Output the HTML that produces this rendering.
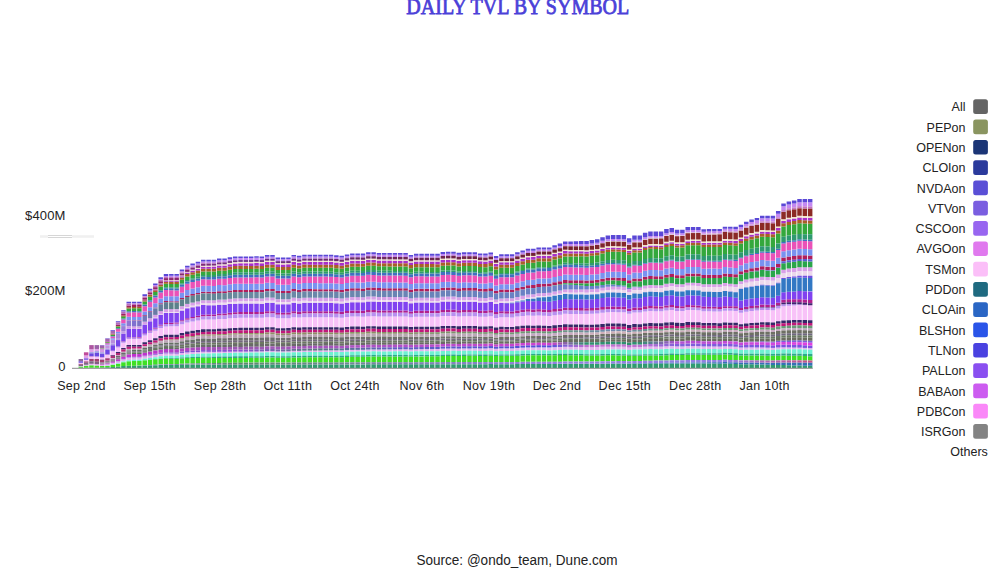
<!DOCTYPE html>
<html><head><meta charset="utf-8"><title>Daily TVL by Symbol</title>
<style>
html,body{margin:0;padding:0;background:#fff;}
body{width:1006px;height:570px;overflow:hidden;position:relative;}
svg{position:absolute;left:0;top:0;display:block;}
.t{font-family:"Liberation Serif",serif;fill:#4b40d8;}
.s{font-family:"Liberation Sans",sans-serif;fill:#222;}
</style></head><body>
<svg width="1006" height="570" viewBox="0 0 1006 570">
<text class="t" x="406.3" y="14.2" font-size="23" stroke="#4b40d8" stroke-width="0.8" textLength="223" lengthAdjust="spacingAndGlyphs">DAILY TVL BY SYMBOL</text>
<g class="s" font-size="13" letter-spacing="0.15">
<text x="65.6" y="219.6" text-anchor="end">$400M</text>
<text x="65.6" y="295.3" text-anchor="end">$200M</text>
<text x="65.6" y="370.5" text-anchor="end">0</text>
</g>
<path d="M48 235.5H72M48 237.5H72" stroke="#d6d6d6" stroke-width="1"/>
<path d="M40 236.5H48M72 236.5H94" stroke="#f0f0f0" stroke-width="2.5"/>
<g shape-rendering="auto">
<path fill="#2f9c70" d="M78.59 367.82h4.50v0.18h-4.50zM83.92 367.78h4.50v0.22h-4.50zM89.24 367.70h4.50v0.30h-4.50zM94.56 367.71h4.50v0.29h-4.50zM99.89 367.52h4.50v0.48h-4.50zM105.21 367.22h4.50v0.78h-4.50zM110.53 366.89h4.50v1.11h-4.50zM115.86 366.52h4.50v1.48h-4.50zM121.18 366.07h4.50v1.93h-4.50zM126.50 365.71h4.50v2.29h-4.50zM131.83 365.64h4.50v2.36h-4.50zM137.15 365.67h4.50v2.33h-4.50zM142.47 365.44h4.50v2.56h-4.50zM147.80 365.28h4.50v2.72h-4.50zM153.12 365.13h4.50v2.87h-4.50zM158.44 364.96h4.50v3.04h-4.50zM163.77 364.89h4.50v3.11h-4.50zM169.09 364.92h4.50v3.08h-4.50zM174.41 364.95h4.50v3.05h-4.50zM179.74 364.83h4.50v3.17h-4.50zM185.06 364.75h4.50v3.25h-4.50zM190.39 364.71h4.50v3.29h-4.50zM195.71 364.68h4.50v3.32h-4.50zM201.03 364.64h4.50v3.36h-4.50zM206.36 364.67h4.50v3.33h-4.50zM211.68 364.70h4.50v3.30h-4.50zM217.00 364.69h4.50v3.31h-4.50zM222.33 364.71h4.50v3.29h-4.50zM227.65 364.70h4.50v3.30h-4.50zM232.97 364.70h4.50v3.30h-4.50zM238.30 364.71h4.50v3.29h-4.50zM243.62 364.70h4.50v3.30h-4.50zM248.94 364.69h4.50v3.31h-4.50zM254.27 364.68h4.50v3.32h-4.50zM259.59 364.67h4.50v3.33h-4.50zM264.91 364.62h4.50v3.38h-4.50zM270.24 364.61h4.50v3.39h-4.50zM275.56 364.68h4.50v3.32h-4.50zM280.88 364.67h4.50v3.33h-4.50zM286.21 364.65h4.50v3.35h-4.50zM291.53 364.57h4.50v3.43h-4.50zM296.86 364.58h4.50v3.42h-4.50zM302.18 364.54h4.50v3.46h-4.50zM307.50 364.53h4.50v3.47h-4.50zM312.83 364.52h4.50v3.48h-4.50zM318.15 364.51h4.50v3.49h-4.50zM323.47 364.50h4.50v3.50h-4.50zM328.80 364.49h4.50v3.51h-4.50zM334.12 364.49h4.50v3.51h-4.50zM339.44 364.50h4.50v3.50h-4.50zM344.77 364.45h4.50v3.55h-4.50zM350.09 364.41h4.50v3.59h-4.50zM355.41 364.40h4.50v3.60h-4.50zM360.74 364.39h4.50v3.61h-4.50zM366.06 364.34h4.50v3.66h-4.50zM371.38 364.33h4.50v3.67h-4.50zM376.71 364.34h4.50v3.66h-4.50zM382.03 364.33h4.50v3.67h-4.50zM387.35 364.32h4.50v3.68h-4.50zM392.68 364.31h4.50v3.69h-4.50zM398.00 364.30h4.50v3.70h-4.50zM403.33 364.29h4.50v3.71h-4.50zM408.65 364.34h4.50v3.66h-4.50zM413.97 364.30h4.50v3.70h-4.50zM419.30 364.29h4.50v3.71h-4.50zM424.62 364.28h4.50v3.72h-4.50zM429.94 364.27h4.50v3.73h-4.50zM435.27 364.26h4.50v3.74h-4.50zM440.59 364.19h4.50v3.81h-4.50zM445.91 364.17h4.50v3.83h-4.50zM451.24 364.16h4.50v3.84h-4.50zM456.56 364.19h4.50v3.81h-4.50zM461.88 364.16h4.50v3.84h-4.50zM467.21 364.15h4.50v3.85h-4.50zM472.53 364.14h4.50v3.86h-4.50zM477.85 364.17h4.50v3.83h-4.50zM483.18 364.16h4.50v3.84h-4.50zM488.50 364.12h4.50v3.88h-4.50zM493.82 364.23h4.50v3.77h-4.50zM499.15 364.16h4.50v3.84h-4.50zM504.47 364.16h4.50v3.84h-4.50zM509.80 364.15h4.50v3.85h-4.50zM515.12 364.08h4.50v3.92h-4.50zM520.44 364.02h4.50v3.98h-4.50zM525.77 363.98h4.50v4.02h-4.50zM531.09 363.99h4.50v4.01h-4.50zM536.41 363.96h4.50v4.04h-4.50zM541.74 363.97h4.50v4.03h-4.50zM547.06 363.99h4.50v4.01h-4.50zM552.38 363.92h4.50v4.08h-4.50zM557.71 363.87h4.50v4.13h-4.50zM563.03 363.81h4.50v4.19h-4.50zM568.35 363.81h4.50v4.19h-4.50zM573.68 363.81h4.50v4.19h-4.50zM579.00 363.81h4.50v4.19h-4.50zM584.32 363.81h4.50v4.19h-4.50zM589.65 363.79h4.50v4.21h-4.50zM594.97 363.77h4.50v4.23h-4.50zM600.29 363.72h4.50v4.28h-4.50zM605.62 363.67h4.50v4.33h-4.50zM610.94 363.66h4.50v4.34h-4.50zM616.27 363.67h4.50v4.33h-4.50zM621.59 363.68h4.50v4.32h-4.50zM626.91 363.79h4.50v4.21h-4.50zM632.24 363.71h4.50v4.29h-4.50zM637.56 363.71h4.50v4.29h-4.50zM642.88 363.63h4.50v4.37h-4.50zM648.21 363.59h4.50v4.41h-4.50zM653.53 363.60h4.50v4.40h-4.50zM658.85 363.62h4.50v4.38h-4.50zM664.18 363.55h4.50v4.45h-4.50zM669.50 363.52h4.50v4.48h-4.50zM674.82 363.58h4.50v4.42h-4.50zM680.15 363.59h4.50v4.41h-4.50zM685.47 363.51h4.50v4.49h-4.50zM690.79 363.52h4.50v4.48h-4.50zM696.12 363.53h4.50v4.47h-4.50zM701.44 363.60h4.50v4.40h-4.50zM706.76 363.61h4.50v4.39h-4.50zM712.09 363.62h4.50v4.38h-4.50zM717.41 363.63h4.50v4.37h-4.50zM722.74 363.57h4.50v4.43h-4.50zM728.06 363.73h4.50v4.27h-4.50zM733.38 363.88h4.50v4.12h-4.50zM738.71 364.16h4.50v3.84h-4.50zM744.03 364.23h4.50v3.77h-4.50zM749.35 364.34h4.50v3.66h-4.50zM754.68 364.47h4.50v3.53h-4.50zM760.00 364.58h4.50v3.42h-4.50zM765.32 364.74h4.50v3.26h-4.50zM770.65 364.90h4.50v3.10h-4.50zM775.97 364.97h4.50v3.03h-4.50zM781.29 365.09h4.50v2.91h-4.50zM786.62 365.23h4.50v2.77h-4.50zM791.94 365.38h4.50v2.62h-4.50zM797.26 365.53h4.50v2.47h-4.50zM802.59 365.70h4.50v2.30h-4.50zM807.91 365.87h4.50v2.13h-4.50z"/>
<path fill="#3fe025" d="M78.59 366.45h4.50v1.36h-4.50zM83.92 365.87h4.50v1.90h-4.50zM89.24 365.25h4.50v2.45h-4.50zM94.56 365.49h4.50v2.22h-4.50zM99.89 366.05h4.50v1.47h-4.50zM105.21 365.96h4.50v1.26h-4.50zM110.53 364.87h4.50v2.02h-4.50zM115.86 363.68h4.50v2.85h-4.50zM121.18 362.30h4.50v3.77h-4.50zM126.50 361.16h4.50v4.54h-4.50zM131.83 360.92h4.50v4.72h-4.50zM137.15 361.00h4.50v4.57h-4.50zM142.47 360.30h4.50v4.93h-4.50zM147.80 359.82h4.50v5.14h-4.50zM153.12 359.36h4.50v5.32h-4.50zM158.44 358.83h4.50v5.54h-4.50zM163.77 358.60h4.50v5.57h-4.50zM169.09 358.69h4.50v5.42h-4.50zM174.41 358.78h4.50v5.27h-4.50zM179.74 358.40h4.50v5.39h-4.50zM185.06 358.12h4.50v5.44h-4.50zM190.39 357.99h4.50v5.42h-4.50zM195.71 357.90h4.50v5.37h-4.50zM201.03 357.79h4.50v5.34h-4.50zM206.36 357.86h4.50v5.21h-4.50zM211.68 357.93h4.50v5.09h-4.50zM217.00 357.90h4.50v5.02h-4.50zM222.33 357.96h4.50v4.91h-4.50zM227.65 357.91h4.50v4.85h-4.50zM232.97 357.90h4.50v4.77h-4.50zM238.30 357.95h4.50v4.68h-4.50zM243.62 357.91h4.50v4.71h-4.50zM248.94 357.87h4.50v4.74h-4.50zM254.27 357.81h4.50v4.78h-4.50zM259.59 357.79h4.50v4.80h-4.50zM264.91 357.62h4.50v4.89h-4.50zM270.24 357.58h4.50v4.92h-4.50zM275.56 357.77h4.50v4.84h-4.50zM280.88 357.73h4.50v4.87h-4.50zM286.21 357.68h4.50v4.90h-4.50zM291.53 357.41h4.50v5.04h-4.50zM296.86 357.46h4.50v5.03h-4.50zM302.18 357.32h4.50v5.10h-4.50zM307.50 357.28h4.50v5.13h-4.50zM312.83 357.25h4.50v5.16h-4.50zM318.15 357.21h4.50v5.19h-4.50zM323.47 357.17h4.50v5.22h-4.50zM328.80 357.13h4.50v5.25h-4.50zM334.12 357.13h4.50v5.26h-4.50zM339.44 357.15h4.50v5.26h-4.50zM344.77 356.97h4.50v5.35h-4.50zM350.09 356.84h4.50v5.43h-4.50zM355.41 356.80h4.50v5.46h-4.50zM360.74 356.78h4.50v5.48h-4.50zM366.06 356.61h4.50v5.57h-4.50zM371.38 356.57h4.50v5.60h-4.50zM376.71 356.60h4.50v5.59h-4.50zM382.03 356.56h4.50v5.62h-4.50zM387.35 356.53h4.50v5.65h-4.50zM392.68 356.49h4.50v5.68h-4.50zM398.00 356.45h4.50v5.71h-4.50zM403.33 356.41h4.50v5.74h-4.50zM408.65 356.56h4.50v5.67h-4.50zM413.97 356.41h4.50v5.76h-4.50zM419.30 356.38h4.50v5.78h-4.50zM424.62 356.34h4.50v5.81h-4.50zM429.94 356.30h4.50v5.84h-4.50zM435.27 356.26h4.50v5.87h-4.50zM440.59 356.04h4.50v5.99h-4.50zM445.91 355.97h4.50v6.03h-4.50zM451.24 355.93h4.50v6.06h-4.50zM456.56 356.01h4.50v6.03h-4.50zM461.88 355.91h4.50v6.09h-4.50zM467.21 355.87h4.50v6.12h-4.50zM472.53 355.83h4.50v6.15h-4.50zM477.85 355.92h4.50v6.11h-4.50zM483.18 355.91h4.50v6.13h-4.50zM488.50 355.75h4.50v6.22h-4.50zM493.82 356.10h4.50v6.05h-4.50zM499.15 355.87h4.50v6.18h-4.50zM504.47 355.86h4.50v6.19h-4.50zM509.80 355.85h4.50v6.20h-4.50zM515.12 355.62h4.50v6.33h-4.50zM520.44 355.42h4.50v6.44h-4.50zM525.77 355.28h4.50v6.52h-4.50zM531.09 355.31h4.50v6.51h-4.50zM536.41 355.20h4.50v6.58h-4.50zM541.74 355.24h4.50v6.57h-4.50zM547.06 355.27h4.50v6.56h-4.50zM552.38 355.17h4.50v6.56h-4.50zM557.71 355.12h4.50v6.53h-4.50zM563.03 355.02h4.50v6.53h-4.50zM568.35 355.14h4.50v6.41h-4.50zM573.68 355.24h4.50v6.30h-4.50zM579.00 355.33h4.50v6.21h-4.50zM584.32 355.44h4.50v6.09h-4.50zM589.65 355.48h4.50v6.02h-4.50zM594.97 355.51h4.50v5.95h-4.50zM600.29 355.39h4.50v5.93h-4.50zM605.62 355.31h4.50v5.89h-4.50zM610.94 355.33h4.50v5.80h-4.50zM616.27 355.41h4.50v5.68h-4.50zM621.59 355.48h4.50v5.57h-4.50zM626.91 355.86h4.50v5.33h-4.50zM632.24 355.66h4.50v5.34h-4.50zM637.56 355.71h4.50v5.24h-4.50zM642.88 355.52h4.50v5.24h-4.50zM648.21 355.46h4.50v5.19h-4.50zM653.53 355.43h4.50v5.18h-4.50zM658.85 355.41h4.50v5.17h-4.50zM664.18 355.14h4.50v5.27h-4.50zM669.50 354.99h4.50v5.31h-4.50zM674.82 355.11h4.50v5.24h-4.50zM680.15 355.07h4.50v5.24h-4.50zM685.47 354.78h4.50v5.34h-4.50zM690.79 354.73h4.50v5.34h-4.50zM696.12 354.69h4.50v5.33h-4.50zM701.44 354.86h4.50v5.25h-4.50zM706.76 354.80h4.50v5.25h-4.50zM712.09 354.77h4.50v5.25h-4.50zM717.41 354.73h4.50v5.24h-4.50zM722.74 354.49h4.50v5.32h-4.50zM728.06 354.69h4.50v5.23h-4.50zM733.38 354.89h4.50v5.15h-4.50zM738.71 355.46h4.50v4.91h-4.50zM744.03 355.40h4.50v4.92h-4.50zM749.35 355.44h4.50v4.90h-4.50zM754.68 355.52h4.50v4.86h-4.50zM760.00 355.55h4.50v4.84h-4.50zM765.32 355.71h4.50v4.74h-4.50zM770.65 355.87h4.50v4.65h-4.50zM775.97 355.66h4.50v4.69h-4.50zM781.29 355.62h4.50v4.67h-4.50zM786.62 355.66h4.50v4.62h-4.50zM791.94 355.77h4.50v4.54h-4.50zM797.26 355.85h4.50v4.48h-4.50zM802.59 356.03h4.50v4.37h-4.50zM807.91 356.21h4.50v4.27h-4.50z"/>
<path fill="#e4b4ee" d="M78.59 366.00h4.50v0.45h-4.50zM83.92 364.73h4.50v1.14h-4.50zM89.24 363.88h4.50v1.37h-4.50zM94.56 364.34h4.50v1.16h-4.50zM99.89 364.87h4.50v1.09h-4.50zM105.21 364.40h4.50v1.35h-4.50zM110.53 362.92h4.50v1.61h-4.50zM115.86 361.30h4.50v1.90h-4.50zM121.18 359.28h4.50v2.26h-4.50zM126.50 357.63h4.50v2.52h-4.50zM131.83 357.33h4.50v2.46h-4.50zM137.15 357.41h4.50v2.31h-4.50zM142.47 356.29h4.50v2.42h-4.50zM147.80 355.50h4.50v2.45h-4.50zM153.12 354.73h4.50v2.46h-4.50zM158.44 353.85h4.50v2.47h-4.50zM163.77 353.44h4.50v2.41h-4.50zM169.09 353.52h4.50v2.26h-4.50zM174.41 353.59h4.50v2.12h-4.50zM179.74 352.95h4.50v2.08h-4.50zM185.06 352.46h4.50v2.02h-4.50zM190.39 352.19h4.50v1.93h-4.50zM195.71 351.99h4.50v1.83h-4.50zM201.03 351.76h4.50v1.73h-4.50zM206.36 351.82h4.50v1.61h-4.50zM211.68 351.88h4.50v1.49h-4.50zM217.00 351.78h4.50v1.39h-4.50zM222.33 351.84h4.50v1.28h-4.50zM227.65 351.70h4.50v1.19h-4.50zM232.97 351.65h4.50v1.09h-4.50zM238.30 351.67h4.50v1.00h-4.50zM243.62 351.61h4.50v1.03h-4.50zM248.94 351.55h4.50v1.06h-4.50zM254.27 351.46h4.50v1.10h-4.50zM259.59 351.42h4.50v1.13h-4.50zM264.91 351.15h4.50v1.18h-4.50zM270.24 351.09h4.50v1.21h-4.50zM275.56 351.40h4.50v1.22h-4.50zM280.88 351.34h4.50v1.25h-4.50zM286.21 351.27h4.50v1.28h-4.50zM291.53 350.83h4.50v1.34h-4.50zM296.86 350.90h4.50v1.37h-4.50zM302.18 350.69h4.50v1.41h-4.50zM307.50 350.63h4.50v1.44h-4.50zM312.83 350.56h4.50v1.48h-4.50zM318.15 350.50h4.50v1.51h-4.50zM323.47 350.44h4.50v1.54h-4.50zM328.80 350.38h4.50v1.57h-4.50zM334.12 350.38h4.50v1.60h-4.50zM339.44 350.41h4.50v1.63h-4.50zM344.77 350.13h4.50v1.68h-4.50zM350.09 349.91h4.50v1.73h-4.50zM355.41 349.85h4.50v1.76h-4.50zM360.74 349.82h4.50v1.79h-4.50zM366.06 349.55h4.50v1.84h-4.50zM371.38 349.49h4.50v1.87h-4.50zM376.71 349.54h4.50v1.90h-4.50zM382.03 349.48h4.50v1.93h-4.50zM387.35 349.42h4.50v1.96h-4.50zM392.68 349.36h4.50v1.99h-4.50zM398.00 349.30h4.50v2.03h-4.50zM403.33 349.24h4.50v2.06h-4.50zM408.65 349.49h4.50v2.06h-4.50zM413.97 349.25h4.50v2.11h-4.50zM419.30 349.19h4.50v2.14h-4.50zM424.62 349.13h4.50v2.17h-4.50zM429.94 349.07h4.50v2.20h-4.50zM435.27 349.01h4.50v2.24h-4.50zM440.59 348.65h4.50v2.30h-4.50zM445.91 348.54h4.50v2.34h-4.50zM451.24 348.48h4.50v2.37h-4.50zM456.56 348.61h4.50v2.38h-4.50zM461.88 348.44h4.50v2.43h-4.50zM467.21 348.38h4.50v2.46h-4.50zM472.53 348.33h4.50v2.49h-4.50zM477.85 348.47h4.50v2.50h-4.50zM483.18 348.45h4.50v2.52h-4.50zM488.50 348.20h4.50v2.58h-4.50zM493.82 348.76h4.50v2.53h-4.50zM499.15 348.39h4.50v2.60h-4.50zM504.47 348.38h4.50v2.63h-4.50zM509.80 348.36h4.50v2.65h-4.50zM515.12 348.00h4.50v2.72h-4.50zM520.44 347.67h4.50v2.79h-4.50zM525.77 347.44h4.50v2.85h-4.50zM531.09 347.50h4.50v2.86h-4.50zM536.41 347.32h4.50v2.91h-4.50zM541.74 347.38h4.50v2.92h-4.50zM547.06 347.44h4.50v2.94h-4.50zM552.38 347.19h4.50v2.95h-4.50zM557.71 347.03h4.50v2.95h-4.50zM563.03 346.78h4.50v2.96h-4.50zM568.35 346.90h4.50v2.92h-4.50zM573.68 346.98h4.50v2.88h-4.50zM579.00 347.05h4.50v2.85h-4.50zM584.32 347.16h4.50v2.81h-4.50zM589.65 347.14h4.50v2.79h-4.50zM594.97 347.11h4.50v2.77h-4.50zM600.29 346.87h4.50v2.77h-4.50zM605.62 346.67h4.50v2.77h-4.50zM610.94 346.67h4.50v2.74h-4.50zM616.27 346.75h4.50v2.70h-4.50zM621.59 346.82h4.50v2.66h-4.50zM626.91 347.41h4.50v2.56h-4.50zM632.24 347.03h4.50v2.58h-4.50zM637.56 347.07h4.50v2.54h-4.50zM642.88 346.70h4.50v2.56h-4.50zM648.21 346.54h4.50v2.55h-4.50zM653.53 346.60h4.50v2.55h-4.50zM658.85 346.65h4.50v2.55h-4.50zM664.18 346.28h4.50v2.59h-4.50zM669.50 346.13h4.50v2.62h-4.50zM674.82 346.43h4.50v2.59h-4.50zM680.15 346.45h4.50v2.59h-4.50zM685.47 346.06h4.50v2.64h-4.50zM690.79 346.08h4.50v2.65h-4.50zM696.12 346.11h4.50v2.65h-4.50zM701.44 346.47h4.50v2.61h-4.50zM706.76 346.47h4.50v2.62h-4.50zM712.09 346.51h4.50v2.62h-4.50zM717.41 346.54h4.50v2.62h-4.50zM722.74 346.24h4.50v2.66h-4.50zM728.06 346.49h4.50v2.58h-4.50zM733.38 346.74h4.50v2.50h-4.50zM738.71 347.60h4.50v2.35h-4.50zM744.03 347.43h4.50v2.32h-4.50zM749.35 347.41h4.50v2.27h-4.50zM754.68 347.47h4.50v2.21h-4.50zM760.00 347.45h4.50v2.16h-4.50zM765.32 347.68h4.50v2.07h-4.50zM770.65 347.90h4.50v1.99h-4.50zM775.97 347.51h4.50v1.97h-4.50zM781.29 347.40h4.50v1.91h-4.50zM786.62 347.43h4.50v1.85h-4.50zM791.94 347.56h4.50v1.77h-4.50zM797.26 347.66h4.50v1.70h-4.50zM802.59 347.92h4.50v1.61h-4.50zM807.91 348.18h4.50v1.52h-4.50z"/>
<path fill="#7a6a88" d="M78.59 365.59h4.50v0.41h-4.50zM78.59 365.32h4.50v0.27h-4.50zM78.59 365.05h4.50v0.27h-4.50zM78.59 364.64h4.50v0.41h-4.50z"/>
<path fill="#a04070" d="M78.59 363.73h4.50v0.91h-4.50zM83.92 361.30h4.50v1.43h-4.50zM89.24 358.65h4.50v2.56h-4.50zM94.56 358.94h4.50v2.89h-4.50z"/>
<path fill="#f8c2f8" d="M78.59 362.64h4.50v1.09h-4.50zM83.92 359.87h4.50v1.43h-4.50zM89.24 356.43h4.50v2.22h-4.50zM94.56 356.62h4.50v2.31h-4.50zM99.89 357.40h4.50v2.29h-4.50zM105.21 354.94h4.50v2.95h-4.50zM110.53 351.36h4.50v3.65h-4.50zM115.86 347.53h4.50v4.39h-4.50zM121.18 342.67h4.50v5.34h-4.50zM126.50 339.00h4.50v6.02h-4.50zM131.83 339.01h4.50v5.95h-4.50zM137.15 338.95h4.50v5.95h-4.50zM142.47 335.59h4.50v6.62h-4.50zM147.80 333.10h4.50v7.10h-4.50zM153.12 330.66h4.50v7.59h-4.50zM158.44 327.90h4.50v8.13h-4.50zM163.77 326.41h4.50v8.41h-4.50zM169.09 326.35h4.50v8.41h-4.50zM174.41 326.29h4.50v8.40h-4.50zM179.74 324.14h4.50v8.82h-4.50zM185.06 322.43h4.50v9.15h-4.50zM190.39 321.40h4.50v9.34h-4.50zM195.71 320.55h4.50v9.50h-4.50zM201.03 319.60h4.50v9.68h-4.50zM206.36 319.56h4.50v9.67h-4.50zM211.68 319.51h4.50v9.67h-4.50zM217.00 318.97h4.50v9.77h-4.50zM222.33 318.93h4.50v9.76h-4.50zM227.65 318.31h4.50v9.88h-4.50zM232.97 317.95h4.50v9.94h-4.50zM238.30 317.82h4.50v9.96h-4.50zM243.62 317.83h4.50v9.95h-4.50zM248.94 317.84h4.50v9.94h-4.50zM254.27 317.75h4.50v9.94h-4.50zM259.59 317.85h4.50v9.92h-4.50zM264.91 317.22h4.50v10.03h-4.50zM270.24 317.23h4.50v10.02h-4.50zM275.56 318.36h4.50v9.79h-4.50zM280.88 318.37h4.50v9.78h-4.50zM286.21 318.33h4.50v9.78h-4.50zM291.53 317.21h4.50v9.99h-4.50zM296.86 317.62h4.50v9.90h-4.50zM302.18 317.18h4.50v9.98h-4.50zM307.50 317.18h4.50v9.97h-4.50zM312.83 317.19h4.50v9.96h-4.50zM318.15 317.19h4.50v9.95h-4.50zM323.47 317.20h4.50v9.94h-4.50zM328.80 317.20h4.50v9.93h-4.50zM334.12 317.39h4.50v9.88h-4.50zM339.44 317.67h4.50v9.82h-4.50zM344.77 317.04h4.50v9.93h-4.50zM350.09 316.60h4.50v10.01h-4.50zM355.41 316.61h4.50v10.00h-4.50zM360.74 316.70h4.50v9.97h-4.50zM366.06 316.12h4.50v10.08h-4.50zM371.38 316.13h4.50v10.07h-4.50zM376.71 316.45h4.50v10.00h-4.50zM382.03 316.46h4.50v9.99h-4.50zM387.35 316.46h4.50v9.98h-4.50zM392.68 316.47h4.50v9.97h-4.50zM398.00 316.47h4.50v9.96h-4.50zM403.33 316.48h4.50v9.95h-4.50zM408.65 317.33h4.50v9.77h-4.50zM413.97 316.85h4.50v9.86h-4.50zM419.30 316.85h4.50v9.85h-4.50zM424.62 316.86h4.50v9.84h-4.50zM429.94 316.86h4.50v9.83h-4.50zM435.27 316.87h4.50v9.82h-4.50zM440.59 316.07h4.50v9.97h-4.50zM445.91 315.94h4.50v9.98h-4.50zM451.24 315.95h4.50v9.97h-4.50zM456.56 316.44h4.50v9.87h-4.50zM461.88 316.18h4.50v9.91h-4.50zM467.21 316.19h4.50v9.90h-4.50zM472.53 316.19h4.50v9.89h-4.50zM477.85 316.74h4.50v9.78h-4.50zM483.18 316.83h4.50v9.75h-4.50zM488.50 316.34h4.50v9.84h-4.50zM493.82 317.96h4.50v9.52h-4.50zM499.15 317.16h4.50v9.67h-4.50zM504.47 317.27h4.50v9.64h-4.50zM509.80 317.39h4.50v9.61h-4.50zM515.12 316.61h4.50v9.75h-4.50zM520.44 315.92h4.50v9.87h-4.50zM525.77 315.49h4.50v9.94h-4.50zM531.09 315.80h4.50v9.87h-4.50zM536.41 315.50h4.50v9.92h-4.50zM541.74 315.81h4.50v9.85h-4.50zM547.06 316.12h4.50v9.79h-4.50zM552.38 315.28h4.50v10.02h-4.50zM557.71 314.70h4.50v10.20h-4.50zM563.03 313.87h4.50v10.44h-4.50zM568.35 313.97h4.50v10.49h-4.50zM573.68 313.99h4.50v10.56h-4.50zM579.00 313.97h4.50v10.64h-4.50zM584.32 314.07h4.50v10.69h-4.50zM589.65 313.83h4.50v10.81h-4.50zM594.97 313.55h4.50v10.93h-4.50zM600.29 312.81h4.50v11.14h-4.50zM605.62 312.18h4.50v11.33h-4.50zM610.94 312.07h4.50v11.41h-4.50zM616.27 312.16h4.50v11.46h-4.50zM621.59 312.25h4.50v11.50h-4.50zM626.91 313.68h4.50v11.26h-4.50zM632.24 312.58h4.50v11.54h-4.50zM637.56 312.60h4.50v11.60h-4.50zM642.88 311.49h4.50v11.89h-4.50zM648.21 310.97h4.50v12.05h-4.50zM653.53 311.16h4.50v11.99h-4.50zM658.85 311.36h4.50v11.93h-4.50zM664.18 310.41h4.50v12.11h-4.50zM669.50 310.05h4.50v12.17h-4.50zM674.82 310.89h4.50v11.97h-4.50zM680.15 310.98h4.50v11.93h-4.50zM685.47 310.00h4.50v12.12h-4.50zM690.79 310.10h4.50v12.08h-4.50zM696.12 310.22h4.50v12.03h-4.50zM701.44 311.21h4.50v11.81h-4.50zM706.76 311.25h4.50v11.78h-4.50zM712.09 311.39h4.50v11.73h-4.50zM717.41 311.53h4.50v11.69h-4.50zM722.74 310.78h4.50v11.82h-4.50zM728.06 310.86h4.50v11.84h-4.50zM733.38 310.94h4.50v11.86h-4.50zM738.71 312.68h4.50v11.53h-4.50zM744.03 311.65h4.50v11.78h-4.50zM749.35 311.02h4.50v11.95h-4.50zM754.68 310.58h4.50v12.08h-4.50zM760.00 309.91h4.50v12.25h-4.50zM765.32 310.04h4.50v12.25h-4.50zM770.65 310.17h4.50v12.24h-4.50zM775.97 308.52h4.50v12.62h-4.50zM781.29 306.21h4.50v14.30h-4.50zM786.62 305.64h4.50v14.53h-4.50zM791.94 305.38h4.50v14.70h-4.50zM797.26 305.01h4.50v14.90h-4.50zM802.59 305.15h4.50v14.97h-4.50zM807.91 305.30h4.50v15.04h-4.50z"/>
<path fill="#6a48e0" d="M78.59 361.27h4.50v1.36h-4.50zM83.92 358.30h4.50v1.52h-4.50zM89.24 353.24h4.50v3.07h-4.50zM94.56 352.81h4.50v3.66h-4.50z"/>
<path fill="#8a6a9a" d="M78.59 359.00h4.50v2.27h-4.50z"/>
<path fill="#cb40d7" d="M83.92 364.63h4.50v0.10h-4.50z"/>
<path fill="#7c6785" d="M83.92 364.06h4.50v0.57h-4.50zM83.92 363.68h4.50v0.38h-4.50zM83.92 363.30h4.50v0.38h-4.50zM83.92 362.73h4.50v0.57h-4.50z"/>
<path fill="#b0208f" d="M83.92 359.82h4.50v0.05h-4.50zM89.24 356.31h4.50v0.11h-4.50zM94.56 356.48h4.50v0.14h-4.50zM99.89 357.11h4.50v0.16h-4.50zM105.21 354.42h4.50v0.21h-4.50zM110.53 350.60h4.50v0.27h-4.50zM115.86 346.49h4.50v0.33h-4.50zM121.18 341.30h4.50v0.41h-4.50zM126.50 337.36h4.50v0.47h-4.50zM131.83 337.31h4.50v0.47h-4.50zM137.15 337.11h4.50v0.53h-4.50zM142.47 333.41h4.50v0.65h-4.50zM147.80 330.62h4.50v0.77h-4.50zM153.12 327.85h4.50v0.88h-4.50zM158.44 324.75h4.50v1.01h-4.50zM163.77 323.01h4.50v1.11h-4.50zM169.09 322.81h4.50v1.17h-4.50zM174.41 322.62h4.50v1.23h-4.50zM179.74 320.15h4.50v1.35h-4.50zM185.06 318.17h4.50v1.46h-4.50zM190.39 316.92h4.50v1.55h-4.50zM195.71 315.86h4.50v1.63h-4.50zM201.03 314.71h4.50v1.71h-4.50zM206.36 314.55h4.50v1.76h-4.50zM211.68 314.40h4.50v1.81h-4.50zM217.00 313.70h4.50v1.88h-4.50zM222.33 313.56h4.50v1.92h-4.50zM227.65 312.77h4.50v1.99h-4.50zM232.97 312.28h4.50v2.05h-4.50zM238.30 312.05h4.50v2.09h-4.50zM243.62 312.05h4.50v2.10h-4.50zM248.94 312.06h4.50v2.10h-4.50zM254.27 311.96h4.50v2.11h-4.50zM259.59 312.06h4.50v2.12h-4.50zM264.91 311.36h4.50v2.15h-4.50zM270.24 311.37h4.50v2.16h-4.50zM275.56 312.62h4.50v2.11h-4.50zM280.88 312.63h4.50v2.12h-4.50zM286.21 312.58h4.50v2.13h-4.50zM291.53 311.33h4.50v2.18h-4.50zM296.86 311.78h4.50v2.17h-4.50zM302.18 311.29h4.50v2.20h-4.50zM307.50 311.29h4.50v2.20h-4.50zM312.83 311.29h4.50v2.21h-4.50zM318.15 311.29h4.50v2.22h-4.50zM323.47 311.30h4.50v2.22h-4.50zM328.80 311.30h4.50v2.23h-4.50zM334.12 311.50h4.50v2.23h-4.50zM339.44 311.81h4.50v2.22h-4.50zM344.77 311.11h4.50v2.26h-4.50zM350.09 310.61h4.50v2.28h-4.50zM355.41 310.62h4.50v2.29h-4.50zM360.74 310.72h4.50v2.29h-4.50zM366.06 310.07h4.50v2.32h-4.50zM371.38 310.07h4.50v2.33h-4.50zM376.71 310.43h4.50v2.32h-4.50zM382.03 310.43h4.50v2.33h-4.50zM387.35 310.43h4.50v2.34h-4.50zM392.68 310.44h4.50v2.34h-4.50zM398.00 310.44h4.50v2.35h-4.50zM403.33 310.44h4.50v2.36h-4.50zM408.65 311.40h4.50v2.32h-4.50zM413.97 310.85h4.50v2.35h-4.50zM419.30 310.85h4.50v2.36h-4.50zM424.62 310.85h4.50v2.36h-4.50zM429.94 310.86h4.50v2.37h-4.50zM435.27 310.86h4.50v2.38h-4.50zM440.59 309.96h4.50v2.42h-4.50zM445.91 309.82h4.50v2.43h-4.50zM451.24 309.82h4.50v2.44h-4.50zM456.56 310.37h4.50v2.42h-4.50zM461.88 310.07h4.50v2.44h-4.50zM467.21 310.08h4.50v2.45h-4.50zM472.53 310.08h4.50v2.45h-4.50zM477.85 310.68h4.50v2.43h-4.50zM483.18 310.79h4.50v2.44h-4.50zM488.50 310.24h4.50v2.46h-4.50zM493.82 312.04h4.50v2.39h-4.50zM499.15 311.15h4.50v2.44h-4.50zM504.47 311.27h4.50v2.44h-4.50zM509.80 311.39h4.50v2.44h-4.50zM515.12 310.52h4.50v2.48h-4.50zM520.44 309.75h4.50v2.52h-4.50zM525.77 309.26h4.50v2.55h-4.50zM531.09 309.61h4.50v2.54h-4.50zM536.41 309.27h4.50v2.56h-4.50zM541.74 309.61h4.50v2.55h-4.50zM547.06 309.95h4.50v2.55h-4.50zM552.38 309.10h4.50v2.57h-4.50zM557.71 308.54h4.50v2.59h-4.50zM563.03 307.69h4.50v2.62h-4.50zM568.35 307.90h4.50v2.60h-4.50zM573.68 308.01h4.50v2.59h-4.50zM579.00 308.07h4.50v2.58h-4.50zM584.32 308.26h4.50v2.56h-4.50zM589.65 308.08h4.50v2.56h-4.50zM594.97 307.86h4.50v2.56h-4.50zM600.29 307.12h4.50v2.58h-4.50zM605.62 306.52h4.50v2.60h-4.50zM610.94 306.48h4.50v2.59h-4.50zM616.27 306.67h4.50v2.57h-4.50zM621.59 306.86h4.50v2.56h-4.50zM626.91 308.51h4.50v2.48h-4.50zM632.24 307.38h4.50v2.51h-4.50zM637.56 307.49h4.50v2.50h-4.50zM642.88 306.36h4.50v2.54h-4.50zM648.21 305.87h4.50v2.55h-4.50zM653.53 306.13h4.50v2.50h-4.50zM658.85 306.38h4.50v2.45h-4.50zM664.18 305.39h4.50v2.45h-4.50zM669.50 305.04h4.50v2.42h-4.50zM674.82 305.99h4.50v2.34h-4.50zM680.15 306.14h4.50v2.30h-4.50zM685.47 305.12h4.50v2.29h-4.50zM690.79 305.26h4.50v2.25h-4.50zM696.12 305.44h4.50v2.20h-4.50zM701.44 306.55h4.50v2.12h-4.50zM706.76 306.63h4.50v2.08h-4.50zM712.09 306.83h4.50v2.03h-4.50zM717.41 307.02h4.50v1.99h-4.50zM722.74 306.24h4.50v1.97h-4.50zM728.06 306.23h4.50v2.04h-4.50zM733.38 306.22h4.50v2.11h-4.50zM738.71 308.02h4.50v2.11h-4.50zM744.03 306.81h4.50v2.22h-4.50zM749.35 306.02h4.50v2.32h-4.50zM754.68 305.44h4.50v2.41h-4.50zM760.00 304.61h4.50v2.51h-4.50zM765.32 304.67h4.50v2.57h-4.50zM770.65 304.72h4.50v2.63h-4.50zM775.97 302.82h4.50v2.78h-4.50zM781.29 299.75h4.50v2.88h-4.50zM786.62 299.36h4.50v2.98h-4.50zM791.94 299.31h4.50v3.05h-4.50zM797.26 299.13h4.50v3.14h-4.50zM802.59 299.52h4.50v3.20h-4.50zM807.91 299.91h4.50v3.25h-4.50z"/>
<path fill="#e0a0e8" d="M83.92 355.44h4.50v2.86h-4.50zM89.24 349.26h4.50v3.07h-4.50zM94.56 348.96h4.50v2.31h-4.50z"/>
<path fill="#c04a9a" d="M83.92 352.30h4.50v3.14h-4.50z"/>
<path fill="#ca3ed6" d="M89.24 363.66h4.50v0.23h-4.50z"/>
<path fill="#7e6383" d="M89.24 362.92h4.50v0.73h-4.50zM89.24 362.43h4.50v0.49h-4.50zM89.24 361.94h4.50v0.49h-4.50zM89.24 361.21h4.50v0.73h-4.50z"/>
<path fill="#9090e0" d="M89.24 352.33h4.50v0.91h-4.50zM94.56 351.27h4.50v1.54h-4.50z"/>
<path fill="#ad55a1" d="M89.24 345.10h4.50v4.16h-4.50z"/>
<path fill="#c83dd6" d="M94.56 364.05h4.50v0.29h-4.50z"/>
<path fill="#806080" d="M94.56 363.38h4.50v0.67h-4.50zM94.56 362.94h4.50v0.44h-4.50zM94.56 362.49h4.50v0.44h-4.50zM94.56 361.83h4.50v0.67h-4.50z"/>
<path fill="#9a60a8" d="M94.56 345.10h4.50v3.86h-4.50z"/>
<path fill="#6ff0d2" d="M99.89 365.95h4.50v0.10h-4.50zM105.21 365.75h4.50v0.21h-4.50zM110.53 364.53h4.50v0.34h-4.50zM115.86 363.20h4.50v0.47h-4.50zM121.18 361.55h4.50v0.75h-4.50zM126.50 360.15h4.50v1.01h-4.50zM131.83 359.78h4.50v1.13h-4.50zM137.15 359.72h4.50v1.21h-4.50zM142.47 358.71h4.50v1.44h-4.50zM147.80 357.94h4.50v1.63h-4.50zM153.12 357.18h4.50v1.83h-4.50zM158.44 356.33h4.50v2.05h-4.50zM163.77 355.84h4.50v2.21h-4.50zM169.09 355.77h4.50v2.30h-4.50zM174.41 355.71h4.50v2.38h-4.50zM179.74 355.03h4.50v2.57h-4.50zM185.06 354.48h4.50v2.75h-4.50zM190.39 354.12h4.50v2.89h-4.50zM195.71 353.82h4.50v3.01h-4.50zM201.03 353.49h4.50v3.14h-4.50zM206.36 353.43h4.50v3.21h-4.50zM211.68 353.37h4.50v3.28h-4.50zM217.00 353.17h4.50v3.38h-4.50zM222.33 353.12h4.50v3.44h-4.50zM227.65 352.89h4.50v3.54h-4.50zM232.97 352.74h4.50v3.62h-4.50zM238.30 352.67h4.50v3.68h-4.50zM243.62 352.64h4.50v3.68h-4.50zM248.94 352.61h4.50v3.68h-4.50zM254.27 352.55h4.50v3.68h-4.50zM259.59 352.55h4.50v3.67h-4.50zM264.91 352.33h4.50v3.71h-4.50zM270.24 352.30h4.50v3.71h-4.50zM275.56 352.62h4.50v3.62h-4.50zM280.88 352.59h4.50v3.62h-4.50zM286.21 352.55h4.50v3.62h-4.50zM291.53 352.17h4.50v3.70h-4.50zM296.86 352.27h4.50v3.66h-4.50zM302.18 352.10h4.50v3.69h-4.50zM307.50 352.07h4.50v3.69h-4.50zM312.83 352.04h4.50v3.68h-4.50zM318.15 352.01h4.50v3.68h-4.50zM323.47 351.98h4.50v3.68h-4.50zM328.80 351.95h4.50v3.67h-4.50zM334.12 351.98h4.50v3.66h-4.50zM339.44 352.04h4.50v3.63h-4.50zM344.77 351.81h4.50v3.68h-4.50zM350.09 351.64h4.50v3.70h-4.50zM355.41 351.61h4.50v3.70h-4.50zM360.74 351.61h4.50v3.69h-4.50zM366.06 351.40h4.50v3.73h-4.50zM371.38 351.37h4.50v3.73h-4.50zM376.71 351.44h4.50v3.70h-4.50zM382.03 351.41h4.50v3.70h-4.50zM387.35 351.38h4.50v3.69h-4.50zM392.68 351.35h4.50v3.69h-4.50zM398.00 351.33h4.50v3.68h-4.50zM403.33 351.30h4.50v3.68h-4.50zM408.65 351.55h4.50v3.62h-4.50zM413.97 351.36h4.50v3.65h-4.50zM419.30 351.33h4.50v3.64h-4.50zM424.62 351.30h4.50v3.64h-4.50zM429.94 351.27h4.50v3.64h-4.50zM435.27 351.25h4.50v3.63h-4.50zM440.59 350.95h4.50v3.69h-4.50zM445.91 350.88h4.50v3.69h-4.50zM451.24 350.85h4.50v3.69h-4.50zM456.56 350.99h4.50v3.65h-4.50zM461.88 350.87h4.50v3.67h-4.50zM467.21 350.84h4.50v3.66h-4.50zM472.53 350.82h4.50v3.66h-4.50zM477.85 350.97h4.50v3.62h-4.50zM483.18 350.97h4.50v3.61h-4.50zM488.50 350.78h4.50v3.64h-4.50zM493.82 351.29h4.50v3.52h-4.50zM499.15 350.99h4.50v3.58h-4.50zM504.47 351.00h4.50v3.57h-4.50zM509.80 351.01h4.50v3.55h-4.50zM515.12 350.72h4.50v3.61h-4.50zM520.44 350.46h4.50v3.65h-4.50zM525.77 350.28h4.50v3.68h-4.50zM531.09 350.36h4.50v3.65h-4.50zM536.41 350.23h4.50v3.67h-4.50zM541.74 350.31h4.50v3.65h-4.50zM547.06 350.38h4.50v3.62h-4.50zM552.38 350.14h4.50v3.74h-4.50zM557.71 349.98h4.50v3.84h-4.50zM563.03 349.74h4.50v3.97h-4.50zM568.35 349.82h4.50v4.02h-4.50zM573.68 349.87h4.50v4.08h-4.50zM579.00 349.90h4.50v4.14h-4.50zM584.32 349.97h4.50v4.19h-4.50zM589.65 349.93h4.50v4.27h-4.50zM594.97 349.88h4.50v4.35h-4.50zM600.29 349.64h4.50v4.46h-4.50zM605.62 349.44h4.50v4.57h-4.50zM610.94 349.41h4.50v4.63h-4.50zM616.27 349.44h4.50v4.68h-4.50zM621.59 349.48h4.50v4.72h-4.50zM626.91 349.96h4.50v4.65h-4.50zM632.24 349.60h4.50v4.80h-4.50zM637.56 349.62h4.50v4.85h-4.50zM642.88 349.25h4.50v5.00h-4.50zM648.21 349.09h4.50v5.10h-4.50zM653.53 349.14h4.50v5.00h-4.50zM658.85 349.20h4.50v4.90h-4.50zM664.18 348.88h4.50v4.89h-4.50zM669.50 348.75h4.50v4.84h-4.50zM674.82 349.02h4.50v4.69h-4.50zM680.15 349.04h4.50v4.59h-4.50zM685.47 348.71h4.50v4.59h-4.50zM690.79 348.73h4.50v4.50h-4.50zM696.12 348.76h4.50v4.40h-4.50zM701.44 349.08h4.50v4.24h-4.50zM706.76 349.09h4.50v4.16h-4.50zM712.09 349.12h4.50v4.06h-4.50zM717.41 349.16h4.50v3.97h-4.50zM722.74 348.90h4.50v3.94h-4.50zM728.06 349.07h4.50v3.95h-4.50zM733.38 349.24h4.50v3.96h-4.50zM738.71 349.95h4.50v3.85h-4.50zM744.03 349.75h4.50v3.93h-4.50zM749.35 349.68h4.50v3.99h-4.50zM754.68 349.68h4.50v4.04h-4.50zM760.00 349.61h4.50v4.10h-4.50zM765.32 349.75h4.50v4.10h-4.50zM770.65 349.89h4.50v4.10h-4.50zM775.97 349.47h4.50v4.23h-4.50zM781.29 349.31h4.50v4.30h-4.50zM786.62 349.28h4.50v4.34h-4.50zM791.94 349.33h4.50v4.36h-4.50zM797.26 349.36h4.50v4.39h-4.50zM802.59 349.53h4.50v4.38h-4.50zM807.91 349.71h4.50v4.37h-4.50z"/>
<path fill="#6f50d7" d="M99.89 364.81h4.50v0.06h-4.50z"/>
<path fill="#c73bd5" d="M99.89 364.27h4.50v0.54h-4.50z"/>
<path fill="#7b627b" d="M99.89 363.68h4.50v0.59h-4.50zM99.89 362.29h4.50v0.59h-4.50z"/>
<path fill="#7d647c" d="M99.89 363.28h4.50v0.40h-4.50z"/>
<path fill="#7e6180" d="M99.89 362.88h4.50v0.40h-4.50z"/>
<path fill="#c2a7c1" d="M99.89 362.11h4.50v0.18h-4.50zM105.21 360.61h4.50v0.38h-4.50z"/>
<path fill="#a53a71" d="M99.89 359.91h4.50v2.20h-4.50z"/>
<path fill="#352868" d="M99.89 359.70h4.50v0.21h-4.50zM105.21 357.89h4.50v0.46h-4.50zM110.53 355.01h4.50v0.73h-4.50zM115.86 351.92h4.50v1.03h-4.50zM121.18 348.01h4.50v1.40h-4.50zM126.50 345.02h4.50v1.71h-4.50zM131.83 344.96h4.50v1.79h-4.50zM137.15 344.89h4.50v1.77h-4.50zM142.47 342.20h4.50v1.95h-4.50zM147.80 340.21h4.50v2.08h-4.50zM153.12 338.24h4.50v2.20h-4.50zM158.44 336.02h4.50v2.33h-4.50zM163.77 334.82h4.50v2.39h-4.50zM169.09 334.76h4.50v2.37h-4.50zM174.41 334.69h4.50v2.35h-4.50zM179.74 332.96h4.50v2.45h-4.50zM185.06 331.58h4.50v2.53h-4.50zM190.39 330.74h4.50v2.56h-4.50zM195.71 330.05h4.50v2.59h-4.50zM201.03 329.28h4.50v2.62h-4.50zM206.36 329.23h4.50v2.60h-4.50zM211.68 329.18h4.50v2.58h-4.50zM217.00 328.74h4.50v2.59h-4.50zM222.33 328.70h4.50v2.58h-4.50zM227.65 328.19h4.50v2.60h-4.50zM232.97 327.89h4.50v2.60h-4.50zM238.30 327.78h4.50v2.59h-4.50zM243.62 327.78h4.50v2.59h-4.50zM248.94 327.77h4.50v2.58h-4.50zM254.27 327.70h4.50v2.59h-4.50zM259.59 327.76h4.50v2.58h-4.50zM264.91 327.25h4.50v2.61h-4.50zM270.24 327.25h4.50v2.61h-4.50zM275.56 328.15h4.50v2.54h-4.50zM280.88 328.14h4.50v2.54h-4.50zM286.21 328.10h4.50v2.54h-4.50zM291.53 327.20h4.50v2.60h-4.50zM296.86 327.52h4.50v2.57h-4.50zM302.18 327.15h4.50v2.59h-4.50zM307.50 327.15h4.50v2.59h-4.50zM312.83 327.15h4.50v2.59h-4.50zM318.15 327.14h4.50v2.59h-4.50zM323.47 327.14h4.50v2.58h-4.50zM328.80 327.13h4.50v2.58h-4.50zM334.12 327.27h4.50v2.57h-4.50zM339.44 327.49h4.50v2.55h-4.50zM344.77 326.98h4.50v2.58h-4.50zM350.09 326.61h4.50v2.60h-4.50zM355.41 326.61h4.50v2.60h-4.50zM360.74 326.68h4.50v2.59h-4.50zM366.06 326.20h4.50v2.62h-4.50zM371.38 326.20h4.50v2.62h-4.50zM376.71 326.45h4.50v2.60h-4.50zM382.03 326.44h4.50v2.60h-4.50zM387.35 326.44h4.50v2.59h-4.50zM392.68 326.43h4.50v2.59h-4.50zM398.00 326.43h4.50v2.59h-4.50zM403.33 326.43h4.50v2.59h-4.50zM408.65 327.11h4.50v2.54h-4.50zM413.97 326.71h4.50v2.56h-4.50zM419.30 326.70h4.50v2.56h-4.50zM424.62 326.70h4.50v2.56h-4.50zM429.94 326.70h4.50v2.56h-4.50zM435.27 326.69h4.50v2.55h-4.50zM440.59 326.04h4.50v2.59h-4.50zM445.91 325.92h4.50v2.60h-4.50zM451.24 325.92h4.50v2.59h-4.50zM456.56 326.31h4.50v2.57h-4.50zM461.88 326.09h4.50v2.58h-4.50zM467.21 326.09h4.50v2.57h-4.50zM472.53 326.09h4.50v2.57h-4.50zM477.85 326.52h4.50v2.54h-4.50zM483.18 326.58h4.50v2.54h-4.50zM488.50 326.18h4.50v2.56h-4.50zM493.82 327.48h4.50v2.48h-4.50zM499.15 326.83h4.50v2.51h-4.50zM504.47 326.91h4.50v2.51h-4.50zM509.80 326.99h4.50v2.50h-4.50zM515.12 326.35h4.50v2.53h-4.50zM520.44 325.79h4.50v2.57h-4.50zM525.77 325.43h4.50v2.58h-4.50zM531.09 325.68h4.50v2.57h-4.50zM536.41 325.43h4.50v2.58h-4.50zM541.74 325.67h4.50v2.56h-4.50zM547.06 325.91h4.50v2.55h-4.50zM552.38 325.30h4.50v2.61h-4.50zM557.71 324.90h4.50v2.66h-4.50zM563.03 324.30h4.50v2.73h-4.50zM568.35 324.46h4.50v2.75h-4.50zM573.68 324.55h4.50v2.77h-4.50zM579.00 324.61h4.50v2.80h-4.50zM584.32 324.76h4.50v2.82h-4.50zM589.65 324.64h4.50v2.85h-4.50zM594.97 324.49h4.50v2.89h-4.50zM600.29 323.95h4.50v2.95h-4.50zM605.62 323.51h4.50v3.01h-4.50zM610.94 323.48h4.50v3.03h-4.50zM616.27 323.62h4.50v3.05h-4.50zM621.59 323.75h4.50v3.06h-4.50zM626.91 324.94h4.50v3.00h-4.50zM632.24 324.12h4.50v3.08h-4.50zM637.56 324.19h4.50v3.10h-4.50zM642.88 323.38h4.50v3.18h-4.50zM648.21 323.02h4.50v3.23h-4.50zM653.53 323.16h4.50v3.18h-4.50zM658.85 323.29h4.50v3.13h-4.50zM664.18 322.53h4.50v3.14h-4.50zM669.50 322.22h4.50v3.12h-4.50zM674.82 322.86h4.50v3.03h-4.50zM680.15 322.92h4.50v2.98h-4.50zM685.47 322.12h4.50v2.99h-4.50zM690.79 322.18h4.50v2.95h-4.50zM696.12 322.26h4.50v2.90h-4.50zM701.44 323.02h4.50v2.81h-4.50zM706.76 323.03h4.50v2.76h-4.50zM712.09 323.12h4.50v2.71h-4.50zM717.41 323.21h4.50v2.67h-4.50zM722.74 322.60h4.50v2.66h-4.50zM728.06 322.70h4.50v2.65h-4.50zM733.38 322.80h4.50v2.65h-4.50zM738.71 324.21h4.50v2.56h-4.50zM744.03 323.44h4.50v2.61h-4.50zM749.35 322.97h4.50v2.63h-4.50zM754.68 322.65h4.50v2.65h-4.50zM760.00 322.16h4.50v2.68h-4.50zM765.32 322.29h4.50v2.67h-4.50zM770.65 322.42h4.50v2.66h-4.50zM775.97 321.14h4.50v2.72h-4.50zM781.29 320.50h4.50v2.76h-4.50zM786.62 320.18h4.50v2.77h-4.50zM791.94 320.08h4.50v2.77h-4.50zM797.26 319.90h4.50v2.78h-4.50zM802.59 320.12h4.50v2.76h-4.50zM807.91 320.34h4.50v2.74h-4.50z"/>
<path fill="#b890f0" d="M99.89 357.26h4.50v0.14h-4.50zM105.21 354.63h4.50v0.31h-4.50zM110.53 350.86h4.50v0.50h-4.50zM115.86 346.82h4.50v0.71h-4.50zM121.18 341.72h4.50v0.96h-4.50zM126.50 337.83h4.50v1.17h-4.50zM131.83 337.78h4.50v1.23h-4.50zM137.15 337.64h4.50v1.30h-4.50zM142.47 334.06h4.50v1.53h-4.50zM147.80 331.38h4.50v1.72h-4.50zM153.12 328.74h4.50v1.92h-4.50zM158.44 325.76h4.50v2.14h-4.50zM163.77 324.12h4.50v2.29h-4.50zM169.09 323.98h4.50v2.37h-4.50zM174.41 323.85h4.50v2.44h-4.50zM179.74 321.50h4.50v2.64h-4.50zM185.06 319.63h4.50v2.81h-4.50zM190.39 318.46h4.50v2.94h-4.50zM195.71 317.49h4.50v3.05h-4.50zM201.03 316.43h4.50v3.18h-4.50zM206.36 316.31h4.50v3.24h-4.50zM211.68 316.21h4.50v3.30h-4.50zM217.00 315.58h4.50v3.40h-4.50zM222.33 315.48h4.50v3.45h-4.50zM227.65 314.76h4.50v3.55h-4.50zM232.97 314.33h4.50v3.63h-4.50zM238.30 314.14h4.50v3.68h-4.50zM243.62 314.15h4.50v3.68h-4.50zM248.94 314.16h4.50v3.68h-4.50zM254.27 314.07h4.50v3.68h-4.50zM259.59 314.18h4.50v3.67h-4.50zM264.91 313.51h4.50v3.71h-4.50zM270.24 313.52h4.50v3.71h-4.50zM275.56 314.74h4.50v3.62h-4.50zM280.88 314.75h4.50v3.62h-4.50zM286.21 314.71h4.50v3.62h-4.50zM291.53 313.51h4.50v3.70h-4.50zM296.86 313.96h4.50v3.66h-4.50zM302.18 313.48h4.50v3.69h-4.50zM307.50 313.49h4.50v3.69h-4.50zM312.83 313.50h4.50v3.68h-4.50zM318.15 313.51h4.50v3.68h-4.50zM323.47 313.52h4.50v3.68h-4.50zM328.80 313.53h4.50v3.67h-4.50zM334.12 313.73h4.50v3.66h-4.50zM339.44 314.03h4.50v3.63h-4.50zM344.77 313.37h4.50v3.68h-4.50zM350.09 312.90h4.50v3.70h-4.50zM355.41 312.91h4.50v3.70h-4.50zM360.74 313.01h4.50v3.69h-4.50zM366.06 312.40h4.50v3.73h-4.50zM371.38 312.40h4.50v3.73h-4.50zM376.71 312.75h4.50v3.70h-4.50zM382.03 312.76h4.50v3.70h-4.50zM387.35 312.77h4.50v3.69h-4.50zM392.68 312.78h4.50v3.69h-4.50zM398.00 312.79h4.50v3.68h-4.50zM403.33 312.80h4.50v3.68h-4.50zM408.65 313.72h4.50v3.62h-4.50zM413.97 313.20h4.50v3.65h-4.50zM419.30 313.21h4.50v3.64h-4.50zM424.62 313.22h4.50v3.64h-4.50zM429.94 313.23h4.50v3.64h-4.50zM435.27 313.24h4.50v3.63h-4.50zM440.59 312.38h4.50v3.69h-4.50zM445.91 312.25h4.50v3.69h-4.50zM451.24 312.26h4.50v3.69h-4.50zM456.56 312.79h4.50v3.65h-4.50zM461.88 312.51h4.50v3.67h-4.50zM467.21 312.52h4.50v3.66h-4.50zM472.53 312.53h4.50v3.66h-4.50zM477.85 313.12h4.50v3.62h-4.50zM483.18 313.22h4.50v3.61h-4.50zM488.50 312.70h4.50v3.64h-4.50zM493.82 314.44h4.50v3.52h-4.50zM499.15 313.58h4.50v3.58h-4.50zM504.47 313.71h4.50v3.57h-4.50zM509.80 313.83h4.50v3.55h-4.50zM515.12 313.00h4.50v3.61h-4.50zM520.44 312.27h4.50v3.65h-4.50zM525.77 311.81h4.50v3.68h-4.50zM531.09 312.15h4.50v3.65h-4.50zM536.41 311.83h4.50v3.67h-4.50zM541.74 312.17h4.50v3.65h-4.50zM547.06 312.50h4.50v3.62h-4.50zM552.38 311.67h4.50v3.61h-4.50zM557.71 311.13h4.50v3.57h-4.50zM563.03 310.31h4.50v3.55h-4.50zM568.35 310.50h4.50v3.47h-4.50zM573.68 310.60h4.50v3.40h-4.50zM579.00 310.64h4.50v3.32h-4.50zM584.32 310.82h4.50v3.25h-4.50zM589.65 310.65h4.50v3.19h-4.50zM594.97 310.42h4.50v3.13h-4.50zM600.29 309.70h4.50v3.10h-4.50zM605.62 309.12h4.50v3.06h-4.50zM610.94 309.07h4.50v3.00h-4.50zM616.27 309.24h4.50v2.92h-4.50zM621.59 309.41h4.50v2.84h-4.50zM626.91 310.99h4.50v2.70h-4.50zM632.24 309.89h4.50v2.68h-4.50zM637.56 309.99h4.50v2.61h-4.50zM642.88 308.90h4.50v2.59h-4.50zM648.21 308.42h4.50v2.55h-4.50zM653.53 308.63h4.50v2.54h-4.50zM658.85 308.83h4.50v2.53h-4.50zM664.18 307.84h4.50v2.57h-4.50zM669.50 307.46h4.50v2.59h-4.50zM674.82 308.34h4.50v2.55h-4.50zM680.15 308.43h4.50v2.55h-4.50zM685.47 307.41h4.50v2.59h-4.50zM690.79 307.51h4.50v2.59h-4.50zM696.12 307.64h4.50v2.58h-4.50zM701.44 308.67h4.50v2.54h-4.50zM706.76 308.71h4.50v2.54h-4.50zM712.09 308.86h4.50v2.53h-4.50zM717.41 309.00h4.50v2.53h-4.50zM722.74 308.21h4.50v2.56h-4.50zM728.06 308.32h4.50v2.54h-4.50zM733.38 308.43h4.50v2.51h-4.50zM738.71 310.27h4.50v2.41h-4.50zM744.03 309.22h4.50v2.43h-4.50zM749.35 308.58h4.50v2.44h-4.50zM754.68 308.14h4.50v2.44h-4.50zM760.00 307.47h4.50v2.44h-4.50zM765.32 307.63h4.50v2.41h-4.50zM770.65 307.79h4.50v2.38h-4.50zM775.97 306.10h4.50v2.42h-4.50zM781.29 304.17h4.50v2.04h-4.50zM786.62 304.00h4.50v1.64h-4.50zM791.94 304.15h4.50v1.23h-4.50zM797.26 304.18h4.50v0.82h-4.50zM802.59 304.74h4.50v0.41h-4.50z"/>
<path fill="#6d47e2" d="M99.89 353.58h4.50v3.52h-4.50z"/>
<path fill="#9a92e1" d="M99.89 352.23h4.50v1.35h-4.50z"/>
<path fill="#d299e5" d="M99.89 349.97h4.50v2.26h-4.50z"/>
<path fill="#b01e5c" d="M99.89 349.92h4.50v0.06h-4.50zM105.21 345.39h4.50v0.12h-4.50zM110.53 339.64h4.50v0.19h-4.50zM115.86 333.50h4.50v0.27h-4.50zM121.18 325.71h4.50v0.37h-4.50zM126.50 319.92h4.50v0.45h-4.50zM131.83 320.22h4.50v0.47h-4.50zM137.15 320.33h4.50v0.53h-4.50zM142.47 315.05h4.50v0.65h-4.50zM147.80 311.22h4.50v0.77h-4.50zM153.12 307.47h4.50v0.88h-4.50zM158.44 303.23h4.50v1.01h-4.50zM163.77 301.07h4.50v1.11h-4.50zM169.09 301.18h4.50v1.17h-4.50zM174.41 301.30h4.50v1.23h-4.50zM179.74 298.07h4.50v1.35h-4.50zM185.06 295.55h4.50v1.46h-4.50zM190.39 294.11h4.50v1.55h-4.50zM195.71 292.94h4.50v1.63h-4.50zM201.03 291.63h4.50v1.71h-4.50zM206.36 291.73h4.50v1.76h-4.50zM211.68 291.83h4.50v1.81h-4.50zM217.00 291.15h4.50v1.88h-4.50zM222.33 291.24h4.50v1.92h-4.50zM227.65 290.41h4.50v1.99h-4.50zM232.97 290.01h4.50v2.05h-4.50zM238.30 289.95h4.50v2.09h-4.50zM243.62 289.97h4.50v2.11h-4.50zM248.94 289.99h4.50v2.12h-4.50zM254.27 289.87h4.50v2.14h-4.50zM259.59 290.03h4.50v2.15h-4.50zM264.91 289.08h4.50v2.19h-4.50zM270.24 289.10h4.50v2.21h-4.50zM275.56 290.86h4.50v2.17h-4.50zM280.88 290.89h4.50v2.19h-4.50zM286.21 290.84h4.50v2.21h-4.50zM291.53 289.11h4.50v2.27h-4.50zM296.86 289.76h4.50v2.27h-4.50zM302.18 289.09h4.50v2.30h-4.50zM307.50 289.11h4.50v2.32h-4.50zM312.83 289.13h4.50v2.33h-4.50zM318.15 289.15h4.50v2.35h-4.50zM323.47 289.17h4.50v2.36h-4.50zM328.80 289.19h4.50v2.38h-4.50zM334.12 289.49h4.50v2.38h-4.50zM339.44 289.93h4.50v2.38h-4.50zM344.77 288.97h4.50v2.43h-4.50zM350.09 288.30h4.50v2.46h-4.50zM355.41 288.32h4.50v2.48h-4.50zM360.74 288.48h4.50v2.49h-4.50zM366.06 287.60h4.50v2.53h-4.50zM371.38 287.62h4.50v2.55h-4.50zM376.71 288.12h4.50v2.55h-4.50zM382.03 288.15h4.50v2.56h-4.50zM387.35 288.17h4.50v2.58h-4.50zM392.68 288.19h4.50v2.59h-4.50zM398.00 288.21h4.50v2.61h-4.50zM403.33 288.23h4.50v2.62h-4.50zM408.65 289.57h4.50v2.59h-4.50zM413.97 288.82h4.50v2.63h-4.50zM419.30 288.84h4.50v2.65h-4.50zM424.62 288.86h4.50v2.66h-4.50zM429.94 288.88h4.50v2.67h-4.50zM435.27 288.90h4.50v2.69h-4.50zM440.59 287.68h4.50v2.75h-4.50zM445.91 287.49h4.50v2.77h-4.50zM451.24 287.51h4.50v2.78h-4.50zM456.56 288.29h4.50v2.77h-4.50zM461.88 287.90h4.50v2.80h-4.50zM467.21 287.92h4.50v2.81h-4.50zM472.53 287.94h4.50v2.83h-4.50zM477.85 288.79h4.50v2.81h-4.50zM483.18 288.95h4.50v2.82h-4.50zM488.50 288.21h4.50v2.86h-4.50zM493.82 290.71h4.50v2.79h-4.50zM499.15 289.49h4.50v2.85h-4.50zM504.47 289.43h4.50v2.85h-4.50zM509.80 289.38h4.50v2.86h-4.50zM515.12 287.94h4.50v2.92h-4.50zM520.44 286.64h4.50v2.97h-4.50zM525.77 285.26h4.50v3.01h-4.50zM531.09 285.07h4.50v3.01h-4.50zM536.41 283.90h4.50v3.04h-4.50zM541.74 283.71h4.50v3.04h-4.50zM547.06 283.52h4.50v3.03h-4.50zM552.38 282.21h4.50v3.07h-4.50zM557.71 281.32h4.50v3.09h-4.50zM563.03 280.01h4.50v3.12h-4.50zM568.35 280.23h4.50v3.10h-4.50zM573.68 280.32h4.50v3.09h-4.50zM579.00 280.33h4.50v3.07h-4.50zM584.32 280.55h4.50v3.05h-4.50zM589.65 280.21h4.50v3.05h-4.50zM594.97 279.81h4.50v3.06h-4.50zM600.29 278.63h4.50v3.08h-4.50zM605.62 277.66h4.50v3.10h-4.50zM610.94 277.51h4.50v3.09h-4.50zM616.27 277.70h4.50v3.07h-4.50zM621.59 277.88h4.50v3.05h-4.50zM626.91 280.23h4.50v2.95h-4.50zM632.24 278.48h4.50v3.00h-4.50zM637.56 278.55h4.50v2.98h-4.50zM642.88 276.79h4.50v3.03h-4.50zM648.21 275.99h4.50v3.04h-4.50zM653.53 276.16h4.50v3.03h-4.50zM658.85 276.32h4.50v3.03h-4.50zM664.18 274.65h4.50v3.09h-4.50zM669.50 273.91h4.50v3.12h-4.50zM674.82 275.13h4.50v3.08h-4.50zM680.15 275.13h4.50v3.08h-4.50zM685.47 273.39h4.50v3.14h-4.50zM690.79 273.39h4.50v3.14h-4.50zM696.12 273.45h4.50v3.15h-4.50zM701.44 274.92h4.50v3.10h-4.50zM706.76 274.85h4.50v3.10h-4.50zM712.09 274.89h4.50v3.10h-4.50zM717.41 274.94h4.50v3.10h-4.50zM722.74 273.51h4.50v3.15h-4.50zM728.06 273.89h4.50v3.18h-4.50zM733.38 274.26h4.50v3.20h-4.50zM738.71 271.24h4.50v3.13h-4.50zM744.03 269.44h4.50v3.21h-4.50zM749.35 268.31h4.50v3.27h-4.50zM754.68 267.53h4.50v3.33h-4.50zM760.00 266.35h4.50v3.39h-4.50zM765.32 266.63h4.50v3.41h-4.50zM770.65 266.90h4.50v3.42h-4.50zM775.97 264.05h4.50v3.54h-4.50zM781.29 257.59h4.50v3.62h-4.50zM786.62 256.49h4.50v3.67h-4.50zM791.94 255.93h4.50v3.70h-4.50zM797.26 255.16h4.50v3.74h-4.50zM802.59 255.33h4.50v3.75h-4.50zM807.91 255.50h4.50v3.76h-4.50z"/>
<path fill="#7a92f0" d="M99.89 349.54h4.50v0.38h-4.50zM105.21 344.57h4.50v0.82h-4.50zM110.53 338.34h4.50v1.31h-4.50zM115.86 331.66h4.50v1.84h-4.50zM121.18 323.21h4.50v2.50h-4.50zM126.50 316.87h4.50v3.06h-4.50zM131.83 317.00h4.50v3.21h-4.50zM137.15 317.08h4.50v3.25h-4.50zM142.47 311.39h4.50v3.66h-4.50zM147.80 307.24h4.50v3.97h-4.50zM153.12 303.18h4.50v4.29h-4.50zM158.44 298.59h4.50v4.64h-4.50zM163.77 296.22h4.50v4.85h-4.50zM169.09 296.30h4.50v4.89h-4.50zM174.41 296.37h4.50v4.93h-4.50zM179.74 292.86h4.50v5.21h-4.50zM185.06 290.11h4.50v5.44h-4.50zM190.39 288.51h4.50v5.60h-4.50zM195.71 287.21h4.50v5.73h-4.50zM201.03 285.76h4.50v5.87h-4.50zM206.36 285.83h4.50v5.91h-4.50zM211.68 285.89h4.50v5.94h-4.50zM217.00 285.12h4.50v6.03h-4.50zM222.33 285.18h4.50v6.06h-4.50zM227.65 284.25h4.50v6.17h-4.50zM232.97 283.78h4.50v6.23h-4.50zM238.30 283.68h4.50v6.27h-4.50zM243.62 283.72h4.50v6.25h-4.50zM248.94 283.77h4.50v6.23h-4.50zM254.27 283.66h4.50v6.21h-4.50zM259.59 283.86h4.50v6.18h-4.50zM264.91 282.84h4.50v6.23h-4.50zM270.24 282.89h4.50v6.21h-4.50zM275.56 284.82h4.50v6.05h-4.50zM280.88 284.86h4.50v6.03h-4.50zM286.21 284.83h4.50v6.01h-4.50zM291.53 282.99h4.50v6.12h-4.50zM296.86 283.71h4.50v6.05h-4.50zM302.18 283.01h4.50v6.08h-4.50zM307.50 283.05h4.50v6.06h-4.50zM312.83 283.09h4.50v6.03h-4.50zM318.15 283.14h4.50v6.01h-4.50zM323.47 283.18h4.50v5.99h-4.50zM328.80 283.23h4.50v5.96h-4.50zM334.12 283.57h4.50v5.92h-4.50zM339.44 284.06h4.50v5.87h-4.50zM344.77 283.06h4.50v5.92h-4.50zM350.09 282.35h4.50v5.94h-4.50zM355.41 282.40h4.50v5.92h-4.50zM360.74 282.59h4.50v5.89h-4.50zM366.06 281.66h4.50v5.93h-4.50zM371.38 281.71h4.50v5.91h-4.50zM376.71 282.27h4.50v5.85h-4.50zM382.03 282.32h4.50v5.83h-4.50zM387.35 282.36h4.50v5.80h-4.50zM392.68 282.40h4.50v5.78h-4.50zM398.00 282.45h4.50v5.76h-4.50zM403.33 282.49h4.50v5.74h-4.50zM408.65 283.95h4.50v5.62h-4.50zM413.97 283.17h4.50v5.65h-4.50zM419.30 283.21h4.50v5.63h-4.50zM424.62 283.26h4.50v5.61h-4.50zM429.94 283.30h4.50v5.58h-4.50zM435.27 283.34h4.50v5.56h-4.50zM440.59 282.05h4.50v5.63h-4.50zM445.91 281.87h4.50v5.62h-4.50zM451.24 281.92h4.50v5.60h-4.50zM456.56 282.77h4.50v5.52h-4.50zM461.88 282.37h4.50v5.53h-4.50zM467.21 282.41h4.50v5.50h-4.50zM472.53 282.46h4.50v5.48h-4.50zM477.85 283.38h4.50v5.40h-4.50zM483.18 283.57h4.50v5.37h-4.50zM488.50 282.80h4.50v5.40h-4.50zM493.82 285.50h4.50v5.21h-4.50zM499.15 284.21h4.50v5.27h-4.50zM504.47 284.19h4.50v5.24h-4.50zM509.80 284.17h4.50v5.21h-4.50zM515.12 282.67h4.50v5.27h-4.50zM520.44 281.32h4.50v5.31h-4.50zM525.77 279.93h4.50v5.34h-4.50zM531.09 279.79h4.50v5.28h-4.50zM536.41 278.61h4.50v5.29h-4.50zM541.74 278.47h4.50v5.24h-4.50zM547.06 278.33h4.50v5.19h-4.50zM552.38 276.91h4.50v5.29h-4.50zM557.71 275.94h4.50v5.38h-4.50zM563.03 274.53h4.50v5.48h-4.50zM568.35 274.74h4.50v5.49h-4.50zM573.68 274.80h4.50v5.51h-4.50zM579.00 274.79h4.50v5.54h-4.50zM584.32 275.00h4.50v5.55h-4.50zM589.65 274.62h4.50v5.59h-4.50zM594.97 274.16h4.50v5.65h-4.50zM600.29 272.89h4.50v5.74h-4.50zM605.62 271.84h4.50v5.82h-4.50zM610.94 271.66h4.50v5.85h-4.50zM616.27 271.84h4.50v5.86h-4.50zM621.59 272.02h4.50v5.86h-4.50zM626.91 274.50h4.50v5.73h-4.50zM632.24 272.62h4.50v5.86h-4.50zM637.56 272.67h4.50v5.87h-4.50zM642.88 270.79h4.50v6.00h-4.50zM648.21 269.91h4.50v6.08h-4.50zM653.53 270.08h4.50v6.08h-4.50zM658.85 270.25h4.50v6.08h-4.50zM664.18 268.45h4.50v6.20h-4.50zM669.50 267.65h4.50v6.26h-4.50zM674.82 268.93h4.50v6.19h-4.50zM680.15 268.93h4.50v6.21h-4.50zM685.47 267.06h4.50v6.33h-4.50zM690.79 267.05h4.50v6.35h-4.50zM696.12 267.10h4.50v6.35h-4.50zM701.44 268.65h4.50v6.27h-4.50zM706.76 268.56h4.50v6.28h-4.50zM712.09 268.60h4.50v6.29h-4.50zM717.41 268.64h4.50v6.30h-4.50zM722.74 267.11h4.50v6.40h-4.50zM728.06 267.52h4.50v6.36h-4.50zM733.38 267.94h4.50v6.32h-4.50zM738.71 265.14h4.50v6.10h-4.50zM744.03 263.26h4.50v6.18h-4.50zM749.35 262.10h4.50v6.22h-4.50zM754.68 261.30h4.50v6.24h-4.50zM760.00 260.08h4.50v6.28h-4.50zM765.32 260.40h4.50v6.22h-4.50zM770.65 260.73h4.50v6.17h-4.50zM775.97 257.74h4.50v6.31h-4.50zM781.29 251.24h4.50v6.36h-4.50zM786.62 250.13h4.50v6.36h-4.50zM791.94 249.59h4.50v6.34h-4.50zM797.26 248.84h4.50v6.33h-4.50zM802.59 249.07h4.50v6.26h-4.50zM807.91 249.30h4.50v6.20h-4.50z"/>
<path fill="#ea52b8" d="M99.89 348.99h4.50v0.55h-4.50zM105.21 343.37h4.50v1.20h-4.50zM110.53 336.42h4.50v1.92h-4.50zM115.86 328.95h4.50v2.71h-4.50zM121.18 319.53h4.50v3.67h-4.50zM126.50 312.38h4.50v4.49h-4.50zM131.83 312.28h4.50v4.72h-4.50zM137.15 312.44h4.50v4.64h-4.50zM142.47 306.30h4.50v5.09h-4.50zM147.80 301.86h4.50v5.38h-4.50zM153.12 297.51h4.50v5.67h-4.50zM158.44 292.60h4.50v5.99h-4.50zM163.77 290.10h4.50v6.12h-4.50zM169.09 290.26h4.50v6.04h-4.50zM174.41 290.41h4.50v5.96h-4.50zM179.74 286.67h4.50v6.18h-4.50zM185.06 283.77h4.50v6.34h-4.50zM190.39 282.10h4.50v6.40h-4.50zM195.71 280.77h4.50v6.44h-4.50zM201.03 279.26h4.50v6.50h-4.50zM206.36 279.39h4.50v6.43h-4.50zM211.68 279.52h4.50v6.37h-4.50zM217.00 278.75h4.50v6.37h-4.50zM222.33 278.86h4.50v6.31h-4.50zM227.65 277.92h4.50v6.33h-4.50zM232.97 277.46h4.50v6.31h-4.50zM238.30 277.41h4.50v6.27h-4.50zM243.62 277.44h4.50v6.28h-4.50zM248.94 277.47h4.50v6.30h-4.50zM254.27 277.34h4.50v6.32h-4.50zM259.59 277.53h4.50v6.32h-4.50zM264.91 276.43h4.50v6.41h-4.50zM270.24 276.46h4.50v6.43h-4.50zM275.56 278.52h4.50v6.30h-4.50zM280.88 278.55h4.50v6.31h-4.50zM286.21 278.50h4.50v6.33h-4.50zM291.53 276.51h4.50v6.48h-4.50zM296.86 277.27h4.50v6.44h-4.50zM302.18 276.49h4.50v6.51h-4.50zM307.50 276.52h4.50v6.53h-4.50zM312.83 276.56h4.50v6.54h-4.50zM318.15 276.59h4.50v6.55h-4.50zM323.47 276.62h4.50v6.56h-4.50zM328.80 276.65h4.50v6.57h-4.50zM334.12 277.00h4.50v6.56h-4.50zM339.44 277.52h4.50v6.54h-4.50zM344.77 276.42h4.50v6.64h-4.50zM350.09 275.65h4.50v6.71h-4.50zM355.41 275.68h4.50v6.72h-4.50zM360.74 275.87h4.50v6.72h-4.50zM366.06 274.86h4.50v6.81h-4.50zM371.38 274.89h4.50v6.82h-4.50zM376.71 275.48h4.50v6.79h-4.50zM382.03 275.51h4.50v6.80h-4.50zM387.35 275.55h4.50v6.82h-4.50zM392.68 275.58h4.50v6.83h-4.50zM398.00 275.61h4.50v6.84h-4.50zM403.33 275.64h4.50v6.85h-4.50zM408.65 277.20h4.50v6.75h-4.50zM413.97 276.34h4.50v6.83h-4.50zM419.30 276.37h4.50v6.84h-4.50zM424.62 276.40h4.50v6.85h-4.50zM429.94 276.44h4.50v6.86h-4.50zM435.27 276.47h4.50v6.88h-4.50zM440.59 275.05h4.50v7.00h-4.50zM445.91 274.84h4.50v7.03h-4.50zM451.24 274.88h4.50v7.04h-4.50zM456.56 275.79h4.50v6.99h-4.50zM461.88 275.34h4.50v7.03h-4.50zM467.21 275.37h4.50v7.05h-4.50zM472.53 275.40h4.50v7.06h-4.50zM477.85 276.39h4.50v7.00h-4.50zM483.18 276.58h4.50v7.00h-4.50zM488.50 275.73h4.50v7.07h-4.50zM493.82 278.63h4.50v6.87h-4.50zM499.15 277.23h4.50v6.99h-4.50zM504.47 277.21h4.50v6.98h-4.50zM509.80 277.19h4.50v6.98h-4.50zM515.12 275.57h4.50v7.10h-4.50zM520.44 274.12h4.50v7.21h-4.50zM525.77 272.65h4.50v7.28h-4.50zM531.09 272.54h4.50v7.25h-4.50zM536.41 271.30h4.50v7.30h-4.50zM541.74 271.20h4.50v7.27h-4.50zM547.06 271.09h4.50v7.24h-4.50zM552.38 269.59h4.50v7.32h-4.50zM557.71 268.58h4.50v7.36h-4.50zM563.03 267.09h4.50v7.44h-4.50zM568.35 267.36h4.50v7.38h-4.50zM573.68 267.46h4.50v7.34h-4.50zM579.00 267.48h4.50v7.31h-4.50zM584.32 267.74h4.50v7.26h-4.50zM589.65 267.37h4.50v7.25h-4.50zM594.97 266.91h4.50v7.25h-4.50zM600.29 265.59h4.50v7.30h-4.50zM605.62 264.50h4.50v7.34h-4.50zM610.94 264.35h4.50v7.31h-4.50zM616.27 264.59h4.50v7.26h-4.50zM621.59 264.82h4.50v7.20h-4.50zM626.91 267.53h4.50v6.98h-4.50zM632.24 265.54h4.50v7.08h-4.50zM637.56 265.64h4.50v7.03h-4.50zM642.88 263.66h4.50v7.13h-4.50zM648.21 262.76h4.50v7.15h-4.50zM653.53 262.96h4.50v7.12h-4.50zM658.85 263.17h4.50v7.08h-4.50zM664.18 261.27h4.50v7.18h-4.50zM669.50 260.44h4.50v7.22h-4.50zM674.82 261.84h4.50v7.10h-4.50zM680.15 261.85h4.50v7.07h-4.50zM685.47 259.87h4.50v7.18h-4.50zM690.79 259.89h4.50v7.16h-4.50zM696.12 259.97h4.50v7.13h-4.50zM701.44 261.66h4.50v6.99h-4.50zM706.76 261.59h4.50v6.98h-4.50zM712.09 261.65h4.50v6.95h-4.50zM717.41 261.72h4.50v6.92h-4.50zM722.74 260.11h4.50v6.99h-4.50zM728.06 260.50h4.50v7.03h-4.50zM733.38 260.88h4.50v7.06h-4.50zM738.71 258.26h4.50v6.88h-4.50zM744.03 256.21h4.50v7.05h-4.50zM749.35 254.93h4.50v7.17h-4.50zM754.68 254.03h4.50v7.27h-4.50zM760.00 252.69h4.50v7.39h-4.50zM765.32 253.00h4.50v7.41h-4.50zM770.65 253.30h4.50v7.42h-4.50zM775.97 250.07h4.50v7.67h-4.50zM781.29 243.43h4.50v7.81h-4.50zM786.62 242.23h4.50v7.90h-4.50zM791.94 241.63h4.50v7.96h-4.50zM797.26 240.81h4.50v8.03h-4.50zM802.59 241.04h4.50v8.03h-4.50zM807.91 241.27h4.50v8.03h-4.50z"/>
<path fill="#4070c0" d="M99.89 348.84h4.50v0.14h-4.50zM105.21 343.06h4.50v0.31h-4.50zM110.53 335.92h4.50v0.50h-4.50zM115.86 328.24h4.50v0.71h-4.50zM121.18 318.58h4.50v0.96h-4.50zM126.50 311.21h4.50v1.17h-4.50zM131.83 311.05h4.50v1.23h-4.50zM137.15 311.18h4.50v1.26h-4.50zM142.47 304.87h4.50v1.43h-4.50zM147.80 300.29h4.50v1.57h-4.50zM153.12 295.81h4.50v1.70h-4.50zM158.44 290.74h4.50v1.86h-4.50zM163.77 288.15h4.50v1.95h-4.50zM169.09 288.28h4.50v1.98h-4.50zM174.41 288.40h4.50v2.01h-4.50zM179.74 284.54h4.50v2.14h-4.50zM185.06 281.52h4.50v2.24h-4.50zM190.39 279.78h4.50v2.32h-4.50zM195.71 278.38h4.50v2.39h-4.50zM201.03 276.81h4.50v2.46h-4.50zM206.36 276.91h4.50v2.48h-4.50zM211.68 277.02h4.50v2.50h-4.50zM217.00 276.19h4.50v2.55h-4.50zM222.33 276.29h4.50v2.57h-4.50zM227.65 275.29h4.50v2.63h-4.50zM232.97 274.80h4.50v2.66h-4.50zM238.30 274.72h4.50v2.69h-4.50zM243.62 274.75h4.50v2.69h-4.50zM248.94 274.77h4.50v2.70h-4.50zM254.27 274.63h4.50v2.71h-4.50zM259.59 274.83h4.50v2.70h-4.50zM264.91 273.69h4.50v2.74h-4.50zM270.24 273.72h4.50v2.75h-4.50zM275.56 275.83h4.50v2.69h-4.50zM280.88 275.86h4.50v2.69h-4.50zM286.21 275.80h4.50v2.70h-4.50zM291.53 273.74h4.50v2.77h-4.50zM296.86 274.52h4.50v2.75h-4.50zM302.18 273.72h4.50v2.78h-4.50zM307.50 273.74h4.50v2.78h-4.50zM312.83 273.77h4.50v2.78h-4.50zM318.15 273.80h4.50v2.79h-4.50zM323.47 273.83h4.50v2.79h-4.50zM328.80 273.85h4.50v2.80h-4.50zM334.12 274.21h4.50v2.79h-4.50zM339.44 274.74h4.50v2.78h-4.50zM344.77 273.60h4.50v2.82h-4.50zM350.09 272.80h4.50v2.85h-4.50zM355.41 272.83h4.50v2.85h-4.50zM360.74 273.02h4.50v2.85h-4.50zM366.06 271.97h4.50v2.89h-4.50zM371.38 272.00h4.50v2.89h-4.50zM376.71 272.60h4.50v2.88h-4.50zM382.03 272.63h4.50v2.88h-4.50zM387.35 272.66h4.50v2.89h-4.50zM392.68 272.69h4.50v2.89h-4.50zM398.00 272.71h4.50v2.89h-4.50zM403.33 272.74h4.50v2.90h-4.50zM408.65 274.34h4.50v2.85h-4.50zM413.97 273.46h4.50v2.89h-4.50zM419.30 273.48h4.50v2.89h-4.50zM424.62 273.51h4.50v2.89h-4.50zM429.94 273.54h4.50v2.90h-4.50zM435.27 273.56h4.50v2.90h-4.50zM440.59 272.10h4.50v2.95h-4.50zM445.91 271.88h4.50v2.96h-4.50zM451.24 271.91h4.50v2.97h-4.50zM456.56 272.84h4.50v2.94h-4.50zM461.88 272.37h4.50v2.96h-4.50zM467.21 272.40h4.50v2.97h-4.50zM472.53 272.43h4.50v2.97h-4.50zM477.85 273.44h4.50v2.94h-4.50zM483.18 273.64h4.50v2.94h-4.50zM488.50 272.75h4.50v2.98h-4.50zM493.82 275.75h4.50v2.89h-4.50zM499.15 274.29h4.50v2.94h-4.50zM504.47 274.27h4.50v2.93h-4.50zM509.80 274.26h4.50v2.93h-4.50zM515.12 272.59h4.50v2.98h-4.50zM520.44 271.09h4.50v3.02h-4.50zM525.77 269.59h4.50v3.05h-4.50zM531.09 269.50h4.50v3.04h-4.50zM536.41 268.24h4.50v3.06h-4.50zM541.74 268.15h4.50v3.05h-4.50zM547.06 268.05h4.50v3.03h-4.50zM552.38 266.66h4.50v2.93h-4.50zM557.71 265.76h4.50v2.82h-4.50zM563.03 264.38h4.50v2.71h-4.50zM568.35 264.80h4.50v2.55h-4.50zM573.68 265.06h4.50v2.41h-4.50zM579.00 265.22h4.50v2.26h-4.50zM584.32 265.63h4.50v2.11h-4.50zM589.65 265.39h4.50v1.98h-4.50zM594.97 265.07h4.50v1.84h-4.50zM600.29 263.87h4.50v1.72h-4.50zM605.62 262.90h4.50v1.59h-4.50zM610.94 262.90h4.50v1.45h-4.50zM616.27 263.28h4.50v1.31h-4.50zM621.59 263.66h4.50v1.16h-4.50zM626.91 266.53h4.50v1.00h-4.50zM632.24 264.66h4.50v0.88h-4.50zM637.56 264.90h4.50v0.74h-4.50zM642.88 263.04h4.50v0.62h-4.50zM648.21 262.27h4.50v0.49h-4.50zM653.53 262.44h4.50v0.52h-4.50zM658.85 262.62h4.50v0.55h-4.50zM664.18 260.67h4.50v0.59h-4.50zM669.50 259.81h4.50v0.63h-4.50zM674.82 261.18h4.50v0.65h-4.50zM680.15 261.17h4.50v0.69h-4.50zM685.47 259.14h4.50v0.73h-4.50zM690.79 259.13h4.50v0.76h-4.50zM696.12 259.18h4.50v0.80h-4.50zM701.44 260.85h4.50v0.81h-4.50zM706.76 260.74h4.50v0.85h-4.50zM712.09 260.78h4.50v0.88h-4.50zM717.41 260.82h4.50v0.91h-4.50zM722.74 259.16h4.50v0.95h-4.50zM728.06 259.52h4.50v0.98h-4.50zM733.38 259.87h4.50v1.01h-4.50zM738.71 257.25h4.50v1.01h-4.50zM744.03 255.14h4.50v1.06h-4.50zM749.35 253.82h4.50v1.11h-4.50zM754.68 252.89h4.50v1.15h-4.50zM760.00 251.50h4.50v1.19h-4.50zM765.32 251.78h4.50v1.22h-4.50zM770.65 252.06h4.50v1.25h-4.50zM775.97 248.76h4.50v1.31h-4.50zM781.29 242.06h4.50v1.36h-4.50zM786.62 240.82h4.50v1.40h-4.50zM791.94 240.19h4.50v1.44h-4.50zM797.26 239.34h4.50v1.47h-4.50zM802.59 239.54h4.50v1.50h-4.50zM807.91 239.75h4.50v1.52h-4.50z"/>
<path fill="#34a83c" d="M99.89 348.51h4.50v0.33h-4.50zM105.21 342.34h4.50v0.72h-4.50zM110.53 334.76h4.50v1.15h-4.50zM115.86 326.61h4.50v1.63h-4.50zM121.18 316.37h4.50v2.20h-4.50zM126.50 308.51h4.50v2.70h-4.50zM131.83 308.22h4.50v2.83h-4.50zM137.15 308.30h4.50v2.76h-4.50zM142.47 301.62h4.50v3.00h-4.50zM147.80 296.75h4.50v3.14h-4.50zM153.12 291.98h4.50v3.28h-4.50zM158.44 286.58h4.50v3.43h-4.50zM163.77 283.79h4.50v3.47h-4.50zM169.09 283.87h4.50v3.40h-4.50zM174.41 283.95h4.50v3.33h-4.50zM179.74 279.82h4.50v3.42h-4.50zM185.06 276.59h4.50v3.48h-4.50zM190.39 274.70h4.50v3.49h-4.50zM195.71 273.16h4.50v3.48h-4.50zM201.03 271.45h4.50v3.48h-4.50zM206.36 271.52h4.50v3.42h-4.50zM211.68 271.58h4.50v3.36h-4.50zM217.00 270.67h4.50v3.33h-4.50zM222.33 270.73h4.50v3.28h-4.50zM227.65 269.63h4.50v3.26h-4.50zM232.97 269.07h4.50v3.23h-4.50zM238.30 268.94h4.50v3.19h-4.50zM243.62 268.96h4.50v3.23h-4.50zM248.94 268.98h4.50v3.27h-4.50zM254.27 268.82h4.50v3.32h-4.50zM259.59 269.01h4.50v3.35h-4.50zM264.91 267.78h4.50v3.43h-4.50zM270.24 267.80h4.50v3.48h-4.50zM275.56 270.03h4.50v3.44h-4.50zM280.88 270.05h4.50v3.48h-4.50zM286.21 269.98h4.50v3.52h-4.50zM291.53 267.78h4.50v3.64h-4.50zM296.86 268.59h4.50v3.66h-4.50zM302.18 267.72h4.50v3.73h-4.50zM307.50 267.74h4.50v3.77h-4.50zM312.83 267.76h4.50v3.81h-4.50zM318.15 267.77h4.50v3.85h-4.50zM323.47 267.79h4.50v3.89h-4.50zM328.80 267.80h4.50v3.93h-4.50zM334.12 268.17h4.50v3.96h-4.50zM339.44 268.72h4.50v3.98h-4.50zM344.77 267.50h4.50v4.07h-4.50zM350.09 266.63h4.50v4.15h-4.50zM355.41 266.65h4.50v4.19h-4.50zM360.74 266.84h4.50v4.22h-4.50zM366.06 265.71h4.50v4.31h-4.50zM371.38 265.72h4.50v4.35h-4.50zM376.71 266.36h4.50v4.36h-4.50zM382.03 266.37h4.50v4.40h-4.50zM387.35 266.39h4.50v4.45h-4.50zM392.68 266.41h4.50v4.49h-4.50zM398.00 266.42h4.50v4.53h-4.50zM403.33 266.44h4.50v4.57h-4.50zM408.65 268.13h4.50v4.53h-4.50zM413.97 267.18h4.50v4.61h-4.50zM419.30 267.19h4.50v4.65h-4.50zM424.62 267.21h4.50v4.69h-4.50zM429.94 267.22h4.50v4.73h-4.50zM435.27 267.24h4.50v4.77h-4.50zM440.59 265.67h4.50v4.89h-4.50zM445.91 265.42h4.50v4.94h-4.50zM451.24 265.44h4.50v4.98h-4.50zM456.56 266.42h4.50v4.97h-4.50zM461.88 265.91h4.50v5.04h-4.50zM467.21 265.92h4.50v5.08h-4.50zM472.53 265.94h4.50v5.12h-4.50zM477.85 267.01h4.50v5.10h-4.50zM483.18 267.20h4.50v5.13h-4.50zM488.50 266.25h4.50v5.22h-4.50zM493.82 269.44h4.50v5.10h-4.50zM499.15 267.87h4.50v5.22h-4.50zM504.47 267.85h4.50v5.24h-4.50zM509.80 267.84h4.50v5.27h-4.50zM515.12 266.07h4.50v5.39h-4.50zM520.44 264.47h4.50v5.50h-4.50zM525.77 262.90h4.50v5.59h-4.50zM531.09 262.83h4.50v5.59h-4.50zM536.41 261.53h4.50v5.67h-4.50zM541.74 261.46h4.50v5.67h-4.50zM547.06 261.40h4.50v5.68h-4.50zM552.38 259.56h4.50v5.93h-4.50zM557.71 258.26h4.50v6.16h-4.50zM563.03 256.43h4.50v6.41h-4.50zM568.35 256.54h4.50v6.56h-4.50zM573.68 256.48h4.50v6.72h-4.50zM579.00 256.32h4.50v6.88h-4.50zM584.32 256.43h4.50v7.02h-4.50zM589.65 255.83h4.50v7.21h-4.50zM594.97 255.14h4.50v7.40h-4.50zM600.29 253.50h4.50v7.65h-4.50zM605.62 252.11h4.50v7.88h-4.50zM610.94 251.78h4.50v8.05h-4.50zM616.27 251.88h4.50v8.18h-4.50zM621.59 251.98h4.50v8.31h-4.50zM626.91 254.86h4.50v8.23h-4.50zM632.24 252.47h4.50v8.54h-4.50zM637.56 252.42h4.50v8.68h-4.50zM642.88 250.02h4.50v8.99h-4.50zM648.21 248.84h4.50v9.21h-4.50zM653.53 249.02h4.50v9.16h-4.50zM658.85 249.20h4.50v9.11h-4.50zM664.18 246.98h4.50v9.24h-4.50zM669.50 245.99h4.50v9.28h-4.50zM674.82 247.52h4.50v9.13h-4.50zM680.15 247.48h4.50v9.09h-4.50zM685.47 245.18h4.50v9.23h-4.50zM690.79 245.14h4.50v9.19h-4.50zM696.12 245.17h4.50v9.15h-4.50zM701.44 247.04h4.50v8.98h-4.50zM706.76 246.90h4.50v8.95h-4.50zM712.09 246.93h4.50v8.91h-4.50zM717.41 246.96h4.50v8.87h-4.50zM722.74 245.07h4.50v8.96h-4.50zM728.06 245.37h4.50v9.03h-4.50zM733.38 245.67h4.50v9.09h-4.50zM738.71 243.41h4.50v8.89h-4.50zM744.03 240.97h4.50v9.13h-4.50zM749.35 239.41h4.50v9.30h-4.50zM754.68 238.29h4.50v9.45h-4.50zM760.00 236.66h4.50v9.64h-4.50zM765.32 236.91h4.50v9.68h-4.50zM770.65 237.17h4.50v9.72h-4.50zM775.97 233.38h4.50v10.07h-4.50zM781.29 226.41h4.50v10.28h-4.50zM786.62 224.99h4.50v10.42h-4.50zM791.94 224.26h4.50v10.51h-4.50zM797.26 223.27h4.50v10.62h-4.50zM802.59 223.48h4.50v10.65h-4.50zM807.91 223.69h4.50v10.67h-4.50z"/>
<path fill="#a86028" d="M99.89 348.37h4.50v0.14h-4.50zM105.21 342.02h4.50v0.31h-4.50zM110.53 334.26h4.50v0.50h-4.50zM115.86 325.91h4.50v0.71h-4.50zM121.18 315.42h4.50v0.96h-4.50zM126.50 307.34h4.50v1.17h-4.50zM131.83 306.99h4.50v1.23h-4.50zM137.15 307.03h4.50v1.27h-4.50zM142.47 300.15h4.50v1.47h-4.50zM147.80 295.12h4.50v1.63h-4.50zM153.12 290.19h4.50v1.79h-4.50zM158.44 284.61h4.50v1.97h-4.50zM163.77 281.70h4.50v2.09h-4.50zM169.09 281.74h4.50v2.14h-4.50zM174.41 281.77h4.50v2.18h-4.50zM179.74 277.48h4.50v2.34h-4.50zM185.06 274.12h4.50v2.47h-4.50zM190.39 272.13h4.50v2.57h-4.50zM195.71 270.51h4.50v2.65h-4.50zM201.03 268.70h4.50v2.75h-4.50zM206.36 268.73h4.50v2.79h-4.50zM211.68 268.76h4.50v2.82h-4.50zM217.00 267.78h4.50v2.89h-4.50zM222.33 267.80h4.50v2.93h-4.50zM227.65 266.64h4.50v3.00h-4.50zM232.97 266.02h4.50v3.05h-4.50zM238.30 265.86h4.50v3.09h-4.50zM243.62 265.88h4.50v3.08h-4.50zM248.94 265.89h4.50v3.08h-4.50zM254.27 265.73h4.50v3.09h-4.50zM259.59 265.93h4.50v3.08h-4.50zM264.91 264.67h4.50v3.12h-4.50zM270.24 264.68h4.50v3.12h-4.50zM275.56 266.99h4.50v3.05h-4.50zM280.88 267.01h4.50v3.04h-4.50zM286.21 266.93h4.50v3.05h-4.50zM291.53 264.66h4.50v3.11h-4.50zM296.86 265.50h4.50v3.09h-4.50zM302.18 264.61h4.50v3.11h-4.50zM307.50 264.63h4.50v3.11h-4.50zM312.83 264.64h4.50v3.11h-4.50zM318.15 264.66h4.50v3.11h-4.50zM323.47 264.68h4.50v3.11h-4.50zM328.80 264.70h4.50v3.11h-4.50zM334.12 265.08h4.50v3.09h-4.50zM339.44 265.64h4.50v3.08h-4.50zM344.77 264.39h4.50v3.11h-4.50zM350.09 263.49h4.50v3.14h-4.50zM355.41 263.51h4.50v3.14h-4.50zM360.74 263.71h4.50v3.13h-4.50zM366.06 262.54h4.50v3.17h-4.50zM371.38 262.56h4.50v3.16h-4.50zM376.71 263.21h4.50v3.14h-4.50zM382.03 263.23h4.50v3.14h-4.50zM387.35 263.25h4.50v3.14h-4.50zM392.68 263.27h4.50v3.14h-4.50zM398.00 263.28h4.50v3.14h-4.50zM403.33 263.30h4.50v3.14h-4.50zM408.65 265.05h4.50v3.08h-4.50zM413.97 264.06h4.50v3.11h-4.50zM419.30 264.08h4.50v3.11h-4.50zM424.62 264.10h4.50v3.11h-4.50zM429.94 264.12h4.50v3.11h-4.50zM435.27 264.13h4.50v3.11h-4.50zM440.59 262.51h4.50v3.15h-4.50zM445.91 262.26h4.50v3.16h-4.50zM451.24 262.28h4.50v3.16h-4.50zM456.56 263.29h4.50v3.13h-4.50zM461.88 262.76h4.50v3.14h-4.50zM467.21 262.78h4.50v3.14h-4.50zM472.53 262.80h4.50v3.14h-4.50zM477.85 263.91h4.50v3.11h-4.50zM483.18 264.10h4.50v3.10h-4.50zM488.50 263.12h4.50v3.13h-4.50zM493.82 266.41h4.50v3.03h-4.50zM499.15 264.79h4.50v3.08h-4.50zM504.47 264.78h4.50v3.07h-4.50zM509.80 264.78h4.50v3.06h-4.50zM515.12 262.96h4.50v3.11h-4.50zM520.44 261.32h4.50v3.15h-4.50zM525.77 259.73h4.50v3.17h-4.50zM531.09 259.68h4.50v3.15h-4.50zM536.41 258.36h4.50v3.17h-4.50zM541.74 258.31h4.50v3.15h-4.50zM547.06 258.27h4.50v3.13h-4.50zM552.38 256.46h4.50v3.11h-4.50zM557.71 255.20h4.50v3.06h-4.50zM563.03 253.40h4.50v3.03h-4.50zM568.35 253.59h4.50v2.95h-4.50zM573.68 253.60h4.50v2.87h-4.50zM579.00 253.52h4.50v2.80h-4.50zM584.32 253.71h4.50v2.72h-4.50zM589.65 253.17h4.50v2.65h-4.50zM594.97 252.55h4.50v2.59h-4.50zM600.29 250.94h4.50v2.55h-4.50zM605.62 249.61h4.50v2.51h-4.50zM610.94 249.34h4.50v2.43h-4.50zM616.27 249.52h4.50v2.35h-4.50zM621.59 249.70h4.50v2.28h-4.50zM626.91 252.72h4.50v2.15h-4.50zM632.24 250.35h4.50v2.12h-4.50zM637.56 250.38h4.50v2.04h-4.50zM642.88 248.01h4.50v2.01h-4.50zM648.21 246.88h4.50v1.96h-4.50zM653.53 247.03h4.50v1.99h-4.50zM658.85 247.18h4.50v2.02h-4.50zM664.18 244.90h4.50v2.09h-4.50zM669.50 243.85h4.50v2.13h-4.50zM674.82 245.38h4.50v2.14h-4.50zM680.15 245.31h4.50v2.17h-4.50zM685.47 242.93h4.50v2.24h-4.50zM690.79 242.86h4.50v2.28h-4.50zM696.12 242.87h4.50v2.31h-4.50zM701.44 244.74h4.50v2.30h-4.50zM706.76 244.56h4.50v2.34h-4.50zM712.09 244.56h4.50v2.37h-4.50zM717.41 244.56h4.50v2.40h-4.50zM722.74 242.61h4.50v2.46h-4.50zM728.06 242.87h4.50v2.50h-4.50zM733.38 243.14h4.50v2.54h-4.50zM738.71 240.91h4.50v2.50h-4.50zM744.03 238.39h4.50v2.58h-4.50zM749.35 236.76h4.50v2.65h-4.50zM754.68 235.58h4.50v2.71h-4.50zM760.00 233.87h4.50v2.78h-4.50zM765.32 234.10h4.50v2.82h-4.50zM770.65 234.32h4.50v2.85h-4.50zM775.97 230.42h4.50v2.96h-4.50zM781.29 223.36h4.50v3.04h-4.50zM786.62 221.88h4.50v3.11h-4.50zM791.94 221.11h4.50v3.15h-4.50zM797.26 220.07h4.50v3.20h-4.50zM802.59 220.26h4.50v3.23h-4.50zM807.91 220.44h4.50v3.25h-4.50z"/>
<path fill="#a02060" d="M99.89 348.15h4.50v0.22h-4.50zM105.21 341.54h4.50v0.48h-4.50zM110.53 333.49h4.50v0.77h-4.50zM115.86 324.83h4.50v1.08h-4.50zM121.18 313.95h4.50v1.47h-4.50zM126.50 305.54h4.50v1.80h-4.50zM131.83 305.11h4.50v1.89h-4.50z"/>
<path fill="#9f62ab" d="M99.89 345.33h4.50v2.81h-4.50z"/>
<path fill="#c488f2" d="M99.89 345.28h4.50v0.06h-4.50zM105.21 338.68h4.50v0.12h-4.50zM110.53 330.71h4.50v0.19h-4.50zM115.86 322.17h4.50v0.27h-4.50zM121.18 311.38h4.50v0.37h-4.50zM126.50 303.24h4.50v0.45h-4.50zM131.83 303.31h4.50v0.47h-4.50zM137.15 303.27h4.50v0.53h-4.50zM142.47 295.89h4.50v0.65h-4.50zM147.80 290.46h4.50v0.77h-4.50zM153.12 285.12h4.50v0.88h-4.50zM158.44 279.10h4.50v1.01h-4.50zM163.77 275.92h4.50v1.11h-4.50zM169.09 275.87h4.50v1.17h-4.50zM174.41 275.83h4.50v1.23h-4.50zM179.74 271.17h4.50v1.35h-4.50zM185.06 267.50h4.50v1.46h-4.50zM190.39 265.29h4.50v1.55h-4.50zM195.71 263.48h4.50v1.63h-4.50zM201.03 261.48h4.50v1.71h-4.50zM206.36 261.44h4.50v1.76h-4.50zM211.68 261.41h4.50v1.81h-4.50zM217.00 260.29h4.50v1.88h-4.50zM222.33 260.25h4.50v1.92h-4.50zM227.65 258.94h4.50v1.99h-4.50zM232.97 258.22h4.50v2.05h-4.50zM238.30 257.99h4.50v2.09h-4.50zM243.62 258.00h4.50v2.09h-4.50zM248.94 258.01h4.50v2.09h-4.50zM254.27 257.82h4.50v2.09h-4.50zM259.59 258.02h4.50v2.08h-4.50zM264.91 256.65h4.50v2.11h-4.50zM270.24 256.65h4.50v2.10h-4.50zM275.56 259.13h4.50v2.06h-4.50zM280.88 259.13h4.50v2.05h-4.50zM286.21 259.04h4.50v2.05h-4.50zM291.53 256.58h4.50v2.10h-4.50zM296.86 257.48h4.50v2.08h-4.50zM302.18 256.50h4.50v2.10h-4.50zM307.50 256.51h4.50v2.09h-4.50zM312.83 256.51h4.50v2.09h-4.50zM318.15 256.52h4.50v2.09h-4.50zM323.47 256.53h4.50v2.09h-4.50zM328.80 256.53h4.50v2.08h-4.50zM334.12 256.93h4.50v2.08h-4.50zM339.44 257.53h4.50v2.06h-4.50zM344.77 256.16h4.50v2.09h-4.50zM350.09 255.18h4.50v2.10h-4.50zM355.41 255.19h4.50v2.10h-4.50zM360.74 255.39h4.50v2.09h-4.50zM366.06 254.12h4.50v2.12h-4.50zM371.38 254.13h4.50v2.11h-4.50zM376.71 254.82h4.50v2.10h-4.50zM382.03 254.83h4.50v2.10h-4.50zM387.35 254.84h4.50v2.10h-4.50zM392.68 254.84h4.50v2.09h-4.50zM398.00 254.85h4.50v2.09h-4.50zM403.33 254.86h4.50v2.09h-4.50zM408.65 256.73h4.50v2.05h-4.50zM413.97 255.66h4.50v2.07h-4.50zM419.30 255.66h4.50v2.07h-4.50zM424.62 255.67h4.50v2.07h-4.50zM429.94 255.68h4.50v2.06h-4.50zM435.27 255.68h4.50v2.06h-4.50zM440.59 253.92h4.50v2.09h-4.50zM445.91 253.63h4.50v2.10h-4.50zM451.24 253.64h4.50v2.09h-4.50zM456.56 254.73h4.50v2.07h-4.50zM461.88 254.14h4.50v2.08h-4.50zM467.21 254.15h4.50v2.08h-4.50zM472.53 254.16h4.50v2.08h-4.50zM477.85 255.34h4.50v2.05h-4.50zM483.18 255.55h4.50v2.05h-4.50zM488.50 254.47h4.50v2.07h-4.50zM493.82 258.02h4.50v2.00h-4.50zM499.15 256.25h4.50v2.03h-4.50zM504.47 256.26h4.50v2.02h-4.50zM509.80 256.26h4.50v2.02h-4.50zM515.12 254.30h4.50v2.05h-4.50zM520.44 252.53h4.50v2.07h-4.50zM525.77 250.85h4.50v2.09h-4.50zM531.09 250.85h4.50v2.07h-4.50zM536.41 249.47h4.50v2.08h-4.50zM541.74 249.46h4.50v2.07h-4.50zM547.06 249.46h4.50v2.06h-4.50zM552.38 247.43h4.50v2.07h-4.50zM557.71 246.00h4.50v2.08h-4.50zM563.03 243.99h4.50v2.10h-4.50zM568.35 244.12h4.50v2.08h-4.50zM573.68 244.07h4.50v2.06h-4.50zM579.00 243.91h4.50v2.05h-4.50zM584.32 244.04h4.50v2.03h-4.50zM589.65 243.39h4.50v2.03h-4.50zM594.97 242.65h4.50v2.02h-4.50zM600.29 240.84h4.50v2.04h-4.50zM605.62 239.33h4.50v2.04h-4.50zM610.94 238.99h4.50v2.03h-4.50zM616.27 239.12h4.50v2.01h-4.50zM621.59 239.26h4.50v1.99h-4.50zM626.91 242.49h4.50v1.93h-4.50zM632.24 239.85h4.50v1.95h-4.50zM637.56 239.83h4.50v1.93h-4.50zM642.88 237.19h4.50v1.96h-4.50zM648.21 235.91h4.50v1.96h-4.50zM653.53 235.90h4.50v1.95h-4.50zM658.85 235.88h4.50v1.95h-4.50zM664.18 233.21h4.50v1.98h-4.50zM669.50 231.88h4.50v1.99h-4.50zM674.82 233.38h4.50v1.96h-4.50zM680.15 233.13h4.50v1.96h-4.50zM685.47 230.34h4.50v1.99h-4.50zM690.79 230.09h4.50v1.99h-4.50zM696.12 229.92h4.50v1.99h-4.50zM701.44 231.81h4.50v1.95h-4.50zM706.76 231.44h4.50v1.95h-4.50zM712.09 231.27h4.50v1.95h-4.50zM717.41 231.11h4.50v1.94h-4.50zM722.74 228.77h4.50v1.97h-4.50zM728.06 228.83h4.50v2.10h-4.50zM733.38 228.90h4.50v2.23h-4.50zM738.71 226.89h4.50v2.29h-4.50zM744.03 223.90h4.50v2.46h-4.50zM749.35 221.89h4.50v2.62h-4.50zM754.68 220.37h4.50v2.77h-4.50zM760.00 218.26h4.50v2.94h-4.50zM765.32 218.32h4.50v3.06h-4.50zM770.65 218.38h4.50v3.18h-4.50zM775.97 213.81h4.50v3.41h-4.50zM781.29 206.31h4.50v3.59h-4.50zM786.62 204.50h4.50v3.75h-4.50zM791.94 203.47h4.50v3.89h-4.50zM797.26 202.15h4.50v4.04h-4.50zM802.59 202.20h4.50v4.15h-4.50zM807.91 202.25h4.50v4.27h-4.50z"/>
<path fill="#5a48d6" d="M99.89 345.10h4.50v0.18h-4.50zM105.21 338.30h4.50v0.38h-4.50zM110.53 330.10h4.50v0.61h-4.50zM115.86 321.30h4.50v0.87h-4.50zM121.18 310.20h4.50v1.18h-4.50zM126.50 301.80h4.50v1.44h-4.50zM131.83 301.80h4.50v1.51h-4.50zM137.15 301.80h4.50v1.47h-4.50zM142.47 294.30h4.50v1.59h-4.50zM147.80 288.80h4.50v1.66h-4.50zM153.12 283.40h4.50v1.72h-4.50zM158.44 277.30h4.50v1.80h-4.50zM163.77 274.10h4.50v1.82h-4.50zM169.09 274.10h4.50v1.77h-4.50zM174.41 274.10h4.50v1.73h-4.50zM179.74 269.40h4.50v1.77h-4.50zM185.06 265.70h4.50v1.80h-4.50zM190.39 263.50h4.50v1.79h-4.50zM195.71 261.70h4.50v1.78h-4.50zM201.03 259.70h4.50v1.78h-4.50zM206.36 259.70h4.50v1.74h-4.50zM211.68 259.70h4.50v1.71h-4.50zM217.00 258.60h4.50v1.69h-4.50zM222.33 258.60h4.50v1.65h-4.50zM227.65 257.30h4.50v1.64h-4.50zM232.97 256.60h4.50v1.62h-4.50zM238.30 256.40h4.50v1.59h-4.50zM243.62 256.40h4.50v1.60h-4.50zM248.94 256.40h4.50v1.61h-4.50zM254.27 256.20h4.50v1.62h-4.50zM259.59 256.40h4.50v1.62h-4.50zM264.91 255.00h4.50v1.65h-4.50zM270.24 255.00h4.50v1.65h-4.50zM275.56 257.50h4.50v1.63h-4.50zM280.88 257.50h4.50v1.63h-4.50zM286.21 257.40h4.50v1.64h-4.50zM291.53 254.90h4.50v1.68h-4.50zM296.86 255.80h4.50v1.68h-4.50zM302.18 254.80h4.50v1.70h-4.50zM307.50 254.80h4.50v1.71h-4.50zM312.83 254.80h4.50v1.71h-4.50zM318.15 254.80h4.50v1.72h-4.50zM323.47 254.80h4.50v1.73h-4.50zM328.80 254.80h4.50v1.73h-4.50zM334.12 255.20h4.50v1.73h-4.50zM339.44 255.80h4.50v1.73h-4.50zM344.77 254.40h4.50v1.76h-4.50zM350.09 253.40h4.50v1.78h-4.50zM355.41 253.40h4.50v1.79h-4.50zM360.74 253.60h4.50v1.79h-4.50zM366.06 252.30h4.50v1.82h-4.50zM371.38 252.30h4.50v1.83h-4.50zM376.71 253.00h4.50v1.82h-4.50zM382.03 253.00h4.50v1.83h-4.50zM387.35 253.00h4.50v1.84h-4.50zM392.68 253.00h4.50v1.84h-4.50zM398.00 253.00h4.50v1.85h-4.50zM403.33 253.00h4.50v1.86h-4.50zM408.65 254.90h4.50v1.83h-4.50zM413.97 253.80h4.50v1.86h-4.50zM419.30 253.80h4.50v1.86h-4.50zM424.62 253.80h4.50v1.87h-4.50zM429.94 253.80h4.50v1.88h-4.50zM435.27 253.80h4.50v1.88h-4.50zM440.59 252.00h4.50v1.92h-4.50zM445.91 251.70h4.50v1.93h-4.50zM451.24 251.70h4.50v1.94h-4.50zM456.56 252.80h4.50v1.93h-4.50zM461.88 252.20h4.50v1.94h-4.50zM467.21 252.20h4.50v1.95h-4.50zM472.53 252.20h4.50v1.96h-4.50zM477.85 253.40h4.50v1.94h-4.50zM483.18 253.60h4.50v1.95h-4.50zM488.50 252.50h4.50v1.97h-4.50zM493.82 256.10h4.50v1.92h-4.50zM499.15 254.30h4.50v1.95h-4.50zM504.47 254.30h4.50v1.96h-4.50zM509.80 254.30h4.50v1.96h-4.50zM515.12 252.30h4.50v2.00h-4.50zM520.44 250.50h4.50v2.03h-4.50zM525.77 248.80h4.50v2.05h-4.50zM531.09 248.80h4.50v2.05h-4.50zM536.41 247.40h4.50v2.07h-4.50zM541.74 247.40h4.50v2.06h-4.50zM547.06 247.40h4.50v2.06h-4.50zM552.38 245.20h4.50v2.23h-4.50zM557.71 243.60h4.50v2.40h-4.50zM563.03 241.40h4.50v2.59h-4.50zM568.35 241.40h4.50v2.72h-4.50zM573.68 241.20h4.50v2.87h-4.50zM579.00 240.90h4.50v3.01h-4.50zM584.32 240.90h4.50v3.14h-4.50zM589.65 240.10h4.50v3.29h-4.50zM594.97 239.20h4.50v3.45h-4.50zM600.29 237.20h4.50v3.64h-4.50zM605.62 235.50h4.50v3.83h-4.50zM610.94 235.00h4.50v3.99h-4.50zM616.27 235.00h4.50v4.12h-4.50zM621.59 235.00h4.50v4.26h-4.50zM626.91 238.20h4.50v4.29h-4.50zM632.24 235.50h4.50v4.35h-4.50zM637.56 235.50h4.50v4.33h-4.50zM642.88 232.80h4.50v4.39h-4.50zM648.21 231.50h4.50v4.41h-4.50zM653.53 231.50h4.50v4.40h-4.50zM658.85 231.50h4.50v4.38h-4.50zM664.18 229.00h4.50v4.21h-4.50zM669.50 227.90h4.50v3.98h-4.50zM674.82 229.70h4.50v3.68h-4.50zM680.15 229.70h4.50v3.43h-4.50zM685.47 227.10h4.50v3.24h-4.50zM690.79 227.10h4.50v2.99h-4.50zM696.12 227.10h4.50v2.82h-4.50zM701.44 229.20h4.50v2.61h-4.50zM706.76 229.00h4.50v2.44h-4.50zM712.09 229.00h4.50v2.27h-4.50zM717.41 229.00h4.50v2.11h-4.50zM722.74 226.80h4.50v1.97h-4.50zM728.06 226.80h4.50v2.03h-4.50zM733.38 226.80h4.50v2.10h-4.50zM738.71 224.80h4.50v2.09h-4.50zM744.03 221.70h4.50v2.20h-4.50zM749.35 219.60h4.50v2.29h-4.50zM754.68 218.00h4.50v2.37h-4.50zM760.00 215.80h4.50v2.46h-4.50zM765.32 215.80h4.50v2.52h-4.50zM770.65 215.80h4.50v2.58h-4.50zM775.97 211.10h4.50v2.71h-4.50zM781.29 203.50h4.50v2.81h-4.50zM786.62 201.60h4.50v2.90h-4.50zM791.94 200.50h4.50v2.97h-4.50zM797.26 199.10h4.50v3.05h-4.50zM802.59 199.10h4.50v3.10h-4.50zM807.91 199.10h4.50v3.15h-4.50z"/>
<path fill="#7050d7" d="M105.21 364.28h4.50v0.12h-4.50z"/>
<path fill="#c639d4" d="M105.21 363.36h4.50v0.92h-4.50z"/>
<path fill="#776577" d="M105.21 362.65h4.50v0.71h-4.50zM105.21 360.99h4.50v0.71h-4.50z"/>
<path fill="#7a6777" d="M105.21 362.18h4.50v0.47h-4.50z"/>
<path fill="#7b6280" d="M105.21 361.70h4.50v0.47h-4.50z"/>
<path fill="#a93573" d="M105.21 358.35h4.50v2.26h-4.50z"/>
<path fill="#7046e5" d="M105.21 349.97h4.50v4.44h-4.50z"/>
<path fill="#a595e2" d="M105.21 348.39h4.50v1.59h-4.50z"/>
<path fill="#c592e1" d="M105.21 345.51h4.50v2.88h-4.50z"/>
<path fill="#a565af" d="M105.21 338.80h4.50v2.74h-4.50z"/>
<path fill="#7250d6" d="M110.53 362.73h4.50v0.19h-4.50z"/>
<path fill="#c537d3" d="M110.53 361.38h4.50v1.34h-4.50z"/>
<path fill="#726772" d="M110.53 360.55h4.50v0.83h-4.50zM110.53 358.63h4.50v0.83h-4.50z"/>
<path fill="#776b73" d="M110.53 360.00h4.50v0.55h-4.50z"/>
<path fill="#796380" d="M110.53 359.45h4.50v0.55h-4.50z"/>
<path fill="#c2a6c0" d="M110.53 358.01h4.50v0.61h-4.50z"/>
<path fill="#ae2f74" d="M110.53 355.74h4.50v2.27h-4.50z"/>
<path fill="#7345e7" d="M110.53 345.19h4.50v5.41h-4.50z"/>
<path fill="#af97e3" d="M110.53 343.37h4.50v1.82h-4.50z"/>
<path fill="#b78bde" d="M110.53 339.84h4.50v3.54h-4.50z"/>
<path fill="#aa67b2" d="M110.53 330.91h4.50v2.59h-4.50z"/>
<path fill="#7350d6" d="M115.86 361.03h4.50v0.27h-4.50z"/>
<path fill="#c435d2" d="M115.86 359.23h4.50v1.80h-4.50z"/>
<path fill="#6e696e" d="M115.86 358.28h4.50v0.95h-4.50zM115.86 356.07h4.50v0.95h-4.50z"/>
<path fill="#736f6f" d="M115.86 357.65h4.50v0.63h-4.50z"/>
<path fill="#776580" d="M115.86 357.02h4.50v0.63h-4.50z"/>
<path fill="#c1a6bf" d="M115.86 355.20h4.50v0.87h-4.50zM121.18 351.68h4.50v1.18h-4.50z"/>
<path fill="#b22976" d="M115.86 352.95h4.50v2.25h-4.50z"/>
<path fill="#7745e9" d="M115.86 340.06h4.50v6.43h-4.50z"/>
<path fill="#b999e5" d="M115.86 338.00h4.50v2.06h-4.50z"/>
<path fill="#a985da" d="M115.86 333.77h4.50v4.23h-4.50z"/>
<path fill="#b069b6" d="M115.86 322.44h4.50v2.39h-4.50z"/>
<path fill="#7450d6" d="M121.18 358.92h4.50v0.37h-4.50z"/>
<path fill="#c234d2" d="M121.18 356.55h4.50v2.37h-4.50z"/>
<path fill="#696b69" d="M121.18 355.44h4.50v1.11h-4.50zM121.18 352.86h4.50v1.11h-4.50zM227.65 344.17h4.50v2.73h-4.50z"/>
<path fill="#70736b" d="M121.18 354.70h4.50v0.74h-4.50z"/>
<path fill="#756680" d="M121.18 353.97h4.50v0.74h-4.50z"/>
<path fill="#b72377" d="M121.18 349.40h4.50v2.28h-4.50z"/>
<path fill="#7a44eb" d="M121.18 333.57h4.50v7.73h-4.50z"/>
<path fill="#c39be6" d="M121.18 331.19h4.50v2.38h-4.50z"/>
<path fill="#9b7ed7" d="M121.18 326.08h4.50v5.12h-4.50z"/>
<path fill="#b56bb9" d="M121.18 311.74h4.50v2.20h-4.50z"/>
<path fill="#7550d6" d="M126.50 357.19h4.50v0.45h-4.50z"/>
<path fill="#c132d1" d="M126.50 354.35h4.50v2.83h-4.50z"/>
<path fill="#656e65" d="M126.50 353.15h4.50v1.21h-4.50zM126.50 350.32h4.50v1.21h-4.50z"/>
<path fill="#6d7666" d="M126.50 352.34h4.50v0.81h-4.50z"/>
<path fill="#726780" d="M126.50 351.53h4.50v0.81h-4.50z"/>
<path fill="#c0a6be" d="M126.50 348.89h4.50v1.44h-4.50z"/>
<path fill="#bb1e79" d="M126.50 346.73h4.50v2.16h-4.50z"/>
<path fill="#7d43ee" d="M126.50 328.70h4.50v8.66h-4.50z"/>
<path fill="#ce9ee7" d="M126.50 326.13h4.50v2.58h-4.50z"/>
<path fill="#8e77d3" d="M126.50 320.37h4.50v5.75h-4.50z"/>
<path fill="#bb6ebd" d="M126.50 303.69h4.50v1.86h-4.50z"/>
<path fill="#7750d5" d="M131.83 356.86h4.50v0.47h-4.50z"/>
<path fill="#c030d0" d="M131.83 353.93h4.50v2.93h-4.50z"/>
<path fill="#607060" d="M131.83 352.77h4.50v1.16h-4.50zM131.83 350.06h4.50v1.16h-4.50zM137.15 352.85h4.50v1.20h-4.50z"/>
<path fill="#6a7a62" d="M131.83 351.99h4.50v0.77h-4.50zM137.15 352.05h4.50v0.80h-4.50zM142.47 350.30h4.50v0.92h-4.50z"/>
<path fill="#706880" d="M131.83 351.22h4.50v0.77h-4.50zM137.15 351.25h4.50v0.80h-4.50zM142.47 349.38h4.50v0.92h-4.50zM775.97 333.95h4.50v1.97h-4.50zM781.29 333.52h4.50v2.00h-4.50zM786.62 333.32h4.50v2.02h-4.50zM791.94 333.28h4.50v2.03h-4.50zM797.26 333.18h4.50v2.04h-4.50zM802.59 333.36h4.50v2.04h-4.50zM807.91 333.55h4.50v2.03h-4.50z"/>
<path fill="#c0a5bd" d="M131.83 348.55h4.50v1.51h-4.50zM137.15 348.52h4.50v1.53h-4.50z"/>
<path fill="#c0187a" d="M131.83 346.75h4.50v1.79h-4.50zM137.15 346.67h4.50v1.78h-4.50zM142.47 344.16h4.50v1.96h-4.50zM147.80 342.29h4.50v2.09h-4.50zM153.12 340.44h4.50v2.22h-4.50zM158.44 338.36h4.50v2.36h-4.50zM163.77 337.22h4.50v2.43h-4.50zM169.09 337.13h4.50v2.41h-4.50zM174.41 337.05h4.50v2.40h-4.50zM179.74 335.41h4.50v2.50h-4.50zM185.06 334.11h4.50v2.58h-4.50zM190.39 333.30h4.50v2.62h-4.50zM195.71 332.63h4.50v2.65h-4.50zM201.03 331.90h4.50v2.69h-4.50zM206.36 331.83h4.50v2.68h-4.50zM211.68 331.77h4.50v2.66h-4.50zM217.00 331.34h4.50v2.68h-4.50zM222.33 331.28h4.50v2.67h-4.50zM227.65 330.78h4.50v2.69h-4.50zM232.97 330.49h4.50v2.69h-4.50zM238.30 330.37h4.50v2.69h-4.50zM243.62 330.36h4.50v2.69h-4.50zM248.94 330.36h4.50v2.70h-4.50zM254.27 330.28h4.50v2.71h-4.50zM259.59 330.34h4.50v2.71h-4.50zM264.91 329.86h4.50v2.75h-4.50zM270.24 329.86h4.50v2.76h-4.50zM275.56 330.69h4.50v2.70h-4.50zM280.88 330.69h4.50v2.71h-4.50zM286.21 330.65h4.50v2.72h-4.50zM291.53 329.80h4.50v2.78h-4.50zM296.86 330.09h4.50v2.77h-4.50zM302.18 329.75h4.50v2.80h-4.50zM307.50 329.74h4.50v2.80h-4.50zM312.83 329.73h4.50v2.81h-4.50zM318.15 329.73h4.50v2.81h-4.50zM323.47 329.72h4.50v2.82h-4.50zM328.80 329.71h4.50v2.83h-4.50zM334.12 329.84h4.50v2.82h-4.50zM339.44 330.04h4.50v2.81h-4.50zM344.77 329.56h4.50v2.85h-4.50zM350.09 329.21h4.50v2.88h-4.50zM355.41 329.21h4.50v2.89h-4.50zM360.74 329.27h4.50v2.89h-4.50zM366.06 328.82h4.50v2.93h-4.50zM371.38 328.82h4.50v2.94h-4.50zM376.71 329.05h4.50v2.92h-4.50zM382.03 329.04h4.50v2.93h-4.50zM387.35 329.03h4.50v2.93h-4.50zM392.68 329.03h4.50v2.94h-4.50zM398.00 329.02h4.50v2.95h-4.50zM403.33 329.01h4.50v2.95h-4.50zM408.65 329.65h4.50v2.91h-4.50zM413.97 329.27h4.50v2.94h-4.50zM419.30 329.26h4.50v2.95h-4.50zM424.62 329.26h4.50v2.95h-4.50zM429.94 329.25h4.50v2.96h-4.50zM435.27 329.25h4.50v2.97h-4.50zM440.59 328.63h4.50v3.02h-4.50zM445.91 328.52h4.50v3.03h-4.50zM451.24 328.51h4.50v3.04h-4.50zM456.56 328.88h4.50v3.01h-4.50zM461.88 328.67h4.50v3.03h-4.50zM467.21 328.66h4.50v3.04h-4.50zM472.53 328.66h4.50v3.05h-4.50zM477.85 329.06h4.50v3.02h-4.50zM483.18 329.12h4.50v3.02h-4.50zM488.50 328.74h4.50v3.05h-4.50zM493.82 329.96h4.50v2.97h-4.50zM499.15 329.34h4.50v3.02h-4.50zM504.47 329.41h4.50v3.02h-4.50zM509.80 329.49h4.50v3.02h-4.50zM515.12 328.89h4.50v3.07h-4.50zM520.44 328.36h4.50v3.12h-4.50zM525.77 328.02h4.50v3.15h-4.50zM531.09 328.24h4.50v3.13h-4.50zM536.41 328.01h4.50v3.16h-4.50zM541.74 328.23h4.50v3.15h-4.50zM547.06 328.45h4.50v3.13h-4.50zM552.38 327.91h4.50v3.13h-4.50zM557.71 327.57h4.50v3.11h-4.50zM563.03 327.03h4.50v3.11h-4.50zM568.35 327.21h4.50v3.05h-4.50zM573.68 327.33h4.50v3.00h-4.50zM579.00 327.40h4.50v2.95h-4.50zM584.32 327.58h4.50v2.90h-4.50zM589.65 327.49h4.50v2.86h-4.50zM594.97 327.38h4.50v2.83h-4.50zM600.29 326.90h4.50v2.81h-4.50zM605.62 326.52h4.50v2.79h-4.50zM610.94 326.51h4.50v2.75h-4.50zM616.27 326.66h4.50v2.69h-4.50zM621.59 326.81h4.50v2.64h-4.50zM626.91 327.94h4.50v2.52h-4.50zM632.24 327.21h4.50v2.52h-4.50zM637.56 327.30h4.50v2.48h-4.50zM642.88 326.56h4.50v2.48h-4.50zM648.21 326.26h4.50v2.45h-4.50zM653.53 326.34h4.50v2.46h-4.50zM658.85 326.42h4.50v2.46h-4.50zM664.18 325.67h4.50v2.52h-4.50zM669.50 325.34h4.50v2.55h-4.50zM674.82 325.89h4.50v2.53h-4.50zM680.15 325.90h4.50v2.54h-4.50zM685.47 325.12h4.50v2.59h-4.50zM690.79 325.12h4.50v2.60h-4.50zM696.12 325.15h4.50v2.61h-4.50zM701.44 325.82h4.50v2.58h-4.50zM706.76 325.80h4.50v2.59h-4.50zM712.09 325.84h4.50v2.60h-4.50zM717.41 325.88h4.50v2.61h-4.50zM722.74 325.26h4.50v2.66h-4.50zM728.06 325.35h4.50v2.65h-4.50zM733.38 325.44h4.50v2.63h-4.50zM738.71 326.78h4.50v2.54h-4.50zM744.03 326.04h4.50v2.58h-4.50zM749.35 325.60h4.50v2.60h-4.50zM754.68 325.30h4.50v2.61h-4.50zM760.00 324.84h4.50v2.64h-4.50zM765.32 324.96h4.50v2.62h-4.50zM770.65 325.07h4.50v2.60h-4.50zM775.97 323.86h4.50v2.66h-4.50zM781.29 323.26h4.50v2.69h-4.50zM786.62 322.95h4.50v2.69h-4.50zM791.94 322.86h4.50v2.69h-4.50zM797.26 322.68h4.50v2.69h-4.50zM802.59 322.88h4.50v2.66h-4.50zM807.91 323.08h4.50v2.64h-4.50z"/>
<path fill="#8042f0" d="M131.83 328.81h4.50v8.50h-4.50zM137.15 328.88h4.50v8.23h-4.50zM142.47 324.53h4.50v8.88h-4.50zM147.80 321.37h4.50v9.25h-4.50zM153.12 318.27h4.50v9.59h-4.50zM158.44 314.76h4.50v9.98h-4.50zM163.77 312.96h4.50v10.04h-4.50zM169.09 313.04h4.50v9.77h-4.50zM174.41 313.11h4.50v9.50h-4.50zM179.74 310.44h4.50v9.72h-4.50zM185.06 308.35h4.50v9.82h-4.50zM190.39 307.14h4.50v9.78h-4.50zM195.71 306.16h4.50v9.70h-4.50zM201.03 305.07h4.50v9.64h-4.50zM206.36 305.14h4.50v9.41h-4.50zM211.68 305.20h4.50v9.19h-4.50zM217.00 304.63h4.50v9.07h-4.50zM222.33 304.69h4.50v8.87h-4.50zM227.65 304.00h4.50v8.77h-4.50zM232.97 303.65h4.50v8.63h-4.50zM238.30 303.59h4.50v8.46h-4.50zM243.62 303.60h4.50v8.45h-4.50zM248.94 303.62h4.50v8.44h-4.50zM254.27 303.51h4.50v8.45h-4.50zM259.59 303.64h4.50v8.42h-4.50zM264.91 302.85h4.50v8.52h-4.50zM270.24 302.86h4.50v8.51h-4.50zM275.56 304.32h4.50v8.31h-4.50zM280.88 304.33h4.50v8.30h-4.50zM286.21 304.28h4.50v8.30h-4.50zM291.53 302.86h4.50v8.47h-4.50zM296.86 303.39h4.50v8.40h-4.50zM302.18 302.83h4.50v8.46h-4.50zM307.50 302.84h4.50v8.45h-4.50zM312.83 302.85h4.50v8.44h-4.50zM318.15 302.86h4.50v8.43h-4.50zM323.47 302.88h4.50v8.42h-4.50zM328.80 302.89h4.50v8.41h-4.50zM334.12 303.13h4.50v8.37h-4.50zM339.44 303.49h4.50v8.32h-4.50zM344.77 302.70h4.50v8.41h-4.50zM350.09 302.14h4.50v8.47h-4.50zM355.41 302.15h4.50v8.46h-4.50zM360.74 302.28h4.50v8.44h-4.50zM366.06 301.55h4.50v8.52h-4.50zM371.38 301.56h4.50v8.51h-4.50zM376.71 301.97h4.50v8.45h-4.50zM382.03 301.99h4.50v8.44h-4.50zM387.35 302.00h4.50v8.43h-4.50zM392.68 302.01h4.50v8.42h-4.50zM398.00 302.03h4.50v8.41h-4.50zM403.33 302.04h4.50v8.40h-4.50zM408.65 303.14h4.50v8.25h-4.50zM413.97 302.52h4.50v8.32h-4.50zM419.30 302.54h4.50v8.31h-4.50zM424.62 302.55h4.50v8.31h-4.50zM429.94 302.56h4.50v8.30h-4.50zM435.27 302.57h4.50v8.29h-4.50zM440.59 301.56h4.50v8.41h-4.50zM445.91 301.40h4.50v8.42h-4.50zM451.24 301.41h4.50v8.41h-4.50zM456.56 302.05h4.50v8.32h-4.50zM461.88 301.72h4.50v8.35h-4.50zM467.21 301.73h4.50v8.34h-4.50zM472.53 301.75h4.50v8.33h-4.50zM477.85 302.45h4.50v8.24h-4.50zM483.18 302.57h4.50v8.21h-4.50zM488.50 301.96h4.50v8.28h-4.50zM493.82 304.03h4.50v8.02h-4.50zM499.15 303.01h4.50v8.13h-4.50zM504.47 303.16h4.50v8.11h-4.50zM509.80 303.31h4.50v8.08h-4.50zM515.12 302.32h4.50v8.20h-4.50zM520.44 301.45h4.50v8.30h-4.50zM525.77 300.90h4.50v8.36h-4.50zM531.09 301.31h4.50v8.30h-4.50zM536.41 300.93h4.50v8.34h-4.50zM541.74 301.33h4.50v8.28h-4.50zM547.06 301.73h4.50v8.22h-4.50zM552.38 300.71h4.50v8.38h-4.50zM557.71 300.03h4.50v8.51h-4.50zM563.03 299.03h4.50v8.67h-4.50zM568.35 299.22h4.50v8.68h-4.50zM573.68 299.30h4.50v8.71h-4.50zM579.00 299.33h4.50v8.74h-4.50zM584.32 299.51h4.50v8.75h-4.50zM589.65 299.27h4.50v8.82h-4.50zM594.97 298.97h4.50v8.89h-4.50zM600.29 298.09h4.50v9.03h-4.50zM605.62 297.37h4.50v9.15h-4.50zM610.94 297.29h4.50v9.19h-4.50zM616.27 297.48h4.50v9.19h-4.50zM621.59 297.66h4.50v9.20h-4.50zM626.91 299.53h4.50v8.98h-4.50zM632.24 298.20h4.50v9.18h-4.50zM637.56 298.29h4.50v9.20h-4.50zM642.88 296.96h4.50v9.40h-4.50zM648.21 296.37h4.50v9.51h-4.50zM653.53 296.63h4.50v9.49h-4.50zM658.85 296.89h4.50v9.48h-4.50zM664.18 295.73h4.50v9.67h-4.50zM669.50 295.29h4.50v9.75h-4.50zM674.82 296.36h4.50v9.63h-4.50zM680.15 296.50h4.50v9.64h-4.50zM685.47 295.29h4.50v9.83h-4.50zM690.79 295.43h4.50v9.83h-4.50zM696.12 295.61h4.50v9.83h-4.50zM701.44 296.86h4.50v9.69h-4.50zM706.76 296.93h4.50v9.70h-4.50zM712.09 297.12h4.50v9.70h-4.50zM717.41 297.32h4.50v9.70h-4.50zM722.74 296.39h4.50v9.85h-4.50zM728.06 297.06h4.50v9.17h-4.50zM733.38 297.73h4.50v8.49h-4.50zM738.71 300.42h4.50v7.59h-4.50zM744.03 299.22h4.50v7.59h-4.50zM749.35 298.49h4.50v7.52h-4.50zM754.68 298.01h4.50v7.43h-4.50zM760.00 297.24h4.50v7.37h-4.50zM765.32 297.47h4.50v7.20h-4.50zM770.65 297.70h4.50v7.02h-4.50zM775.97 295.76h4.50v7.06h-4.50zM781.29 292.36h4.50v7.39h-4.50zM786.62 291.70h4.50v7.66h-4.50zM791.94 291.40h4.50v7.91h-4.50zM797.26 290.97h4.50v8.16h-4.50zM802.59 291.17h4.50v8.35h-4.50zM807.91 291.38h4.50v8.54h-4.50z"/>
<path fill="#d8a0e8" d="M131.83 326.35h4.50v2.46h-4.50zM137.15 326.38h4.50v2.41h-4.50zM142.47 321.68h4.50v2.64h-4.50zM147.80 318.25h4.50v2.79h-4.50zM153.12 314.88h4.50v2.93h-4.50zM158.44 311.08h4.50v3.09h-4.50zM163.77 309.09h4.50v3.16h-4.50zM169.09 309.12h4.50v3.11h-4.50zM174.41 309.14h4.50v3.07h-4.50zM179.74 306.21h4.50v3.18h-4.50zM185.06 303.92h4.50v3.25h-4.50zM190.39 302.56h4.50v3.28h-4.50zM195.71 301.46h4.50v3.30h-4.50zM201.03 300.23h4.50v3.32h-4.50zM206.36 300.25h4.50v3.29h-4.50zM211.68 300.28h4.50v3.25h-4.50zM217.00 299.61h4.50v3.25h-4.50zM222.33 299.63h4.50v3.22h-4.50zM227.65 298.84h4.50v3.22h-4.50zM232.97 298.42h4.50v3.21h-4.50zM238.30 298.31h4.50v3.19h-4.50zM243.62 298.34h4.50v3.18h-4.50zM248.94 298.37h4.50v3.18h-4.50zM254.27 298.28h4.50v3.18h-4.50zM259.59 298.43h4.50v3.17h-4.50zM264.91 297.59h4.50v3.21h-4.50zM270.24 297.62h4.50v3.21h-4.50zM275.56 299.20h4.50v3.13h-4.50zM280.88 299.23h4.50v3.13h-4.50zM286.21 299.20h4.50v3.13h-4.50zM291.53 297.68h4.50v3.20h-4.50zM296.86 298.26h4.50v3.17h-4.50zM302.18 297.67h4.50v3.19h-4.50zM307.50 297.70h4.50v3.19h-4.50zM312.83 297.73h4.50v3.19h-4.50zM318.15 297.76h4.50v3.18h-4.50zM323.47 297.79h4.50v3.18h-4.50zM328.80 297.82h4.50v3.18h-4.50zM334.12 298.10h4.50v3.16h-4.50zM339.44 298.50h4.50v3.14h-4.50zM344.77 297.66h4.50v3.18h-4.50zM350.09 297.07h4.50v3.20h-4.50zM355.41 297.10h4.50v3.20h-4.50zM360.74 297.25h4.50v3.19h-4.50zM366.06 296.48h4.50v3.22h-4.50zM371.38 296.51h4.50v3.22h-4.50zM376.71 296.97h4.50v3.20h-4.50zM382.03 297.00h4.50v3.20h-4.50zM387.35 297.03h4.50v3.19h-4.50zM392.68 297.06h4.50v3.19h-4.50zM398.00 297.09h4.50v3.19h-4.50zM403.33 297.12h4.50v3.18h-4.50zM408.65 298.32h4.50v3.13h-4.50zM413.97 297.67h4.50v3.16h-4.50zM419.30 297.69h4.50v3.15h-4.50zM424.62 297.72h4.50v3.15h-4.50zM429.94 297.75h4.50v3.15h-4.50zM435.27 297.78h4.50v3.14h-4.50zM440.59 296.70h4.50v3.19h-4.50zM445.91 296.55h4.50v3.19h-4.50zM451.24 296.58h4.50v3.19h-4.50zM456.56 297.28h4.50v3.16h-4.50zM461.88 296.94h4.50v3.17h-4.50zM467.21 296.97h4.50v3.17h-4.50zM472.53 297.00h4.50v3.17h-4.50zM477.85 297.76h4.50v3.13h-4.50zM483.18 297.91h4.50v3.12h-4.50zM488.50 297.27h4.50v3.15h-4.50zM493.82 299.50h4.50v3.05h-4.50zM499.15 298.42h4.50v3.09h-4.50zM504.47 298.36h4.50v3.08h-4.50zM509.80 298.29h4.50v3.07h-4.50zM515.12 297.00h4.50v3.12h-4.50zM520.44 295.83h4.50v3.16h-4.50zM525.77 294.54h4.50v3.18h-4.50zM531.09 294.30h4.50v3.16h-4.50zM536.41 293.19h4.50v3.17h-4.50zM541.74 292.96h4.50v3.15h-4.50zM547.06 292.72h4.50v3.13h-4.50zM552.38 291.48h4.50v3.16h-4.50zM557.71 290.61h4.50v3.18h-4.50zM563.03 289.38h4.50v3.21h-4.50zM568.35 289.51h4.50v3.18h-4.50zM573.68 289.51h4.50v3.16h-4.50zM579.00 289.45h4.50v3.14h-4.50zM584.32 289.58h4.50v3.12h-4.50zM589.65 289.21h4.50v3.11h-4.50zM594.97 288.78h4.50v3.11h-4.50zM600.29 287.69h4.50v3.13h-4.50zM605.62 286.78h4.50v3.14h-4.50zM610.94 286.61h4.50v3.13h-4.50zM616.27 286.75h4.50v3.10h-4.50zM621.59 286.88h4.50v3.07h-4.50zM626.91 288.96h4.50v2.97h-4.50zM632.24 287.34h4.50v3.01h-4.50zM637.56 287.37h4.50v2.99h-4.50zM642.88 285.76h4.50v3.03h-4.50zM648.21 285.00h4.50v3.04h-4.50zM653.53 285.18h4.50v3.02h-4.50zM658.85 285.35h4.50v3.00h-4.50zM664.18 283.86h4.50v3.05h-4.50zM669.50 283.22h4.50v3.06h-4.50zM674.82 284.34h4.50v3.01h-4.50zM680.15 284.36h4.50v3.00h-4.50zM685.47 282.82h4.50v3.04h-4.50zM690.79 282.84h4.50v3.03h-4.50zM696.12 282.92h4.50v3.02h-4.50zM701.44 284.26h4.50v2.96h-4.50zM706.76 284.21h4.50v2.95h-4.50zM712.09 284.27h4.50v2.94h-4.50zM717.41 284.33h4.50v2.92h-4.50zM722.74 283.07h4.50v2.96h-4.50zM728.06 283.66h4.50v3.02h-4.50zM733.38 284.26h4.50v3.09h-4.50zM738.71 281.15h4.50v3.06h-4.50zM744.03 279.51h4.50v3.19h-4.50zM749.35 278.48h4.50v3.29h-4.50zM754.68 277.75h4.50v3.39h-4.50zM760.00 276.67h4.50v3.50h-4.50zM765.32 276.89h4.50v3.56h-4.50zM770.65 277.10h4.50v3.61h-4.50zM775.97 274.51h4.50v3.78h-4.50zM781.29 269.65h4.50v3.91h-4.50zM786.62 268.57h4.50v4.00h-4.50zM791.94 267.97h4.50v4.08h-4.50zM797.26 267.18h4.50v4.17h-4.50zM802.59 267.24h4.50v4.22h-4.50zM807.91 267.29h4.50v4.27h-4.50z"/>
<path fill="#8070d0" d="M131.83 320.69h4.50v5.67h-4.50z"/>
<path fill="#c070c0" d="M131.83 303.78h4.50v1.32h-4.50zM137.15 303.80h4.50v1.22h-4.50zM142.47 296.54h4.50v1.25h-4.50zM147.80 291.23h4.50v1.23h-4.50zM153.12 286.01h4.50v1.21h-4.50zM158.44 280.11h4.50v1.18h-4.50zM163.77 277.03h4.50v1.11h-4.50zM169.09 277.04h4.50v1.01h-4.50zM174.41 277.06h4.50v0.91h-4.50zM179.74 272.52h4.50v0.85h-4.50zM185.06 268.95h4.50v0.79h-4.50zM190.39 266.84h4.50v0.71h-4.50zM195.71 265.11h4.50v0.62h-4.50zM201.03 263.19h4.50v0.54h-4.50zM206.36 263.20h4.50v0.46h-4.50zM211.68 263.22h4.50v0.37h-4.50zM217.00 262.17h4.50v0.30h-4.50zM222.33 262.18h4.50v0.22h-4.50zM227.65 260.93h4.50v0.14h-4.50zM232.97 260.27h4.50v0.07h-4.50zM807.91 206.52h4.50v2.13h-4.50z"/>
<path fill="#7a83ac" d="M137.15 365.57h4.50v0.10h-4.50z"/>
<path fill="#2fa88a" d="M137.15 360.93h4.50v0.07h-4.50zM142.47 360.15h4.50v0.16h-4.50zM147.80 359.57h4.50v0.25h-4.50zM153.12 359.01h4.50v0.34h-4.50zM158.44 358.38h4.50v0.45h-4.50zM163.77 358.06h4.50v0.54h-4.50zM169.09 358.07h4.50v0.62h-4.50zM174.41 358.09h4.50v0.69h-4.50zM179.74 357.60h4.50v0.80h-4.50zM185.06 357.23h4.50v0.90h-4.50zM190.39 357.01h4.50v0.99h-4.50zM195.71 356.83h4.50v1.07h-4.50zM201.03 356.63h4.50v1.16h-4.50zM206.36 356.64h4.50v1.22h-4.50zM211.68 356.65h4.50v1.28h-4.50zM217.00 356.55h4.50v1.35h-4.50zM222.33 356.55h4.50v1.41h-4.50zM227.65 356.43h4.50v1.48h-4.50zM232.97 356.36h4.50v1.54h-4.50zM238.30 356.35h4.50v1.59h-4.50zM243.62 356.32h4.50v1.59h-4.50zM248.94 356.29h4.50v1.58h-4.50zM254.27 356.23h4.50v1.58h-4.50zM259.59 356.22h4.50v1.57h-4.50zM264.91 356.04h4.50v1.58h-4.50zM270.24 356.01h4.50v1.57h-4.50zM275.56 356.24h4.50v1.53h-4.50zM280.88 356.21h4.50v1.52h-4.50zM286.21 356.17h4.50v1.52h-4.50zM291.53 355.87h4.50v1.55h-4.50zM296.86 355.93h4.50v1.53h-4.50zM302.18 355.79h4.50v1.53h-4.50zM307.50 355.76h4.50v1.53h-4.50zM312.83 355.72h4.50v1.52h-4.50zM318.15 355.69h4.50v1.51h-4.50zM323.47 355.66h4.50v1.51h-4.50zM328.80 355.63h4.50v1.50h-4.50zM334.12 355.64h4.50v1.49h-4.50zM339.44 355.67h4.50v1.47h-4.50zM344.77 355.49h4.50v1.49h-4.50zM350.09 355.34h4.50v1.49h-4.50zM355.41 355.31h4.50v1.49h-4.50zM360.74 355.30h4.50v1.48h-4.50zM366.06 355.12h4.50v1.49h-4.50zM371.38 355.09h4.50v1.48h-4.50zM376.71 355.14h4.50v1.47h-4.50zM382.03 355.11h4.50v1.46h-4.50zM387.35 355.07h4.50v1.45h-4.50zM392.68 355.04h4.50v1.45h-4.50zM398.00 355.01h4.50v1.44h-4.50zM403.33 354.98h4.50v1.43h-4.50zM408.65 355.16h4.50v1.40h-4.50zM413.97 355.01h4.50v1.41h-4.50zM419.30 354.97h4.50v1.40h-4.50zM424.62 354.94h4.50v1.40h-4.50zM429.94 354.91h4.50v1.39h-4.50zM435.27 354.88h4.50v1.38h-4.50zM440.59 354.64h4.50v1.40h-4.50zM445.91 354.57h4.50v1.40h-4.50zM451.24 354.54h4.50v1.39h-4.50zM456.56 354.64h4.50v1.37h-4.50zM461.88 354.54h4.50v1.37h-4.50zM467.21 354.51h4.50v1.36h-4.50zM472.53 354.48h4.50v1.36h-4.50zM477.85 354.58h4.50v1.34h-4.50zM483.18 354.58h4.50v1.33h-4.50zM488.50 354.42h4.50v1.33h-4.50zM493.82 354.81h4.50v1.29h-4.50zM499.15 354.57h4.50v1.30h-4.50zM504.47 354.57h4.50v1.29h-4.50zM509.80 354.56h4.50v1.28h-4.50zM515.12 354.33h4.50v1.30h-4.50zM520.44 354.11h4.50v1.31h-4.50zM525.77 353.96h4.50v1.31h-4.50zM531.09 354.01h4.50v1.30h-4.50zM536.41 353.90h4.50v1.30h-4.50zM541.74 353.95h4.50v1.29h-4.50zM547.06 354.00h4.50v1.27h-4.50zM552.38 353.88h4.50v1.29h-4.50zM557.71 353.83h4.50v1.30h-4.50zM563.03 353.71h4.50v1.31h-4.50zM568.35 353.84h4.50v1.30h-4.50zM573.68 353.94h4.50v1.29h-4.50zM579.00 354.04h4.50v1.29h-4.50zM584.32 354.16h4.50v1.28h-4.50zM589.65 354.20h4.50v1.28h-4.50zM594.97 354.23h4.50v1.28h-4.50zM600.29 354.10h4.50v1.29h-4.50zM605.62 354.01h4.50v1.30h-4.50zM610.94 354.04h4.50v1.30h-4.50zM616.27 354.12h4.50v1.29h-4.50zM621.59 354.21h4.50v1.28h-4.50zM626.91 354.62h4.50v1.24h-4.50zM632.24 354.40h4.50v1.26h-4.50zM637.56 354.46h4.50v1.25h-4.50zM642.88 354.25h4.50v1.27h-4.50zM648.21 354.18h4.50v1.27h-4.50zM653.53 354.14h4.50v1.30h-4.50zM658.85 354.09h4.50v1.32h-4.50zM664.18 353.77h4.50v1.37h-4.50zM669.50 353.59h4.50v1.40h-4.50zM674.82 353.70h4.50v1.41h-4.50zM680.15 353.63h4.50v1.43h-4.50zM685.47 353.29h4.50v1.48h-4.50zM690.79 353.22h4.50v1.51h-4.50zM696.12 353.16h4.50v1.53h-4.50zM701.44 353.32h4.50v1.53h-4.50zM706.76 353.24h4.50v1.56h-4.50zM712.09 353.19h4.50v1.58h-4.50zM717.41 353.13h4.50v1.60h-4.50zM722.74 352.84h4.50v1.65h-4.50zM728.06 353.02h4.50v1.67h-4.50zM733.38 353.19h4.50v1.69h-4.50zM738.71 353.80h4.50v1.66h-4.50zM744.03 353.68h4.50v1.72h-4.50zM749.35 353.68h4.50v1.76h-4.50zM754.68 353.72h4.50v1.80h-4.50zM760.00 353.71h4.50v1.85h-4.50zM765.32 353.85h4.50v1.86h-4.50zM770.65 353.99h4.50v1.88h-4.50zM775.97 353.70h4.50v1.96h-4.50zM781.29 353.61h4.50v2.01h-4.50zM786.62 353.62h4.50v2.05h-4.50zM791.94 353.69h4.50v2.07h-4.50zM797.26 353.74h4.50v2.11h-4.50zM802.59 353.91h4.50v2.12h-4.50zM807.91 354.08h4.50v2.13h-4.50z"/>
<path fill="#7850d5" d="M137.15 356.87h4.50v0.53h-4.50z"/>
<path fill="#be32ce" d="M137.15 354.05h4.50v2.82h-4.50z"/>
<path fill="#617061" d="M137.15 350.05h4.50v1.20h-4.50zM142.47 348.01h4.50v1.38h-4.50z"/>
<path fill="#979061" d="M137.15 348.44h4.50v0.07h-4.50z"/>
<path fill="#ecd8ec" d="M137.15 328.79h4.50v0.10h-4.50zM142.47 324.32h4.50v0.21h-4.50zM147.80 321.04h4.50v0.33h-4.50zM153.12 317.81h4.50v0.45h-4.50zM158.44 314.17h4.50v0.59h-4.50zM163.77 312.25h4.50v0.72h-4.50zM169.09 312.23h4.50v0.81h-4.50zM174.41 312.20h4.50v0.91h-4.50zM179.74 309.39h4.50v1.05h-4.50zM185.06 307.17h4.50v1.18h-4.50zM190.39 305.85h4.50v1.29h-4.50zM195.71 304.76h4.50v1.40h-4.50zM201.03 303.55h4.50v1.52h-4.50zM206.36 303.54h4.50v1.60h-4.50zM211.68 303.53h4.50v1.68h-4.50zM217.00 302.86h4.50v1.77h-4.50zM222.33 302.84h4.50v1.85h-4.50zM227.65 302.06h4.50v1.94h-4.50zM232.97 301.63h4.50v2.02h-4.50zM238.30 301.50h4.50v2.09h-4.50zM243.62 301.52h4.50v2.08h-4.50zM248.94 301.55h4.50v2.06h-4.50zM254.27 301.46h4.50v2.05h-4.50zM259.59 301.60h4.50v2.04h-4.50zM264.91 300.80h4.50v2.05h-4.50zM270.24 300.82h4.50v2.04h-4.50zM275.56 302.34h4.50v1.98h-4.50zM280.88 302.36h4.50v1.96h-4.50zM286.21 302.33h4.50v1.95h-4.50zM291.53 300.87h4.50v1.98h-4.50zM296.86 301.43h4.50v1.96h-4.50zM302.18 300.87h4.50v1.96h-4.50zM307.50 300.89h4.50v1.95h-4.50zM312.83 300.92h4.50v1.93h-4.50zM318.15 300.94h4.50v1.92h-4.50zM323.47 300.97h4.50v1.91h-4.50zM328.80 301.00h4.50v1.89h-4.50zM334.12 301.26h4.50v1.87h-4.50zM339.44 301.64h4.50v1.85h-4.50zM344.77 300.84h4.50v1.86h-4.50zM350.09 300.27h4.50v1.86h-4.50zM355.41 300.30h4.50v1.85h-4.50zM360.74 300.44h4.50v1.83h-4.50zM366.06 299.70h4.50v1.84h-4.50zM371.38 299.73h4.50v1.83h-4.50zM376.71 300.17h4.50v1.81h-4.50zM382.03 300.20h4.50v1.79h-4.50zM387.35 300.22h4.50v1.78h-4.50zM392.68 300.25h4.50v1.77h-4.50zM398.00 300.27h4.50v1.75h-4.50zM403.33 300.30h4.50v1.74h-4.50zM408.65 301.44h4.50v1.70h-4.50zM413.97 300.82h4.50v1.70h-4.50zM419.30 300.85h4.50v1.69h-4.50zM424.62 300.87h4.50v1.68h-4.50zM429.94 300.90h4.50v1.66h-4.50zM435.27 300.92h4.50v1.65h-4.50zM440.59 299.89h4.50v1.66h-4.50zM445.91 299.74h4.50v1.66h-4.50zM451.24 299.77h4.50v1.64h-4.50zM456.56 300.44h4.50v1.61h-4.50zM461.88 300.11h4.50v1.61h-4.50zM467.21 300.14h4.50v1.60h-4.50zM472.53 300.16h4.50v1.58h-4.50zM477.85 300.89h4.50v1.56h-4.50zM483.18 301.03h4.50v1.54h-4.50zM488.50 300.41h4.50v1.54h-4.50zM493.82 302.55h4.50v1.48h-4.50zM499.15 301.52h4.50v1.49h-4.50zM504.47 301.44h4.50v1.48h-4.50zM509.80 301.37h4.50v1.46h-4.50zM515.12 300.12h4.50v1.47h-4.50zM520.44 298.99h4.50v1.48h-4.50zM525.77 297.72h4.50v1.39h-4.50zM531.09 297.46h4.50v1.28h-4.50zM536.41 296.37h4.50v1.19h-4.50zM541.74 296.11h4.50v1.08h-4.50zM547.06 295.86h4.50v0.98h-4.50zM552.38 294.64h4.50v1.13h-4.50zM557.71 293.79h4.50v1.28h-4.50zM563.03 292.59h4.50v1.44h-4.50zM568.35 292.69h4.50v1.57h-4.50zM573.68 292.67h4.50v1.70h-4.50zM579.00 292.59h4.50v1.84h-4.50zM584.32 292.69h4.50v1.97h-4.50zM589.65 292.32h4.50v2.11h-4.50zM594.97 291.89h4.50v2.25h-4.50zM600.29 290.82h4.50v2.41h-4.50zM605.62 289.92h4.50v2.56h-4.50zM610.94 289.74h4.50v2.70h-4.50zM616.27 289.84h4.50v2.82h-4.50zM621.59 289.95h4.50v2.94h-4.50zM626.91 291.93h4.50v2.98h-4.50zM632.24 290.36h4.50v3.17h-4.50zM637.56 290.37h4.50v3.29h-4.50zM642.88 288.79h4.50v3.47h-4.50zM648.21 288.04h4.50v3.63h-4.50zM653.53 288.20h4.50v3.70h-4.50zM658.85 288.35h4.50v3.78h-4.50zM664.18 286.91h4.50v3.94h-4.50zM669.50 286.28h4.50v4.06h-4.50zM674.82 287.35h4.50v4.09h-4.50zM680.15 287.36h4.50v4.17h-4.50zM685.47 285.86h4.50v4.34h-4.50zM690.79 285.87h4.50v4.43h-4.50zM696.12 285.93h4.50v4.51h-4.50zM701.44 287.22h4.50v4.52h-4.50zM706.76 287.16h4.50v4.61h-4.50zM712.09 287.21h4.50v4.69h-4.50zM717.41 287.25h4.50v4.77h-4.50zM722.74 286.02h4.50v4.93h-4.50zM728.06 286.68h4.50v4.86h-4.50zM733.38 287.34h4.50v4.80h-4.50zM738.71 284.21h4.50v4.60h-4.50zM744.03 282.70h4.50v4.64h-4.50zM749.35 281.77h4.50v4.63h-4.50zM754.68 281.14h4.50v4.61h-4.50zM760.00 280.17h4.50v4.61h-4.50zM765.32 280.44h4.50v4.54h-4.50zM770.65 280.72h4.50v4.47h-4.50zM775.97 278.30h4.50v4.54h-4.50zM781.29 273.56h4.50v4.54h-4.50zM786.62 272.57h4.50v4.52h-4.50zM791.94 272.05h4.50v4.47h-4.50zM797.26 271.35h4.50v4.42h-4.50zM802.59 271.46h4.50v4.35h-4.50zM807.91 271.56h4.50v4.27h-4.50z"/>
<path fill="#7b72c6" d="M137.15 320.86h4.50v5.51h-4.50z"/>
<path fill="#2e9a70" d="M137.15 311.06h4.50v0.12h-4.50zM142.47 304.61h4.50v0.26h-4.50zM147.80 299.89h4.50v0.40h-4.50zM153.12 295.25h4.50v0.56h-4.50zM158.44 290.01h4.50v0.73h-4.50zM163.77 287.27h4.50v0.89h-4.50zM169.09 287.27h4.50v1.01h-4.50zM174.41 287.28h4.50v1.12h-4.50zM179.74 283.24h4.50v1.30h-4.50zM185.06 280.07h4.50v1.46h-4.50zM190.39 278.18h4.50v1.60h-4.50zM195.71 276.64h4.50v1.74h-4.50zM201.03 274.93h4.50v1.88h-4.50zM206.36 274.93h4.50v1.98h-4.50zM211.68 274.94h4.50v2.08h-4.50zM217.00 274.00h4.50v2.19h-4.50zM222.33 274.00h4.50v2.28h-4.50zM227.65 272.89h4.50v2.40h-4.50zM232.97 272.30h4.50v2.50h-4.50zM238.30 272.13h4.50v2.59h-4.50zM243.62 272.19h4.50v2.56h-4.50zM248.94 272.25h4.50v2.53h-4.50zM254.27 272.13h4.50v2.50h-4.50zM259.59 272.36h4.50v2.47h-4.50zM264.91 271.22h4.50v2.47h-4.50zM270.24 271.28h4.50v2.44h-4.50zM275.56 273.47h4.50v2.36h-4.50zM280.88 273.53h4.50v2.33h-4.50zM286.21 273.50h4.50v2.30h-4.50zM291.53 271.42h4.50v2.32h-4.50zM296.86 272.25h4.50v2.27h-4.50zM302.18 271.45h4.50v2.26h-4.50zM307.50 271.51h4.50v2.23h-4.50zM312.83 271.57h4.50v2.20h-4.50zM318.15 271.62h4.50v2.17h-4.50zM323.47 271.68h4.50v2.15h-4.50zM328.80 271.74h4.50v2.12h-4.50zM334.12 272.13h4.50v2.08h-4.50zM339.44 272.70h4.50v2.04h-4.50zM344.77 271.57h4.50v2.03h-4.50zM350.09 270.78h4.50v2.02h-4.50zM355.41 270.83h4.50v1.99h-4.50zM360.74 271.06h4.50v1.96h-4.50zM366.06 270.02h4.50v1.95h-4.50zM371.38 270.07h4.50v1.92h-4.50zM376.71 270.72h4.50v1.88h-4.50zM382.03 270.78h4.50v1.85h-4.50zM387.35 270.84h4.50v1.82h-4.50zM392.68 270.89h4.50v1.79h-4.50zM398.00 270.95h4.50v1.76h-4.50zM403.33 271.00h4.50v1.74h-4.50zM408.65 272.66h4.50v1.68h-4.50zM413.97 271.79h4.50v1.67h-4.50zM419.30 271.85h4.50v1.64h-4.50zM424.62 271.90h4.50v1.61h-4.50zM429.94 271.96h4.50v1.58h-4.50zM435.27 272.01h4.50v1.55h-4.50zM440.59 270.56h4.50v1.55h-4.50zM445.91 270.36h4.50v1.52h-4.50zM451.24 270.42h4.50v1.49h-4.50zM456.56 271.39h4.50v1.45h-4.50zM461.88 270.95h4.50v1.43h-4.50zM467.21 271.00h4.50v1.40h-4.50zM472.53 271.06h4.50v1.37h-4.50zM477.85 272.12h4.50v1.33h-4.50zM483.18 272.34h4.50v1.30h-4.50zM488.50 271.47h4.50v1.28h-4.50zM493.82 274.53h4.50v1.21h-4.50zM499.15 273.08h4.50v1.21h-4.50zM504.47 273.10h4.50v1.18h-4.50zM509.80 273.11h4.50v1.15h-4.50zM515.12 271.46h4.50v1.14h-4.50zM520.44 269.97h4.50v1.12h-4.50zM525.77 268.49h4.50v1.10h-4.50zM531.09 268.43h4.50v1.07h-4.50zM536.41 267.20h4.50v1.05h-4.50zM541.74 267.14h4.50v1.01h-4.50zM547.06 267.08h4.50v0.98h-4.50zM552.38 265.49h4.50v1.16h-4.50zM557.71 264.42h4.50v1.34h-4.50zM563.03 262.85h4.50v1.53h-4.50zM568.35 263.11h4.50v1.70h-4.50zM573.68 263.20h4.50v1.86h-4.50zM579.00 263.20h4.50v2.03h-4.50zM584.32 263.45h4.50v2.18h-4.50zM589.65 263.04h4.50v2.35h-4.50zM594.97 262.54h4.50v2.53h-4.50zM600.29 261.15h4.50v2.72h-4.50zM605.62 259.99h4.50v2.91h-4.50zM610.94 259.82h4.50v3.07h-4.50zM616.27 260.05h4.50v3.22h-4.50zM621.59 260.28h4.50v3.37h-4.50zM626.91 263.10h4.50v3.43h-4.50zM632.24 261.01h4.50v3.65h-4.50zM637.56 261.10h4.50v3.80h-4.50zM642.88 259.01h4.50v4.03h-4.50zM648.21 258.06h4.50v4.21h-4.50zM653.53 258.18h4.50v4.26h-4.50zM658.85 258.31h4.50v4.31h-4.50zM664.18 256.22h4.50v4.45h-4.50zM669.50 255.27h4.50v4.54h-4.50zM674.82 256.64h4.50v4.54h-4.50zM680.15 256.57h4.50v4.59h-4.50zM685.47 254.40h4.50v4.74h-4.50zM690.79 254.33h4.50v4.80h-4.50zM696.12 254.33h4.50v4.85h-4.50zM701.44 256.02h4.50v4.83h-4.50zM706.76 255.85h4.50v4.89h-4.50zM712.09 255.84h4.50v4.94h-4.50zM717.41 255.82h4.50v4.99h-4.50zM722.74 254.04h4.50v5.12h-4.50zM728.06 254.40h4.50v5.12h-4.50zM733.38 254.76h4.50v5.11h-4.50zM738.71 252.29h4.50v4.95h-4.50zM744.03 250.10h4.50v5.05h-4.50zM749.35 248.72h4.50v5.10h-4.50zM754.68 247.74h4.50v5.14h-4.50zM760.00 246.29h4.50v5.20h-4.50zM765.32 246.59h4.50v5.19h-4.50zM770.65 246.89h4.50v5.17h-4.50zM775.97 243.45h4.50v5.31h-4.50zM781.29 236.68h4.50v5.38h-4.50zM786.62 235.41h4.50v5.41h-4.50zM791.94 234.77h4.50v5.42h-4.50zM797.26 233.90h4.50v5.44h-4.50zM802.59 234.13h4.50v5.41h-4.50zM807.91 234.36h4.50v5.39h-4.50z"/>
<path fill="#a830c8" d="M137.15 306.90h4.50v0.12h-4.50zM142.47 299.88h4.50v0.27h-4.50zM147.80 294.70h4.50v0.42h-4.50zM153.12 289.61h4.50v0.58h-4.50zM158.44 283.85h4.50v0.76h-4.50zM163.77 280.79h4.50v0.92h-4.50zM169.09 280.69h4.50v1.05h-4.50zM174.41 280.60h4.50v1.17h-4.50zM179.74 276.14h4.50v1.35h-4.50zM185.06 272.60h4.50v1.52h-4.50zM190.39 270.47h4.50v1.66h-4.50zM195.71 268.70h4.50v1.81h-4.50zM201.03 266.75h4.50v1.95h-4.50zM206.36 266.67h4.50v2.06h-4.50zM211.68 266.60h4.50v2.16h-4.50zM217.00 265.50h4.50v2.28h-4.50zM222.33 265.43h4.50v2.37h-4.50zM227.65 264.14h4.50v2.49h-4.50zM232.97 263.42h4.50v2.60h-4.50zM238.30 263.17h4.50v2.69h-4.50zM243.62 263.19h4.50v2.68h-4.50zM248.94 263.21h4.50v2.68h-4.50zM254.27 263.05h4.50v2.68h-4.50zM259.59 263.26h4.50v2.67h-4.50zM264.91 261.97h4.50v2.70h-4.50zM270.24 261.99h4.50v2.69h-4.50zM275.56 264.36h4.50v2.63h-4.50zM280.88 264.38h4.50v2.63h-4.50zM286.21 264.31h4.50v2.62h-4.50zM291.53 261.99h4.50v2.68h-4.50zM296.86 262.85h4.50v2.65h-4.50zM302.18 261.94h4.50v2.67h-4.50zM307.50 261.96h4.50v2.67h-4.50zM312.83 261.98h4.50v2.66h-4.50zM318.15 262.00h4.50v2.66h-4.50zM323.47 262.02h4.50v2.66h-4.50zM328.80 262.05h4.50v2.65h-4.50zM334.12 262.44h4.50v2.64h-4.50zM339.44 263.03h4.50v2.62h-4.50zM344.77 261.74h4.50v2.65h-4.50zM350.09 260.82h4.50v2.67h-4.50zM355.41 260.85h4.50v2.66h-4.50zM360.74 261.05h4.50v2.65h-4.50zM366.06 259.86h4.50v2.68h-4.50zM371.38 259.88h4.50v2.67h-4.50zM376.71 260.56h4.50v2.65h-4.50zM382.03 260.58h4.50v2.65h-4.50zM387.35 260.60h4.50v2.65h-4.50zM392.68 260.63h4.50v2.64h-4.50zM398.00 260.65h4.50v2.64h-4.50zM403.33 260.67h4.50v2.63h-4.50zM408.65 262.46h4.50v2.59h-4.50zM413.97 261.46h4.50v2.61h-4.50zM419.30 261.48h4.50v2.60h-4.50zM424.62 261.50h4.50v2.60h-4.50zM429.94 261.52h4.50v2.59h-4.50zM435.27 261.54h4.50v2.59h-4.50zM440.59 259.89h4.50v2.63h-4.50zM445.91 259.63h4.50v2.63h-4.50zM451.24 259.65h4.50v2.62h-4.50zM456.56 260.70h4.50v2.59h-4.50zM461.88 260.16h4.50v2.60h-4.50zM467.21 260.18h4.50v2.60h-4.50zM472.53 260.20h4.50v2.60h-4.50zM477.85 261.34h4.50v2.56h-4.50zM483.18 261.55h4.50v2.56h-4.50zM488.50 260.55h4.50v2.58h-4.50zM493.82 263.91h4.50v2.49h-4.50zM499.15 262.26h4.50v2.53h-4.50zM504.47 262.26h4.50v2.52h-4.50zM509.80 262.27h4.50v2.51h-4.50zM515.12 260.41h4.50v2.54h-4.50zM520.44 258.74h4.50v2.57h-4.50zM525.77 257.13h4.50v2.59h-4.50zM531.09 257.11h4.50v2.57h-4.50zM536.41 255.78h4.50v2.58h-4.50zM541.74 255.75h4.50v2.56h-4.50zM547.06 255.72h4.50v2.55h-4.50zM552.38 253.94h4.50v2.52h-4.50zM557.71 252.73h4.50v2.48h-4.50zM563.03 250.96h4.50v2.44h-4.50zM568.35 251.22h4.50v2.37h-4.50zM573.68 251.30h4.50v2.30h-4.50zM579.00 251.29h4.50v2.23h-4.50zM584.32 251.55h4.50v2.16h-4.50zM589.65 251.07h4.50v2.11h-4.50zM594.97 250.50h4.50v2.05h-4.50zM600.29 248.93h4.50v2.01h-4.50zM605.62 247.64h4.50v1.96h-4.50zM610.94 247.44h4.50v1.90h-4.50zM616.27 247.69h4.50v1.83h-4.50zM621.59 247.94h4.50v1.76h-4.50zM626.91 251.07h4.50v1.65h-4.50zM632.24 248.73h4.50v1.62h-4.50zM637.56 248.82h4.50v1.55h-4.50zM642.88 246.49h4.50v1.52h-4.50zM648.21 245.41h4.50v1.47h-4.50zM653.53 245.53h4.50v1.50h-4.50zM658.85 245.65h4.50v1.53h-4.50zM664.18 243.31h4.50v1.59h-4.50zM669.50 242.22h4.50v1.64h-4.50zM674.82 243.73h4.50v1.65h-4.50zM680.15 243.63h4.50v1.68h-4.50zM685.47 241.19h4.50v1.75h-4.50zM690.79 241.08h4.50v1.78h-4.50zM696.12 241.06h4.50v1.81h-4.50zM701.44 242.92h4.50v1.81h-4.50zM706.76 242.71h4.50v1.85h-4.50zM712.09 242.68h4.50v1.88h-4.50zM717.41 242.65h4.50v1.91h-4.50zM722.74 240.64h4.50v1.97h-4.50zM728.06 240.87h4.50v2.00h-4.50zM733.38 241.10h4.50v2.03h-4.50zM738.71 238.91h4.50v2.00h-4.50zM744.03 236.31h4.50v2.08h-4.50zM749.35 234.63h4.50v2.13h-4.50zM754.68 233.40h4.50v2.18h-4.50zM760.00 231.63h4.50v2.24h-4.50zM765.32 231.82h4.50v2.27h-4.50zM770.65 232.02h4.50v2.30h-4.50zM775.97 228.02h4.50v2.40h-4.50zM781.29 220.90h4.50v2.46h-4.50zM786.62 219.37h4.50v2.51h-4.50zM791.94 218.55h4.50v2.55h-4.50zM797.26 217.47h4.50v2.60h-4.50zM802.59 217.64h4.50v2.62h-4.50zM807.91 217.80h4.50v2.64h-4.50z"/>
<path fill="#f2e6c8" d="M137.15 306.84h4.50v0.06h-4.50zM142.47 299.75h4.50v0.13h-4.50zM147.80 294.50h4.50v0.20h-4.50zM153.12 289.33h4.50v0.28h-4.50zM158.44 283.49h4.50v0.37h-4.50zM163.77 280.34h4.50v0.44h-4.50zM169.09 280.19h4.50v0.50h-4.50zM174.41 280.04h4.50v0.56h-4.50zM179.74 275.49h4.50v0.65h-4.50zM185.06 271.87h4.50v0.73h-4.50zM190.39 269.66h4.50v0.80h-4.50zM195.71 267.83h4.50v0.87h-4.50zM201.03 265.81h4.50v0.94h-4.50zM206.36 265.68h4.50v0.99h-4.50zM211.68 265.56h4.50v1.04h-4.50zM217.00 264.40h4.50v1.10h-4.50zM222.33 264.29h4.50v1.14h-4.50zM227.65 262.94h4.50v1.20h-4.50zM232.97 262.17h4.50v1.25h-4.50zM238.30 261.88h4.50v1.29h-4.50zM243.62 261.90h4.50v1.29h-4.50zM248.94 261.93h4.50v1.29h-4.50zM254.27 261.76h4.50v1.29h-4.50zM259.59 261.98h4.50v1.28h-4.50zM264.91 260.67h4.50v1.30h-4.50zM270.24 260.70h4.50v1.29h-4.50zM275.56 263.10h4.50v1.26h-4.50zM280.88 263.12h4.50v1.26h-4.50zM286.21 263.05h4.50v1.26h-4.50zM291.53 260.70h4.50v1.28h-4.50zM296.86 261.58h4.50v1.27h-4.50zM302.18 260.66h4.50v1.28h-4.50zM307.50 260.68h4.50v1.27h-4.50zM312.83 260.71h4.50v1.27h-4.50zM318.15 260.73h4.50v1.27h-4.50zM323.47 260.76h4.50v1.26h-4.50zM328.80 260.78h4.50v1.26h-4.50zM334.12 261.19h4.50v1.25h-4.50zM339.44 261.78h4.50v1.24h-4.50zM344.77 260.48h4.50v1.26h-4.50zM350.09 259.56h4.50v1.27h-4.50zM355.41 259.58h4.50v1.26h-4.50zM360.74 259.80h4.50v1.26h-4.50zM366.06 258.59h4.50v1.27h-4.50zM371.38 258.62h4.50v1.27h-4.50zM376.71 259.31h4.50v1.25h-4.50zM382.03 259.33h4.50v1.25h-4.50zM387.35 259.35h4.50v1.25h-4.50zM392.68 259.38h4.50v1.25h-4.50zM398.00 259.40h4.50v1.24h-4.50zM403.33 259.43h4.50v1.24h-4.50zM408.65 261.25h4.50v1.22h-4.50zM413.97 260.23h4.50v1.23h-4.50zM419.30 260.26h4.50v1.22h-4.50zM424.62 260.28h4.50v1.22h-4.50zM429.94 260.31h4.50v1.22h-4.50zM435.27 260.33h4.50v1.21h-4.50zM440.59 258.66h4.50v1.23h-4.50zM445.91 258.40h4.50v1.23h-4.50zM451.24 258.42h4.50v1.23h-4.50zM456.56 259.48h4.50v1.21h-4.50zM461.88 258.94h4.50v1.22h-4.50zM467.21 258.97h4.50v1.21h-4.50zM472.53 258.99h4.50v1.21h-4.50zM477.85 260.14h4.50v1.20h-4.50zM483.18 260.36h4.50v1.19h-4.50zM488.50 259.35h4.50v1.20h-4.50zM493.82 262.76h4.50v1.16h-4.50zM499.15 261.09h4.50v1.17h-4.50zM504.47 261.10h4.50v1.17h-4.50zM509.80 261.10h4.50v1.16h-4.50zM515.12 259.23h4.50v1.18h-4.50zM520.44 257.55h4.50v1.19h-4.50zM525.77 255.93h4.50v1.20h-4.50zM531.09 255.92h4.50v1.19h-4.50zM536.41 254.58h4.50v1.19h-4.50zM541.74 254.56h4.50v1.18h-4.50zM547.06 254.55h4.50v1.17h-4.50zM552.38 252.74h4.50v1.20h-4.50zM557.71 251.50h4.50v1.23h-4.50zM563.03 249.70h4.50v1.26h-4.50zM568.35 249.96h4.50v1.26h-4.50zM573.68 250.03h4.50v1.27h-4.50zM579.00 250.00h4.50v1.28h-4.50zM584.32 250.25h4.50v1.29h-4.50zM589.65 249.76h4.50v1.31h-4.50zM594.97 249.18h4.50v1.32h-4.50zM600.29 247.58h4.50v1.35h-4.50zM605.62 246.27h4.50v1.37h-4.50zM610.94 246.06h4.50v1.38h-4.50zM616.27 246.30h4.50v1.39h-4.50zM621.59 246.54h4.50v1.40h-4.50zM626.91 249.70h4.50v1.37h-4.50zM632.24 247.32h4.50v1.40h-4.50zM637.56 247.41h4.50v1.41h-4.50zM642.88 245.04h4.50v1.45h-4.50zM648.21 243.94h4.50v1.47h-4.50zM653.53 244.06h4.50v1.47h-4.50zM658.85 244.18h4.50v1.47h-4.50zM664.18 241.81h4.50v1.49h-4.50zM669.50 240.71h4.50v1.51h-4.50zM674.82 242.24h4.50v1.49h-4.50zM680.15 242.14h4.50v1.49h-4.50zM685.47 239.67h4.50v1.52h-4.50zM690.79 239.56h4.50v1.52h-4.50zM696.12 239.54h4.50v1.52h-4.50zM701.44 241.42h4.50v1.50h-4.50zM706.76 241.21h4.50v1.50h-4.50zM712.09 241.18h4.50v1.50h-4.50zM717.41 241.15h4.50v1.50h-4.50zM722.74 239.11h4.50v1.52h-4.50zM728.06 239.35h4.50v1.52h-4.50zM733.38 239.58h4.50v1.52h-4.50zM738.71 237.43h4.50v1.48h-4.50zM744.03 234.81h4.50v1.51h-4.50zM749.35 233.10h4.50v1.52h-4.50zM754.68 231.86h4.50v1.54h-4.50zM760.00 230.07h4.50v1.56h-4.50zM765.32 230.27h4.50v1.55h-4.50zM770.65 230.47h4.50v1.55h-4.50zM775.97 226.43h4.50v1.59h-4.50zM781.29 219.28h4.50v1.62h-4.50zM786.62 217.74h4.50v1.63h-4.50zM791.94 216.92h4.50v1.63h-4.50zM797.26 215.83h4.50v1.64h-4.50zM802.59 216.00h4.50v1.63h-4.50zM807.91 216.17h4.50v1.63h-4.50z"/>
<path fill="#9d2162" d="M137.15 305.02h4.50v1.82h-4.50z"/>
<path fill="#7983a9" d="M142.47 365.23h4.50v0.21h-4.50z"/>
<path fill="#7950d5" d="M142.47 355.63h4.50v0.65h-4.50z"/>
<path fill="#bc34cd" d="M142.47 352.60h4.50v3.03h-4.50z"/>
<path fill="#616f61" d="M142.47 351.22h4.50v1.38h-4.50z"/>
<path fill="#bfa5bc" d="M142.47 346.28h4.50v1.73h-4.50z"/>
<path fill="#979062" d="M142.47 346.12h4.50v0.16h-4.50z"/>
<path fill="#7575bb" d="M142.47 315.70h4.50v5.98h-4.50z"/>
<path fill="#9b2264" d="M142.47 297.79h4.50v1.96h-4.50z"/>
<path fill="#7784a6" d="M147.80 364.96h4.50v0.33h-4.50z"/>
<path fill="#7a50d5" d="M147.80 354.73h4.50v0.77h-4.50z"/>
<path fill="#ba36cb" d="M147.80 351.58h4.50v3.15h-4.50z"/>
<path fill="#626f62" d="M147.80 350.06h4.50v1.52h-4.50zM153.12 348.92h4.50v1.67h-4.50z"/>
<path fill="#6b7a62" d="M147.80 349.04h4.50v1.01h-4.50zM153.12 347.81h4.50v1.11h-4.50zM158.44 346.41h4.50v1.22h-4.50z"/>
<path fill="#716880" d="M147.80 348.03h4.50v1.01h-4.50zM153.12 346.70h4.50v1.11h-4.50zM158.44 345.19h4.50v1.22h-4.50zM744.03 335.40h4.50v1.83h-4.50zM749.35 335.10h4.50v1.86h-4.50zM754.68 334.92h4.50v1.88h-4.50zM760.00 334.61h4.50v1.91h-4.50zM765.32 334.73h4.50v1.91h-4.50zM770.65 334.85h4.50v1.91h-4.50z"/>
<path fill="#627062" d="M147.80 346.50h4.50v1.52h-4.50z"/>
<path fill="#bfa5bb" d="M147.80 344.63h4.50v1.88h-4.50z"/>
<path fill="#969062" d="M147.80 344.38h4.50v0.25h-4.50zM153.12 342.66h4.50v0.34h-4.50zM158.44 340.72h4.50v0.45h-4.50zM163.77 339.65h4.50v0.54h-4.50z"/>
<path fill="#7077b1" d="M147.80 311.99h4.50v6.27h-4.50z"/>
<path fill="#982266" d="M147.80 292.46h4.50v2.04h-4.50z"/>
<path fill="#7684a3" d="M153.12 364.68h4.50v0.45h-4.50z"/>
<path fill="#7c50d4" d="M153.12 353.84h4.50v0.88h-4.50z"/>
<path fill="#b838ca" d="M153.12 350.59h4.50v3.25h-4.50z"/>
<path fill="#637063" d="M153.12 345.03h4.50v1.67h-4.50z"/>
<path fill="#bea4bb" d="M153.12 343.00h4.50v2.03h-4.50z"/>
<path fill="#6a79a7" d="M153.12 308.35h4.50v6.53h-4.50z"/>
<path fill="#952368" d="M153.12 287.21h4.50v2.11h-4.50z"/>
<path fill="#7484a0" d="M158.44 364.37h4.50v0.59h-4.50z"/>
<path fill="#7d50d4" d="M158.44 352.84h4.50v1.01h-4.50z"/>
<path fill="#b63ac8" d="M158.44 349.47h4.50v3.37h-4.50z"/>
<path fill="#626e62" d="M158.44 347.64h4.50v1.83h-4.50z"/>
<path fill="#647064" d="M158.44 343.36h4.50v1.83h-4.50z"/>
<path fill="#bea4ba" d="M158.44 341.17h4.50v2.19h-4.50z"/>
<path fill="#657b9d" d="M158.44 304.24h4.50v6.83h-4.50z"/>
<path fill="#92246a" d="M158.44 281.29h4.50v2.19h-4.50z"/>
<path fill="#73859c" d="M163.77 364.17h4.50v0.72h-4.50z"/>
<path fill="#7e50d4" d="M163.77 352.33h4.50v1.11h-4.50z"/>
<path fill="#b53dc6" d="M163.77 348.94h4.50v3.38h-4.50z"/>
<path fill="#636e63" d="M163.77 347.01h4.50v1.94h-4.50z"/>
<path fill="#6b7962" d="M163.77 345.71h4.50v1.29h-4.50zM169.09 345.77h4.50v1.32h-4.50z"/>
<path fill="#71687f" d="M163.77 344.42h4.50v1.29h-4.50zM169.09 344.45h4.50v1.32h-4.50z"/>
<path fill="#646f64" d="M163.77 342.48h4.50v1.94h-4.50z"/>
<path fill="#bea4b9" d="M163.77 340.19h4.50v2.29h-4.50z"/>
<path fill="#5f7e92" d="M163.77 302.18h4.50v6.91h-4.50z"/>
<path fill="#90256c" d="M163.77 278.14h4.50v2.20h-4.50z"/>
<path fill="#728599" d="M169.09 364.11h4.50v0.81h-4.50z"/>
<path fill="#8050d3" d="M169.09 352.34h4.50v1.17h-4.50z"/>
<path fill="#b33fc5" d="M169.09 349.07h4.50v3.28h-4.50z"/>
<path fill="#646e64" d="M169.09 347.09h4.50v1.98h-4.50zM174.41 347.17h4.50v2.02h-4.50z"/>
<path fill="#656f65" d="M169.09 342.48h4.50v1.98h-4.50z"/>
<path fill="#bda3b9" d="M169.09 340.16h4.50v2.31h-4.50z"/>
<path fill="#959062" d="M169.09 339.54h4.50v0.62h-4.50zM174.41 339.44h4.50v0.69h-4.50z"/>
<path fill="#5a8088" d="M169.09 302.36h4.50v6.76h-4.50z"/>
<path fill="#8d266e" d="M169.09 278.05h4.50v2.14h-4.50z"/>
<path fill="#708696" d="M174.41 364.05h4.50v0.91h-4.50z"/>
<path fill="#8150d3" d="M174.41 352.36h4.50v1.23h-4.50z"/>
<path fill="#b141c3" d="M174.41 349.19h4.50v3.18h-4.50z"/>
<path fill="#6c7962" d="M174.41 345.83h4.50v1.34h-4.50zM179.74 344.77h4.50v1.44h-4.50zM185.06 343.95h4.50v1.52h-4.50zM190.39 343.49h4.50v1.57h-4.50zM195.71 343.11h4.50v1.62h-4.50z"/>
<path fill="#72687f" d="M174.41 344.48h4.50v1.34h-4.50zM179.74 343.34h4.50v1.44h-4.50zM185.06 342.44h4.50v1.52h-4.50zM190.39 341.92h4.50v1.57h-4.50zM195.71 341.49h4.50v1.62h-4.50z"/>
<path fill="#666f66" d="M174.41 342.47h4.50v2.02h-4.50zM179.74 341.18h4.50v2.15h-4.50z"/>
<path fill="#bda3b8" d="M174.41 340.13h4.50v2.33h-4.50z"/>
<path fill="#5b818a" d="M174.41 302.53h4.50v6.61h-4.50z"/>
<path fill="#8a2670" d="M174.41 277.97h4.50v2.07h-4.50z"/>
<path fill="#6f8693" d="M179.74 363.79h4.50v1.05h-4.50z"/>
<path fill="#8250d3" d="M179.74 351.60h4.50v1.35h-4.50z"/>
<path fill="#af43c2" d="M179.74 348.36h4.50v3.23h-4.50z"/>
<path fill="#646d64" d="M179.74 346.21h4.50v2.15h-4.50z"/>
<path fill="#bca3b7" d="M179.74 338.71h4.50v2.47h-4.50zM185.06 337.58h4.50v2.58h-4.50z"/>
<path fill="#959063" d="M179.74 337.91h4.50v0.80h-4.50zM185.06 336.69h4.50v0.90h-4.50z"/>
<path fill="#5c828c" d="M179.74 299.42h4.50v6.79h-4.50z"/>
<path fill="#882772" d="M179.74 273.38h4.50v2.11h-4.50z"/>
<path fill="#6d8690" d="M185.06 363.57h4.50v1.18h-4.50z"/>
<path fill="#8350d3" d="M185.06 351.00h4.50v1.46h-4.50z"/>
<path fill="#ad45c0" d="M185.06 347.74h4.50v3.25h-4.50z"/>
<path fill="#656d65" d="M185.06 345.47h4.50v2.27h-4.50z"/>
<path fill="#676f67" d="M185.06 340.17h4.50v2.27h-4.50z"/>
<path fill="#5e828e" d="M185.06 297.01h4.50v6.90h-4.50z"/>
<path fill="#852874" d="M185.06 269.74h4.50v2.13h-4.50z"/>
<path fill="#6c878c" d="M190.39 363.41h4.50v1.29h-4.50z"/>
<path fill="#8550d2" d="M190.39 350.65h4.50v1.55h-4.50z"/>
<path fill="#ab47be" d="M190.39 347.42h4.50v3.23h-4.50z"/>
<path fill="#666d66" d="M190.39 345.06h4.50v2.36h-4.50z"/>
<path fill="#686f68" d="M190.39 339.56h4.50v2.36h-4.50zM195.71 339.06h4.50v2.44h-4.50z"/>
<path fill="#bca2b6" d="M190.39 336.90h4.50v2.66h-4.50z"/>
<path fill="#949063" d="M190.39 335.93h4.50v0.98h-4.50zM195.71 335.29h4.50v1.05h-4.50zM201.03 334.59h4.50v1.12h-4.50z"/>
<path fill="#5f838f" d="M190.39 295.65h4.50v6.91h-4.50z"/>
<path fill="#822976" d="M190.39 267.55h4.50v2.12h-4.50z"/>
<path fill="#6a8789" d="M195.71 363.27h4.50v1.40h-4.50z"/>
<path fill="#8650d2" d="M195.71 350.36h4.50v1.63h-4.50z"/>
<path fill="#a949bd" d="M195.71 347.17h4.50v3.19h-4.50z"/>
<path fill="#666c66" d="M195.71 344.74h4.50v2.44h-4.50zM201.03 344.37h4.50v2.52h-4.50z"/>
<path fill="#bba2b5" d="M195.71 336.34h4.50v2.72h-4.50zM201.03 335.71h4.50v2.79h-4.50z"/>
<path fill="#608491" d="M195.71 294.57h4.50v6.89h-4.50z"/>
<path fill="#802a78" d="M195.71 265.74h4.50v2.10h-4.50z"/>
<path fill="#698786" d="M201.03 363.13h4.50v1.52h-4.50z"/>
<path fill="#8750d2" d="M201.03 350.04h4.50v1.71h-4.50z"/>
<path fill="#a74bbb" d="M201.03 346.89h4.50v3.16h-4.50z"/>
<path fill="#6d7962" d="M201.03 342.69h4.50v1.68h-4.50zM206.36 342.74h4.50v1.70h-4.50z"/>
<path fill="#73687f" d="M201.03 341.02h4.50v1.68h-4.50zM206.36 341.04h4.50v1.70h-4.50z"/>
<path fill="#696f69" d="M201.03 338.50h4.50v2.52h-4.50z"/>
<path fill="#618593" d="M201.03 293.35h4.50v6.89h-4.50z"/>
<path fill="#7d2a7a" d="M201.03 263.73h4.50v2.08h-4.50z"/>
<path fill="#688883" d="M206.36 363.07h4.50v1.60h-4.50z"/>
<path fill="#8850d2" d="M206.36 350.06h4.50v1.76h-4.50z"/>
<path fill="#a54dba" d="M206.36 346.99h4.50v3.07h-4.50z"/>
<path fill="#676c67" d="M206.36 344.44h4.50v2.55h-4.50z"/>
<path fill="#6a6f6a" d="M206.36 338.49h4.50v2.55h-4.50z"/>
<path fill="#baa2b4" d="M206.36 335.68h4.50v2.81h-4.50z"/>
<path fill="#939063" d="M206.36 334.51h4.50v1.18h-4.50zM211.68 334.43h4.50v1.23h-4.50z"/>
<path fill="#638595" d="M206.36 293.50h4.50v6.76h-4.50z"/>
<path fill="#7a2b7c" d="M206.36 263.66h4.50v2.02h-4.50z"/>
<path fill="#668880" d="M211.68 363.02h4.50v1.68h-4.50z"/>
<path fill="#8a50d1" d="M211.68 350.07h4.50v1.81h-4.50z"/>
<path fill="#a450b8" d="M211.68 347.09h4.50v2.98h-4.50z"/>
<path fill="#686c68" d="M211.68 344.50h4.50v2.58h-4.50z"/>
<path fill="#6d7862" d="M211.68 342.78h4.50v1.72h-4.50zM217.00 342.57h4.50v1.76h-4.50zM222.33 342.61h4.50v1.78h-4.50z"/>
<path fill="#73687e" d="M211.68 341.06h4.50v1.72h-4.50zM217.00 340.81h4.50v1.76h-4.50zM222.33 340.83h4.50v1.78h-4.50z"/>
<path fill="#6a6e6a" d="M211.68 338.48h4.50v2.58h-4.50z"/>
<path fill="#baa1b3" d="M211.68 335.66h4.50v2.82h-4.50zM217.00 335.30h4.50v2.87h-4.50z"/>
<path fill="#648697" d="M211.68 293.64h4.50v6.63h-4.50z"/>
<path fill="#782c7e" d="M211.68 263.59h4.50v1.97h-4.50z"/>
<path fill="#65897d" d="M217.00 362.92h4.50v1.77h-4.50z"/>
<path fill="#8b50d1" d="M217.00 349.90h4.50v1.88h-4.50z"/>
<path fill="#a252b6" d="M217.00 346.97h4.50v2.93h-4.50z"/>
<path fill="#686b68" d="M217.00 344.33h4.50v2.64h-4.50zM222.33 344.39h4.50v2.67h-4.50z"/>
<path fill="#6b6e6b" d="M217.00 338.17h4.50v2.64h-4.50z"/>
<path fill="#939064" d="M217.00 334.02h4.50v1.29h-4.50zM222.33 333.94h4.50v1.33h-4.50z"/>
<path fill="#658799" d="M217.00 293.03h4.50v6.58h-4.50z"/>
<path fill="#752d80" d="M217.00 262.46h4.50v1.94h-4.50z"/>
<path fill="#63897a" d="M222.33 362.87h4.50v1.85h-4.50zM264.91 362.51h4.50v2.11h-4.50z"/>
<path fill="#8c50d1" d="M222.33 349.91h4.50v1.92h-4.50z"/>
<path fill="#a054b5" d="M222.33 347.06h4.50v2.85h-4.50z"/>
<path fill="#6c6e6c" d="M222.33 338.16h4.50v2.67h-4.50z"/>
<path fill="#b9a1b2" d="M222.33 335.28h4.50v2.88h-4.50z"/>
<path fill="#66889a" d="M222.33 293.16h4.50v6.47h-4.50z"/>
<path fill="#722e82" d="M222.33 262.39h4.50v1.89h-4.50z"/>
<path fill="#628976" d="M227.65 362.76h4.50v1.94h-4.50zM254.27 362.58h4.50v2.09h-4.50z"/>
<path fill="#8d50d1" d="M227.65 349.71h4.50v1.99h-4.50z"/>
<path fill="#9e56b3" d="M227.65 346.90h4.50v2.81h-4.50z"/>
<path fill="#6e7862" d="M227.65 342.35h4.50v1.82h-4.50zM232.97 342.22h4.50v1.85h-4.50zM238.30 342.22h4.50v1.87h-4.50zM243.62 342.19h4.50v1.86h-4.50zM248.94 342.16h4.50v1.85h-4.50zM254.27 342.09h4.50v1.84h-4.50zM259.59 342.10h4.50v1.83h-4.50zM264.91 341.75h4.50v1.84h-4.50zM270.24 341.72h4.50v1.83h-4.50zM275.56 342.28h4.50v1.78h-4.50z"/>
<path fill="#74687e" d="M227.65 340.53h4.50v1.82h-4.50zM232.97 340.37h4.50v1.85h-4.50zM238.30 340.34h4.50v1.87h-4.50zM243.62 340.33h4.50v1.86h-4.50zM248.94 340.31h4.50v1.85h-4.50zM254.27 340.24h4.50v1.84h-4.50zM259.59 340.28h4.50v1.83h-4.50zM264.91 339.91h4.50v1.84h-4.50zM270.24 339.89h4.50v1.83h-4.50zM275.56 340.50h4.50v1.78h-4.50zM280.88 340.48h4.50v1.77h-4.50zM286.21 340.44h4.50v1.76h-4.50zM291.53 339.80h4.50v1.78h-4.50zM296.86 340.01h4.50v1.76h-4.50zM302.18 339.74h4.50v1.76h-4.50zM307.50 339.73h4.50v1.75h-4.50zM312.83 339.71h4.50v1.74h-4.50z"/>
<path fill="#6d6e6d" d="M227.65 337.80h4.50v2.73h-4.50zM232.97 337.60h4.50v2.78h-4.50z"/>
<path fill="#b9a1b1" d="M227.65 334.86h4.50v2.93h-4.50z"/>
<path fill="#929064" d="M227.65 333.47h4.50v1.40h-4.50zM232.97 333.18h4.50v1.45h-4.50zM238.30 333.06h4.50v1.49h-4.50zM243.62 333.06h4.50v1.50h-4.50z"/>
<path fill="#68889c" d="M227.65 292.40h4.50v6.43h-4.50z"/>
<path fill="#6f2e84" d="M227.65 261.08h4.50v1.87h-4.50z"/>
<path fill="#608a73" d="M232.97 362.68h4.50v2.02h-4.50z"/>
<path fill="#8f50d0" d="M232.97 349.60h4.50v2.05h-4.50z"/>
<path fill="#9c58b2" d="M232.97 346.85h4.50v2.75h-4.50z"/>
<path fill="#6a6a6a" d="M232.97 344.07h4.50v2.78h-4.50zM238.30 344.09h4.50v2.81h-4.50zM243.62 344.05h4.50v2.79h-4.50zM248.94 344.01h4.50v2.77h-4.50zM254.27 343.93h4.50v2.76h-4.50z"/>
<path fill="#b8a0b1" d="M232.97 334.63h4.50v2.97h-4.50z"/>
<path fill="#69899e" d="M232.97 292.05h4.50v6.36h-4.50z"/>
<path fill="#6d2f86" d="M232.97 260.34h4.50v1.83h-4.50z"/>
<path fill="#5f8a70" d="M238.30 362.62h4.50v2.09h-4.50z"/>
<path fill="#9050d0" d="M238.30 349.58h4.50v2.09h-4.50z"/>
<path fill="#9a5ab0" d="M238.30 346.89h4.50v2.69h-4.50z"/>
<path fill="#6e6e6e" d="M238.30 337.54h4.50v2.81h-4.50zM243.62 337.54h4.50v2.79h-4.50zM248.94 337.54h4.50v2.77h-4.50zM254.27 337.48h4.50v2.76h-4.50z"/>
<path fill="#b8a0b0" d="M238.30 334.55h4.50v2.99h-4.50zM243.62 334.55h4.50v2.98h-4.50z"/>
<path fill="#6a8aa0" d="M238.30 292.04h4.50v6.27h-4.50z"/>
<path fill="#6a3088" d="M238.30 260.08h4.50v1.79h-4.50z"/>
<path fill="#608a72" d="M243.62 362.61h4.50v2.09h-4.50z"/>
<path fill="#8c53ca" d="M243.62 349.52h4.50v2.09h-4.50z"/>
<path fill="#9b5ab1" d="M243.62 346.84h4.50v2.68h-4.50z"/>
<path fill="#6a8aa1" d="M243.62 292.08h4.50v6.27h-4.50zM248.94 292.11h4.50v6.26h-4.50z"/>
<path fill="#6a3086" d="M243.62 260.09h4.50v1.81h-4.50z"/>
<path fill="#618a74" d="M248.94 362.60h4.50v2.09h-4.50z"/>
<path fill="#8856c5" d="M248.94 349.46h4.50v2.09h-4.50z"/>
<path fill="#9c59b2" d="M248.94 346.78h4.50v2.68h-4.50zM254.27 346.69h4.50v2.67h-4.50z"/>
<path fill="#b8a1b0" d="M248.94 334.56h4.50v2.98h-4.50zM254.27 334.50h4.50v2.98h-4.50zM259.59 334.57h4.50v2.97h-4.50zM264.91 334.15h4.50v3.00h-4.50z"/>
<path fill="#919064" d="M248.94 333.05h4.50v1.50h-4.50zM254.27 332.99h4.50v1.51h-4.50z"/>
<path fill="#6a2f85" d="M248.94 260.09h4.50v1.83h-4.50z"/>
<path fill="#8459bf" d="M254.27 349.36h4.50v2.09h-4.50z"/>
<path fill="#6a89a2" d="M254.27 292.01h4.50v6.26h-4.50z"/>
<path fill="#6a2f83" d="M254.27 259.90h4.50v1.86h-4.50z"/>
<path fill="#628978" d="M259.59 362.58h4.50v2.09h-4.50z"/>
<path fill="#815cb9" d="M259.59 349.33h4.50v2.09h-4.50z"/>
<path fill="#9d59b3" d="M259.59 346.67h4.50v2.66h-4.50z"/>
<path fill="#6a6a69" d="M259.59 343.93h4.50v2.74h-4.50zM264.91 343.59h4.50v2.76h-4.50zM270.24 343.55h4.50v2.74h-4.50zM275.56 344.05h4.50v2.66h-4.50zM280.88 344.01h4.50v2.65h-4.50zM286.21 343.95h4.50v2.63h-4.50zM291.53 343.37h4.50v2.68h-4.50z"/>
<path fill="#6e6e6d" d="M259.59 337.54h4.50v2.74h-4.50zM264.91 337.15h4.50v2.76h-4.50zM270.24 337.15h4.50v2.74h-4.50zM275.56 337.84h4.50v2.66h-4.50zM280.88 337.83h4.50v2.65h-4.50zM286.21 337.81h4.50v2.63h-4.50zM291.53 337.12h4.50v2.68h-4.50z"/>
<path fill="#919065" d="M259.59 333.05h4.50v1.51h-4.50zM264.91 332.61h4.50v1.54h-4.50z"/>
<path fill="#6a89a3" d="M259.59 292.18h4.50v6.25h-4.50zM264.91 291.27h4.50v6.32h-4.50z"/>
<path fill="#6a2f82" d="M259.59 260.10h4.50v1.87h-4.50z"/>
<path fill="#7d5fb3" d="M264.91 349.04h4.50v2.11h-4.50z"/>
<path fill="#9e58b4" d="M264.91 346.35h4.50v2.69h-4.50z"/>
<path fill="#6b2f80" d="M264.91 258.75h4.50v1.92h-4.50z"/>
<path fill="#64897c" d="M270.24 362.50h4.50v2.11h-4.50z"/>
<path fill="#7962ae" d="M270.24 348.98h4.50v2.11h-4.50z"/>
<path fill="#9f58b5" d="M270.24 346.29h4.50v2.68h-4.50z"/>
<path fill="#b8a2b0" d="M270.24 334.16h4.50v3.00h-4.50zM275.56 334.91h4.50v2.92h-4.50zM280.88 334.91h4.50v2.92h-4.50zM286.21 334.89h4.50v2.92h-4.50z"/>
<path fill="#909065" d="M270.24 332.61h4.50v1.54h-4.50zM275.56 333.39h4.50v1.52h-4.50zM280.88 333.39h4.50v1.52h-4.50z"/>
<path fill="#6a89a4" d="M270.24 291.31h4.50v6.31h-4.50z"/>
<path fill="#6b2e7f" d="M270.24 258.76h4.50v1.94h-4.50z"/>
<path fill="#65897e" d="M275.56 362.61h4.50v2.07h-4.50z"/>
<path fill="#7565a8" d="M275.56 349.34h4.50v2.07h-4.50z"/>
<path fill="#9f58b6" d="M275.56 346.72h4.50v2.62h-4.50z"/>
<path fill="#6a89a5" d="M275.56 293.04h4.50v6.17h-4.50z"/>
<path fill="#6b2e7d" d="M275.56 261.18h4.50v1.92h-4.50z"/>
<path fill="#66897f" d="M280.88 362.60h4.50v2.07h-4.50z"/>
<path fill="#7168a2" d="M280.88 349.28h4.50v2.07h-4.50z"/>
<path fill="#a057b7" d="M280.88 346.66h4.50v2.61h-4.50z"/>
<path fill="#6d7863" d="M280.88 342.25h4.50v1.77h-4.50zM286.21 342.20h4.50v1.76h-4.50zM291.53 341.59h4.50v1.78h-4.50zM296.86 341.77h4.50v1.76h-4.50zM302.18 341.51h4.50v1.76h-4.50zM307.50 341.48h4.50v1.75h-4.50zM312.83 341.45h4.50v1.74h-4.50zM318.15 341.42h4.50v1.73h-4.50zM323.47 341.40h4.50v1.72h-4.50zM328.80 341.37h4.50v1.71h-4.50zM334.12 341.44h4.50v1.69h-4.50zM339.44 341.55h4.50v1.67h-4.50zM344.77 341.19h4.50v1.68h-4.50zM350.09 340.93h4.50v1.69h-4.50z"/>
<path fill="#6a88a6" d="M280.88 293.07h4.50v6.16h-4.50zM286.21 293.04h4.50v6.16h-4.50z"/>
<path fill="#6b2e7c" d="M280.88 261.19h4.50v1.94h-4.50z"/>
<path fill="#678881" d="M286.21 362.58h4.50v2.07h-4.50z"/>
<path fill="#6d6b9d" d="M286.21 349.20h4.50v2.07h-4.50z"/>
<path fill="#a157b7" d="M286.21 346.59h4.50v2.61h-4.50z"/>
<path fill="#8f9065" d="M286.21 333.36h4.50v1.53h-4.50zM291.53 332.58h4.50v1.57h-4.50z"/>
<path fill="#6b2e7a" d="M286.21 261.09h4.50v1.96h-4.50z"/>
<path fill="#678883" d="M291.53 362.45h4.50v2.11h-4.50z"/>
<path fill="#696e97" d="M291.53 348.71h4.50v2.11h-4.50z"/>
<path fill="#a257b8" d="M291.53 346.05h4.50v2.66h-4.50z"/>
<path fill="#b8a3b0" d="M291.53 334.15h4.50v2.98h-4.50zM296.86 334.42h4.50v2.95h-4.50zM302.18 334.12h4.50v2.97h-4.50z"/>
<path fill="#6a88a7" d="M291.53 291.38h4.50v6.29h-4.50z"/>
<path fill="#6b2d79" d="M291.53 258.68h4.50v2.02h-4.50z"/>
<path fill="#688885" d="M296.86 362.49h4.50v2.10h-4.50z"/>
<path fill="#667191" d="M296.86 348.80h4.50v2.10h-4.50z"/>
<path fill="#a256b9" d="M296.86 346.17h4.50v2.64h-4.50z"/>
<path fill="#6a6a68" d="M296.86 343.53h4.50v2.64h-4.50zM302.18 343.27h4.50v2.65h-4.50zM307.50 343.23h4.50v2.63h-4.50zM312.83 343.19h4.50v2.61h-4.50z"/>
<path fill="#6e6e6c" d="M296.86 337.37h4.50v2.64h-4.50zM302.18 337.10h4.50v2.65h-4.50zM307.50 337.10h4.50v2.63h-4.50zM312.83 337.10h4.50v2.61h-4.50z"/>
<path fill="#8f9066" d="M296.86 332.86h4.50v1.56h-4.50zM302.18 332.55h4.50v1.58h-4.50z"/>
<path fill="#6a88a8" d="M296.86 292.03h4.50v6.24h-4.50zM302.18 291.39h4.50v6.29h-4.50z"/>
<path fill="#6b2d77" d="M296.86 259.56h4.50v2.03h-4.50z"/>
<path fill="#698887" d="M302.18 362.43h4.50v2.12h-4.50z"/>
<path fill="#62748b" d="M302.18 348.57h4.50v2.12h-4.50z"/>
<path fill="#a356ba" d="M302.18 345.92h4.50v2.65h-4.50z"/>
<path fill="#6b2d76" d="M302.18 258.59h4.50v2.06h-4.50z"/>
<path fill="#6a8889" d="M307.50 362.42h4.50v2.12h-4.50z"/>
<path fill="#5e7786" d="M307.50 348.51h4.50v2.12h-4.50z"/>
<path fill="#a456bb" d="M307.50 345.86h4.50v2.65h-4.50z"/>
<path fill="#b8a4b0" d="M307.50 334.13h4.50v2.97h-4.50zM312.83 334.13h4.50v2.96h-4.50zM318.15 334.14h4.50v2.96h-4.50zM323.47 334.14h4.50v2.95h-4.50z"/>
<path fill="#8e9066" d="M307.50 332.54h4.50v1.58h-4.50zM312.83 332.54h4.50v1.59h-4.50zM318.15 332.54h4.50v1.60h-4.50zM323.47 332.54h4.50v1.60h-4.50z"/>
<path fill="#6a87a9" d="M307.50 291.42h4.50v6.28h-4.50z"/>
<path fill="#6b2c74" d="M307.50 258.60h4.50v2.08h-4.50z"/>
<path fill="#6b888b" d="M312.83 362.41h4.50v2.12h-4.50z"/>
<path fill="#5a7a80" d="M312.83 348.45h4.50v2.12h-4.50z"/>
<path fill="#a555bc" d="M312.83 345.81h4.50v2.64h-4.50zM318.15 345.75h4.50v2.63h-4.50z"/>
<path fill="#6a87aa" d="M312.83 291.46h4.50v6.27h-4.50zM318.15 291.49h4.50v6.27h-4.50z"/>
<path fill="#6b2c73" d="M312.83 258.60h4.50v2.10h-4.50z"/>
<path fill="#6c878d" d="M318.15 362.40h4.50v2.11h-4.50z"/>
<path fill="#5a7884" d="M318.15 348.39h4.50v2.11h-4.50z"/>
<path fill="#6a6b68" d="M318.15 343.16h4.50v2.60h-4.50zM323.47 343.12h4.50v2.58h-4.50zM328.80 343.08h4.50v2.56h-4.50zM334.12 343.13h4.50v2.54h-4.50z"/>
<path fill="#74697f" d="M318.15 339.69h4.50v1.73h-4.50zM323.47 339.68h4.50v1.72h-4.50zM328.80 339.66h4.50v1.71h-4.50zM334.12 339.74h4.50v1.69h-4.50zM339.44 339.88h4.50v1.67h-4.50zM344.77 339.51h4.50v1.68h-4.50zM350.09 339.24h4.50v1.69h-4.50zM355.41 339.23h4.50v1.68h-4.50zM360.74 339.26h4.50v1.66h-4.50zM366.06 338.92h4.50v1.67h-4.50zM371.38 338.90h4.50v1.66h-4.50zM376.71 339.06h4.50v1.64h-4.50zM382.03 339.04h4.50v1.63h-4.50zM387.35 339.03h4.50v1.62h-4.50zM392.68 339.01h4.50v1.60h-4.50zM398.00 338.99h4.50v1.59h-4.50zM403.33 338.98h4.50v1.58h-4.50zM408.65 339.44h4.50v1.55h-4.50zM413.97 339.15h4.50v1.55h-4.50zM419.30 339.13h4.50v1.54h-4.50zM424.62 339.11h4.50v1.53h-4.50zM429.94 339.10h4.50v1.52h-4.50zM435.27 339.08h4.50v1.51h-4.50zM440.59 338.61h4.50v1.52h-4.50zM445.91 338.52h4.50v1.51h-4.50zM451.24 338.50h4.50v1.50h-4.50zM456.56 338.76h4.50v1.48h-4.50zM461.88 338.59h4.50v1.48h-4.50zM467.21 338.58h4.50v1.47h-4.50z"/>
<path fill="#6e6f6c" d="M318.15 337.10h4.50v2.60h-4.50zM323.47 337.10h4.50v2.58h-4.50zM328.80 337.10h4.50v2.56h-4.50zM334.12 337.20h4.50v2.54h-4.50z"/>
<path fill="#6c2c71" d="M318.15 258.61h4.50v2.13h-4.50z"/>
<path fill="#6d878f" d="M323.47 362.39h4.50v2.11h-4.50z"/>
<path fill="#5b7789" d="M323.47 348.33h4.50v2.11h-4.50z"/>
<path fill="#a654bd" d="M323.47 345.70h4.50v2.63h-4.50z"/>
<path fill="#6a87ab" d="M323.47 291.53h4.50v6.26h-4.50z"/>
<path fill="#6c2c70" d="M323.47 258.61h4.50v2.15h-4.50z"/>
<path fill="#6d8791" d="M328.80 362.38h4.50v2.11h-4.50z"/>
<path fill="#5b758d" d="M328.80 348.27h4.50v2.11h-4.50z"/>
<path fill="#a754be" d="M328.80 345.64h4.50v2.62h-4.50z"/>
<path fill="#b8a5b0" d="M328.80 334.15h4.50v2.95h-4.50zM334.12 334.27h4.50v2.93h-4.50zM339.44 334.45h4.50v2.91h-4.50z"/>
<path fill="#8d9066" d="M328.80 332.54h4.50v1.61h-4.50z"/>
<path fill="#6a86ac" d="M328.80 291.57h4.50v6.25h-4.50zM334.12 291.87h4.50v6.23h-4.50z"/>
<path fill="#6c2b6e" d="M328.80 258.62h4.50v2.17h-4.50z"/>
<path fill="#6e8793" d="M334.12 362.39h4.50v2.11h-4.50z"/>
<path fill="#5c7391" d="M334.12 348.27h4.50v2.11h-4.50z"/>
<path fill="#a854bf" d="M334.12 345.67h4.50v2.61h-4.50z"/>
<path fill="#8d9067" d="M334.12 332.67h4.50v1.61h-4.50zM339.44 332.85h4.50v1.60h-4.50z"/>
<path fill="#6c2b6d" d="M334.12 259.01h4.50v2.18h-4.50z"/>
<path fill="#6f8795" d="M339.44 362.41h4.50v2.09h-4.50z"/>
<path fill="#5c7195" d="M339.44 348.32h4.50v2.09h-4.50z"/>
<path fill="#a853c0" d="M339.44 345.73h4.50v2.59h-4.50z"/>
<path fill="#6a6b67" d="M339.44 343.22h4.50v2.51h-4.50zM344.77 342.87h4.50v2.52h-4.50zM350.09 342.61h4.50v2.53h-4.50zM355.41 342.58h4.50v2.51h-4.50zM360.74 342.58h4.50v2.49h-4.50zM366.06 342.25h4.50v2.50h-4.50zM371.38 342.22h4.50v2.49h-4.50z"/>
<path fill="#6e6f6b" d="M339.44 337.37h4.50v2.51h-4.50zM344.77 336.99h4.50v2.52h-4.50zM350.09 336.71h4.50v2.53h-4.50zM355.41 336.71h4.50v2.51h-4.50zM360.74 336.77h4.50v2.49h-4.50zM366.06 336.41h4.50v2.50h-4.50zM371.38 336.41h4.50v2.49h-4.50z"/>
<path fill="#6a86ad" d="M339.44 292.31h4.50v6.19h-4.50z"/>
<path fill="#6c2b6b" d="M339.44 259.59h4.50v2.19h-4.50z"/>
<path fill="#708797" d="M344.77 362.33h4.50v2.12h-4.50z"/>
<path fill="#5c709a" d="M344.77 348.01h4.50v2.12h-4.50z"/>
<path fill="#a953c1" d="M344.77 345.40h4.50v2.61h-4.50z"/>
<path fill="#b8a6b0" d="M344.77 334.04h4.50v2.95h-4.50zM350.09 333.75h4.50v2.97h-4.50zM355.41 333.75h4.50v2.96h-4.50zM360.74 333.81h4.50v2.95h-4.50z"/>
<path fill="#8c9067" d="M344.77 332.41h4.50v1.63h-4.50zM350.09 332.10h4.50v1.65h-4.50zM355.41 332.10h4.50v1.65h-4.50zM360.74 332.16h4.50v1.65h-4.50z"/>
<path fill="#6a86ae" d="M344.77 291.40h4.50v6.26h-4.50zM350.09 290.76h4.50v6.31h-4.50z"/>
<path fill="#6c2a6a" d="M344.77 258.25h4.50v2.23h-4.50z"/>
<path fill="#718699" d="M350.09 362.27h4.50v2.14h-4.50z"/>
<path fill="#5d6e9e" d="M350.09 347.78h4.50v2.14h-4.50z"/>
<path fill="#aa53c1" d="M350.09 345.14h4.50v2.63h-4.50z"/>
<path fill="#6c2a68" d="M350.09 257.29h4.50v2.27h-4.50z"/>
<path fill="#72869a" d="M355.41 362.26h4.50v2.14h-4.50z"/>
<path fill="#5d6ca2" d="M355.41 347.71h4.50v2.14h-4.50z"/>
<path fill="#ab52c2" d="M355.41 345.09h4.50v2.62h-4.50z"/>
<path fill="#6c7864" d="M355.41 340.90h4.50v1.68h-4.50zM360.74 340.92h4.50v1.66h-4.50zM366.06 340.59h4.50v1.67h-4.50zM371.38 340.56h4.50v1.66h-4.50zM376.71 340.70h4.50v1.64h-4.50zM382.03 340.67h4.50v1.63h-4.50zM387.35 340.64h4.50v1.62h-4.50zM392.68 340.61h4.50v1.60h-4.50zM398.00 340.59h4.50v1.59h-4.50zM403.33 340.56h4.50v1.58h-4.50zM408.65 340.99h4.50v1.55h-4.50zM413.97 340.70h4.50v1.55h-4.50zM419.30 340.67h4.50v1.54h-4.50zM424.62 340.64h4.50v1.53h-4.50zM429.94 340.62h4.50v1.52h-4.50z"/>
<path fill="#6a85af" d="M355.41 290.80h4.50v6.30h-4.50z"/>
<path fill="#6c2a67" d="M355.41 257.29h4.50v2.29h-4.50z"/>
<path fill="#72869c" d="M360.74 362.26h4.50v2.13h-4.50z"/>
<path fill="#5e6aa6" d="M360.74 347.69h4.50v2.13h-4.50z"/>
<path fill="#ab52c3" d="M360.74 345.07h4.50v2.61h-4.50z"/>
<path fill="#6a85b0" d="M360.74 290.97h4.50v6.28h-4.50z"/>
<path fill="#6c2a65" d="M360.74 257.49h4.50v2.31h-4.50z"/>
<path fill="#73869e" d="M366.06 362.18h4.50v2.16h-4.50z"/>
<path fill="#5e69ab" d="M366.06 347.40h4.50v2.16h-4.50z"/>
<path fill="#ac52c4" d="M366.06 344.76h4.50v2.64h-4.50z"/>
<path fill="#b8a7b0" d="M366.06 333.43h4.50v2.98h-4.50zM371.38 333.43h4.50v2.98h-4.50zM376.71 333.65h4.50v2.95h-4.50zM382.03 333.65h4.50v2.95h-4.50z"/>
<path fill="#8b9067" d="M366.06 331.75h4.50v1.68h-4.50zM371.38 331.75h4.50v1.68h-4.50z"/>
<path fill="#6a85b1" d="M366.06 290.13h4.50v6.35h-4.50zM371.38 290.17h4.50v6.34h-4.50z"/>
<path fill="#6c2964" d="M366.06 256.24h4.50v2.36h-4.50z"/>
<path fill="#7486a0" d="M371.38 362.17h4.50v2.16h-4.50z"/>
<path fill="#5e67af" d="M371.38 347.33h4.50v2.16h-4.50z"/>
<path fill="#ad51c5" d="M371.38 344.70h4.50v2.63h-4.50z"/>
<path fill="#6d2962" d="M371.38 256.24h4.50v2.38h-4.50z"/>
<path fill="#7586a2" d="M376.71 362.20h4.50v2.14h-4.50z"/>
<path fill="#5f65b3" d="M376.71 347.40h4.50v2.14h-4.50z"/>
<path fill="#ae51c6" d="M376.71 344.79h4.50v2.61h-4.50zM382.03 344.73h4.50v2.60h-4.50z"/>
<path fill="#6a6b66" d="M376.71 342.33h4.50v2.46h-4.50zM382.03 342.29h4.50v2.44h-4.50zM387.35 342.26h4.50v2.42h-4.50zM392.68 342.22h4.50v2.41h-4.50zM398.00 342.18h4.50v2.39h-4.50zM403.33 342.14h4.50v2.37h-4.50zM408.65 342.53h4.50v2.32h-4.50z"/>
<path fill="#6e6f6a" d="M376.71 336.60h4.50v2.46h-4.50zM382.03 336.60h4.50v2.44h-4.50zM387.35 336.60h4.50v2.42h-4.50zM392.68 336.60h4.50v2.41h-4.50zM398.00 336.60h4.50v2.39h-4.50zM403.33 336.60h4.50v2.37h-4.50zM408.65 337.12h4.50v2.32h-4.50z"/>
<path fill="#8b9068" d="M376.71 331.97h4.50v1.68h-4.50zM382.03 331.97h4.50v1.68h-4.50z"/>
<path fill="#6a85b2" d="M376.71 290.67h4.50v6.30h-4.50z"/>
<path fill="#6d2961" d="M376.71 256.92h4.50v2.38h-4.50z"/>
<path fill="#7685a4" d="M382.03 362.19h4.50v2.14h-4.50z"/>
<path fill="#5f63b7" d="M382.03 347.34h4.50v2.14h-4.50z"/>
<path fill="#6a84b3" d="M382.03 290.71h4.50v6.29h-4.50zM387.35 290.74h4.50v6.29h-4.50z"/>
<path fill="#6d295f" d="M382.03 256.93h4.50v2.40h-4.50z"/>
<path fill="#7785a6" d="M387.35 362.18h4.50v2.14h-4.50z"/>
<path fill="#6062bc" d="M387.35 347.28h4.50v2.14h-4.50z"/>
<path fill="#af50c7" d="M387.35 344.68h4.50v2.60h-4.50z"/>
<path fill="#b8a8b0" d="M387.35 333.66h4.50v2.95h-4.50zM392.68 333.66h4.50v2.94h-4.50z"/>
<path fill="#8a9068" d="M387.35 331.97h4.50v1.69h-4.50zM392.68 331.97h4.50v1.69h-4.50z"/>
<path fill="#6d285e" d="M387.35 256.93h4.50v2.42h-4.50z"/>
<path fill="#7885a8" d="M392.68 362.17h4.50v2.14h-4.50z"/>
<path fill="#6060c0" d="M392.68 347.22h4.50v2.14h-4.50z"/>
<path fill="#b050c8" d="M392.68 344.63h4.50v2.59h-4.50z"/>
<path fill="#6a84b4" d="M392.68 290.78h4.50v6.28h-4.50z"/>
<path fill="#6d285c" d="M392.68 256.94h4.50v2.44h-4.50z"/>
<path fill="#7885aa" d="M398.00 362.16h4.50v2.14h-4.50z"/>
<path fill="#5f5fc1" d="M398.00 347.16h4.50v2.14h-4.50z"/>
<path fill="#b14fc8" d="M398.00 344.57h4.50v2.59h-4.50z"/>
<path fill="#b8a8b1" d="M398.00 333.67h4.50v2.94h-4.50z"/>
<path fill="#899069" d="M398.00 331.97h4.50v1.70h-4.50z"/>
<path fill="#6a84b5" d="M398.00 290.81h4.50v6.27h-4.50zM403.33 290.85h4.50v6.27h-4.50z"/>
<path fill="#6d285a" d="M398.00 256.94h4.50v2.46h-4.50z"/>
<path fill="#7985ac" d="M403.33 362.15h4.50v2.14h-4.50z"/>
<path fill="#5f5fc2" d="M403.33 347.10h4.50v2.14h-4.50z"/>
<path fill="#b24fc9" d="M403.33 344.52h4.50v2.58h-4.50z"/>
<path fill="#b9a8b1" d="M403.33 333.67h4.50v2.93h-4.50z"/>
<path fill="#889169" d="M403.33 331.96h4.50v1.70h-4.50z"/>
<path fill="#6d2759" d="M403.33 256.95h4.50v2.48h-4.50z"/>
<path fill="#7a84ae" d="M408.65 362.24h4.50v2.11h-4.50z"/>
<path fill="#5e5ec2" d="M408.65 347.38h4.50v2.11h-4.50z"/>
<path fill="#b34ec9" d="M408.65 344.85h4.50v2.53h-4.50z"/>
<path fill="#b9a8b2" d="M408.65 334.24h4.50v2.88h-4.50z"/>
<path fill="#87916a" d="M408.65 332.56h4.50v1.68h-4.50z"/>
<path fill="#6a84b6" d="M408.65 292.16h4.50v6.16h-4.50z"/>
<path fill="#6d2757" d="M408.65 258.79h4.50v2.46h-4.50z"/>
<path fill="#7b84b0" d="M413.97 362.17h4.50v2.13h-4.50z"/>
<path fill="#5e5ec3" d="M413.97 347.12h4.50v2.13h-4.50z"/>
<path fill="#b44ec9" d="M413.97 344.57h4.50v2.55h-4.50z"/>
<path fill="#6a6b65" d="M413.97 342.25h4.50v2.33h-4.50zM419.30 342.21h4.50v2.31h-4.50zM424.62 342.17h4.50v2.29h-4.50zM429.94 342.13h4.50v2.28h-4.50zM435.27 342.10h4.50v2.26h-4.50zM440.59 341.65h4.50v2.28h-4.50zM445.91 341.54h4.50v2.27h-4.50z"/>
<path fill="#6e6f69" d="M413.97 336.82h4.50v2.33h-4.50zM419.30 336.82h4.50v2.31h-4.50zM424.62 336.82h4.50v2.29h-4.50zM429.94 336.82h4.50v2.28h-4.50zM435.27 336.82h4.50v2.26h-4.50zM440.59 336.33h4.50v2.28h-4.50zM445.91 336.24h4.50v2.27h-4.50z"/>
<path fill="#baa8b3" d="M413.97 333.92h4.50v2.90h-4.50zM419.30 333.92h4.50v2.90h-4.50z"/>
<path fill="#86916a" d="M413.97 332.21h4.50v1.70h-4.50z"/>
<path fill="#6a83b7" d="M413.97 291.45h4.50v6.21h-4.50zM419.30 291.49h4.50v6.21h-4.50z"/>
<path fill="#6d2756" d="M413.97 257.73h4.50v2.50h-4.50z"/>
<path fill="#7c84b2" d="M419.30 362.16h4.50v2.13h-4.50z"/>
<path fill="#5d5dc4" d="M419.30 347.06h4.50v2.13h-4.50z"/>
<path fill="#b64dc9" d="M419.30 344.52h4.50v2.54h-4.50z"/>
<path fill="#84926b" d="M419.30 332.21h4.50v1.71h-4.50z"/>
<path fill="#6e2754" d="M419.30 257.73h4.50v2.52h-4.50z"/>
<path fill="#7d84b4" d="M424.62 362.15h4.50v2.13h-4.50z"/>
<path fill="#5d5dc5" d="M424.62 347.00h4.50v2.13h-4.50z"/>
<path fill="#b74dca" d="M424.62 344.47h4.50v2.54h-4.50z"/>
<path fill="#baa8b4" d="M424.62 333.93h4.50v2.89h-4.50z"/>
<path fill="#83926b" d="M424.62 332.21h4.50v1.71h-4.50z"/>
<path fill="#6a83b8" d="M424.62 291.52h4.50v6.20h-4.50z"/>
<path fill="#6e2653" d="M424.62 257.74h4.50v2.54h-4.50z"/>
<path fill="#7d84b6" d="M429.94 362.14h4.50v2.13h-4.50z"/>
<path fill="#5c5cc6" d="M429.94 346.94h4.50v2.13h-4.50z"/>
<path fill="#b84cca" d="M429.94 344.41h4.50v2.53h-4.50z"/>
<path fill="#bba8b5" d="M429.94 333.93h4.50v2.89h-4.50z"/>
<path fill="#82926c" d="M429.94 332.21h4.50v1.72h-4.50z"/>
<path fill="#6a83b9" d="M429.94 291.56h4.50v6.19h-4.50z"/>
<path fill="#6e2651" d="M429.94 257.74h4.50v2.56h-4.50z"/>
<path fill="#7e84b7" d="M435.27 362.13h4.50v2.13h-4.50z"/>
<path fill="#5c5cc7" d="M435.27 346.89h4.50v2.13h-4.50z"/>
<path fill="#b94cca" d="M435.27 344.36h4.50v2.53h-4.50z"/>
<path fill="#6b7865" d="M435.27 340.59h4.50v1.51h-4.50zM440.59 340.13h4.50v1.52h-4.50zM445.91 340.03h4.50v1.51h-4.50zM451.24 340.00h4.50v1.50h-4.50zM456.56 340.24h4.50v1.48h-4.50zM461.88 340.07h4.50v1.48h-4.50zM467.21 340.04h4.50v1.47h-4.50zM472.53 340.02h4.50v1.45h-4.50zM477.85 340.28h4.50v1.43h-4.50zM483.18 340.30h4.50v1.42h-4.50zM488.50 340.01h4.50v1.42h-4.50zM493.82 340.86h4.50v1.36h-4.50zM499.15 340.39h4.50v1.38h-4.50zM504.47 340.43h4.50v1.36h-4.50z"/>
<path fill="#bba8b6" d="M435.27 333.93h4.50v2.88h-4.50z"/>
<path fill="#81936c" d="M435.27 332.21h4.50v1.72h-4.50z"/>
<path fill="#6a83ba" d="M435.27 291.59h4.50v6.19h-4.50zM440.59 290.42h4.50v6.28h-4.50z"/>
<path fill="#6e2650" d="M435.27 257.75h4.50v2.58h-4.50z"/>
<path fill="#7f83b9" d="M440.59 362.03h4.50v2.16h-4.50z"/>
<path fill="#5b5bc7" d="M440.59 346.49h4.50v2.16h-4.50z"/>
<path fill="#ba4bca" d="M440.59 343.93h4.50v2.56h-4.50z"/>
<path fill="#bca8b6" d="M440.59 333.40h4.50v2.92h-4.50z"/>
<path fill="#80936d" d="M440.59 331.65h4.50v1.76h-4.50z"/>
<path fill="#6e264e" d="M440.59 256.01h4.50v2.64h-4.50z"/>
<path fill="#8083bb" d="M445.91 362.01h4.50v2.16h-4.50z"/>
<path fill="#5a5ac8" d="M445.91 346.38h4.50v2.16h-4.50z"/>
<path fill="#bb4acb" d="M445.91 343.82h4.50v2.56h-4.50z"/>
<path fill="#bca8b7" d="M445.91 333.32h4.50v2.93h-4.50z"/>
<path fill="#7f936e" d="M445.91 331.55h4.50v1.77h-4.50z"/>
<path fill="#6a83bb" d="M445.91 290.26h4.50v6.29h-4.50z"/>
<path fill="#6e254d" d="M445.91 255.73h4.50v2.67h-4.50z"/>
<path fill="#8183bd" d="M451.24 362.00h4.50v2.16h-4.50z"/>
<path fill="#5a5ac9" d="M451.24 346.32h4.50v2.16h-4.50z"/>
<path fill="#bc4acb" d="M451.24 343.76h4.50v2.56h-4.50z"/>
<path fill="#6a6b64" d="M451.24 341.51h4.50v2.26h-4.50zM456.56 341.72h4.50v2.22h-4.50zM461.88 341.55h4.50v2.21h-4.50zM467.21 341.51h4.50v2.20h-4.50z"/>
<path fill="#6e6f68" d="M451.24 336.24h4.50v2.26h-4.50zM456.56 336.54h4.50v2.22h-4.50zM461.88 336.38h4.50v2.21h-4.50zM467.21 336.38h4.50v2.20h-4.50z"/>
<path fill="#bda8b8" d="M451.24 333.32h4.50v2.92h-4.50zM456.56 333.65h4.50v2.89h-4.50z"/>
<path fill="#7e946e" d="M451.24 331.55h4.50v1.77h-4.50z"/>
<path fill="#6a82bc" d="M451.24 290.29h4.50v6.28h-4.50zM456.56 291.06h4.50v6.22h-4.50z"/>
<path fill="#6e254b" d="M451.24 255.73h4.50v2.69h-4.50z"/>
<path fill="#8283bf" d="M456.56 362.04h4.50v2.14h-4.50z"/>
<path fill="#5959ca" d="M456.56 346.46h4.50v2.14h-4.50z"/>
<path fill="#bd49cb" d="M456.56 343.94h4.50v2.53h-4.50z"/>
<path fill="#7d946f" d="M456.56 331.89h4.50v1.76h-4.50z"/>
<path fill="#6e254a" d="M456.56 256.80h4.50v2.68h-4.50z"/>
<path fill="#8283c1" d="M461.88 362.00h4.50v2.15h-4.50z"/>
<path fill="#5959cb" d="M461.88 346.29h4.50v2.15h-4.50z"/>
<path fill="#be49cc" d="M461.88 343.76h4.50v2.53h-4.50z"/>
<path fill="#bda8b9" d="M461.88 333.48h4.50v2.90h-4.50z"/>
<path fill="#7c946f" d="M461.88 331.70h4.50v1.77h-4.50z"/>
<path fill="#6a82bd" d="M461.88 290.70h4.50v6.24h-4.50z"/>
<path fill="#6e2448" d="M461.88 256.23h4.50v2.72h-4.50z"/>
<path fill="#8383c3" d="M467.21 361.99h4.50v2.15h-4.50z"/>
<path fill="#5858cc" d="M467.21 346.23h4.50v2.15h-4.50zM472.53 346.17h4.50v2.15h-4.50z"/>
<path fill="#bf48cc" d="M467.21 343.71h4.50v2.53h-4.50z"/>
<path fill="#bea8ba" d="M467.21 333.48h4.50v2.90h-4.50zM472.53 333.49h4.50v2.89h-4.50z"/>
<path fill="#7b9570" d="M467.21 331.70h4.50v1.78h-4.50z"/>
<path fill="#6a82be" d="M467.21 290.73h4.50v6.24h-4.50zM472.53 290.77h4.50v6.23h-4.50z"/>
<path fill="#6e2447" d="M467.21 256.23h4.50v2.74h-4.50z"/>
<path fill="#8482c5" d="M472.53 361.98h4.50v2.15h-4.50z"/>
<path fill="#c148cc" d="M472.53 343.65h4.50v2.52h-4.50z"/>
<path fill="#6a6c64" d="M472.53 341.47h4.50v2.18h-4.50zM477.85 341.71h4.50v2.14h-4.50zM483.18 341.72h4.50v2.12h-4.50zM488.50 341.43h4.50v2.13h-4.50z"/>
<path fill="#746a80" d="M472.53 338.56h4.50v1.45h-4.50zM477.85 338.85h4.50v1.43h-4.50zM483.18 338.89h4.50v1.42h-4.50zM488.50 338.59h4.50v1.42h-4.50zM493.82 339.49h4.50v1.36h-4.50zM499.15 339.02h4.50v1.38h-4.50zM504.47 339.06h4.50v1.36h-4.50zM509.80 339.11h4.50v1.35h-4.50zM515.12 338.65h4.50v1.36h-4.50zM520.44 338.24h4.50v1.37h-4.50zM525.77 337.97h4.50v1.37h-4.50zM531.09 338.13h4.50v1.35h-4.50zM536.41 337.94h4.50v1.35h-4.50zM541.74 338.10h4.50v1.33h-4.50zM547.06 338.25h4.50v1.31h-4.50zM552.38 337.78h4.50v1.35h-4.50zM557.71 337.46h4.50v1.38h-4.50zM563.03 336.99h4.50v1.42h-4.50zM568.35 337.06h4.50v1.44h-4.50zM573.68 337.08h4.50v1.45h-4.50zM579.00 337.08h4.50v1.47h-4.50z"/>
<path fill="#6e7068" d="M472.53 336.38h4.50v2.18h-4.50zM477.85 336.71h4.50v2.14h-4.50zM483.18 336.76h4.50v2.12h-4.50zM488.50 336.46h4.50v2.13h-4.50z"/>
<path fill="#799570" d="M472.53 331.70h4.50v1.78h-4.50z"/>
<path fill="#6f2445" d="M472.53 256.24h4.50v2.76h-4.50z"/>
<path fill="#8582c7" d="M477.85 362.04h4.50v2.13h-4.50z"/>
<path fill="#5757cd" d="M477.85 346.34h4.50v2.13h-4.50z"/>
<path fill="#c247cc" d="M477.85 343.85h4.50v2.49h-4.50z"/>
<path fill="#bfa8bb" d="M477.85 333.85h4.50v2.86h-4.50z"/>
<path fill="#789671" d="M477.85 332.08h4.50v1.77h-4.50z"/>
<path fill="#6a82bf" d="M477.85 291.60h4.50v6.16h-4.50z"/>
<path fill="#6f2444" d="M477.85 257.40h4.50v2.75h-4.50z"/>
<path fill="#8682c9" d="M483.18 362.04h4.50v2.13h-4.50z"/>
<path fill="#5757ce" d="M483.18 346.32h4.50v2.13h-4.50z"/>
<path fill="#c347cd" d="M483.18 343.84h4.50v2.48h-4.50z"/>
<path fill="#bfa8bc" d="M483.18 333.91h4.50v2.85h-4.50zM488.50 333.59h4.50v2.87h-4.50z"/>
<path fill="#779671" d="M483.18 332.14h4.50v1.77h-4.50z"/>
<path fill="#6a82c0" d="M483.18 291.77h4.50v6.14h-4.50zM488.50 291.07h4.50v6.20h-4.50z"/>
<path fill="#6f2342" d="M483.18 257.60h4.50v2.76h-4.50z"/>
<path fill="#8782cb" d="M488.50 361.97h4.50v2.15h-4.50z"/>
<path fill="#5656cf" d="M488.50 346.05h4.50v2.15h-4.50z"/>
<path fill="#c446cd" d="M488.50 343.56h4.50v2.50h-4.50z"/>
<path fill="#769672" d="M488.50 331.79h4.50v1.79h-4.50z"/>
<path fill="#6f2341" d="M488.50 256.54h4.50v2.81h-4.50z"/>
<path fill="#8882cd" d="M493.82 362.15h4.50v2.08h-4.50z"/>
<path fill="#5656d0" d="M493.82 346.68h4.50v2.08h-4.50z"/>
<path fill="#c546cd" d="M493.82 344.27h4.50v2.41h-4.50z"/>
<path fill="#6a6c63" d="M493.82 342.22h4.50v2.05h-4.50zM499.15 341.77h4.50v2.06h-4.50zM504.47 341.79h4.50v2.04h-4.50zM509.80 341.81h4.50v2.02h-4.50zM515.12 341.37h4.50v2.04h-4.50zM520.44 340.97h4.50v2.05h-4.50zM525.77 340.71h4.50v2.05h-4.50z"/>
<path fill="#6e7067" d="M493.82 337.44h4.50v2.05h-4.50zM499.15 336.95h4.50v2.06h-4.50zM504.47 337.02h4.50v2.04h-4.50zM509.80 337.08h4.50v2.02h-4.50zM515.12 336.60h4.50v2.04h-4.50zM520.44 336.18h4.50v2.05h-4.50zM525.77 335.91h4.50v2.05h-4.50z"/>
<path fill="#c0a8bd" d="M493.82 334.67h4.50v2.78h-4.50z"/>
<path fill="#759772" d="M493.82 332.92h4.50v1.74h-4.50z"/>
<path fill="#6a81c1" d="M493.82 293.50h4.50v6.00h-4.50z"/>
<path fill="#6f233f" d="M493.82 260.02h4.50v2.74h-4.50z"/>
<path fill="#8882cf" d="M499.15 362.05h4.50v2.11h-4.50z"/>
<path fill="#5555d1" d="M499.15 346.28h4.50v2.11h-4.50z"/>
<path fill="#c645ce" d="M499.15 343.83h4.50v2.45h-4.50z"/>
<path fill="#c0a8be" d="M499.15 334.13h4.50v2.82h-4.50z"/>
<path fill="#749773" d="M499.15 332.36h4.50v1.78h-4.50z"/>
<path fill="#6a81c2" d="M499.15 292.33h4.50v6.09h-4.50zM504.47 292.29h4.50v6.07h-4.50z"/>
<path fill="#6f223e" d="M499.15 258.28h4.50v2.80h-4.50z"/>
<path fill="#8981d1" d="M504.47 362.05h4.50v2.11h-4.50z"/>
<path fill="#5454d1" d="M504.47 346.27h4.50v2.11h-4.50z"/>
<path fill="#c744ce" d="M504.47 343.83h4.50v2.44h-4.50z"/>
<path fill="#c1a8be" d="M504.47 334.21h4.50v2.81h-4.50z"/>
<path fill="#739774" d="M504.47 332.43h4.50v1.78h-4.50z"/>
<path fill="#3278c4" d="M504.47 302.92h4.50v0.24h-4.50zM509.80 302.83h4.50v0.48h-4.50zM515.12 301.59h4.50v0.73h-4.50zM520.44 300.47h4.50v0.99h-4.50zM525.77 299.11h4.50v1.79h-4.50zM531.09 298.74h4.50v2.57h-4.50zM536.41 297.56h4.50v3.37h-4.50zM541.74 297.19h4.50v4.14h-4.50zM547.06 296.83h4.50v4.89h-4.50zM552.38 295.77h4.50v4.94h-4.50zM557.71 295.07h4.50v4.96h-4.50zM563.03 294.02h4.50v5.00h-4.50zM568.35 294.26h4.50v4.96h-4.50zM573.68 294.38h4.50v4.93h-4.50zM579.00 294.43h4.50v4.90h-4.50zM584.32 294.66h4.50v4.85h-4.50zM589.65 294.43h4.50v4.84h-4.50zM594.97 294.13h4.50v4.84h-4.50zM600.29 293.22h4.50v4.87h-4.50zM605.62 292.49h4.50v4.88h-4.50zM610.94 292.43h4.50v4.86h-4.50zM616.27 292.66h4.50v4.81h-4.50zM621.59 292.89h4.50v4.77h-4.50zM626.91 294.91h4.50v4.61h-4.50zM632.24 293.52h4.50v4.67h-4.50zM637.56 293.65h4.50v4.64h-4.50zM642.88 292.27h4.50v4.69h-4.50zM648.21 291.67h4.50v4.70h-4.50zM653.53 291.90h4.50v4.73h-4.50zM658.85 292.14h4.50v4.76h-4.50zM664.18 290.85h4.50v4.88h-4.50zM669.50 290.34h4.50v4.96h-4.50zM674.82 291.44h4.50v4.93h-4.50zM680.15 291.53h4.50v4.96h-4.50zM685.47 290.20h4.50v5.09h-4.50zM690.79 290.30h4.50v5.13h-4.50zM696.12 290.44h4.50v5.16h-4.50zM701.44 291.74h4.50v5.12h-4.50zM706.76 291.77h4.50v5.16h-4.50zM712.09 291.94h4.50v5.19h-4.50zM717.41 292.10h4.50v5.22h-4.50zM722.74 291.06h4.50v5.33h-4.50zM728.06 291.70h4.50v5.36h-4.50zM733.38 292.34h4.50v5.39h-4.50zM738.71 289.03h4.50v11.39h-4.50zM744.03 287.59h4.50v11.63h-4.50zM749.35 286.71h4.50v11.79h-4.50zM754.68 286.10h4.50v11.91h-4.50zM760.00 285.17h4.50v12.08h-4.50zM765.32 285.41h4.50v12.06h-4.50zM770.65 285.64h4.50v12.05h-4.50zM775.97 283.34h4.50v12.41h-4.50zM781.29 278.88h4.50v13.48h-4.50zM786.62 278.15h4.50v13.55h-4.50zM791.94 277.85h4.50v13.55h-4.50zM797.26 277.39h4.50v13.58h-4.50zM802.59 277.68h4.50v13.50h-4.50zM807.91 277.96h4.50v13.41h-4.50z"/>
<path fill="#6f223c" d="M504.47 258.28h4.50v2.81h-4.50z"/>
<path fill="#8a81d2" d="M509.80 362.05h4.50v2.10h-4.50z"/>
<path fill="#5454d2" d="M509.80 346.26h4.50v2.10h-4.50z"/>
<path fill="#c844ce" d="M509.80 343.83h4.50v2.42h-4.50z"/>
<path fill="#6a7866" d="M509.80 340.46h4.50v1.35h-4.50zM515.12 340.01h4.50v1.36h-4.50zM520.44 339.60h4.50v1.37h-4.50zM525.77 339.34h4.50v1.37h-4.50zM531.09 339.48h4.50v1.35h-4.50zM536.41 339.29h4.50v1.35h-4.50zM541.74 339.43h4.50v1.33h-4.50zM547.06 339.56h4.50v1.31h-4.50zM552.38 339.13h4.50v1.35h-4.50zM557.71 338.84h4.50v1.38h-4.50zM563.03 338.41h4.50v1.42h-4.50zM568.35 338.50h4.50v1.44h-4.50z"/>
<path fill="#c1a8bf" d="M509.80 334.29h4.50v2.80h-4.50z"/>
<path fill="#729874" d="M509.80 332.51h4.50v1.78h-4.50z"/>
<path fill="#6a81c3" d="M509.80 292.24h4.50v6.05h-4.50z"/>
<path fill="#6f223b" d="M509.80 258.28h4.50v2.83h-4.50z"/>
<path fill="#8b81d4" d="M515.12 361.95h4.50v2.13h-4.50z"/>
<path fill="#5353d3" d="M515.12 345.86h4.50v2.13h-4.50z"/>
<path fill="#c943ce" d="M515.12 343.41h4.50v2.46h-4.50z"/>
<path fill="#c2a8c0" d="M515.12 333.77h4.50v2.84h-4.50z"/>
<path fill="#719875" d="M515.12 331.96h4.50v1.81h-4.50z"/>
<path fill="#6a81c4" d="M515.12 290.86h4.50v6.14h-4.50z"/>
<path fill="#6f2239" d="M515.12 256.34h4.50v2.89h-4.50z"/>
<path fill="#8c81d6" d="M520.44 361.86h4.50v2.16h-4.50z"/>
<path fill="#5353d4" d="M520.44 345.51h4.50v2.16h-4.50z"/>
<path fill="#ca43cf" d="M520.44 343.02h4.50v2.48h-4.50z"/>
<path fill="#c2a8c1" d="M520.44 333.31h4.50v2.87h-4.50zM525.77 333.02h4.50v2.89h-4.50z"/>
<path fill="#709875" d="M520.44 331.47h4.50v1.84h-4.50z"/>
<path fill="#6a81c5" d="M520.44 289.61h4.50v6.22h-4.50zM525.77 288.28h4.50v6.26h-4.50z"/>
<path fill="#6f2138" d="M520.44 254.60h4.50v2.95h-4.50z"/>
<path fill="#8d81d8" d="M525.77 361.80h4.50v2.18h-4.50z"/>
<path fill="#5252d5" d="M525.77 345.26h4.50v2.18h-4.50z"/>
<path fill="#cc42cf" d="M525.77 342.76h4.50v2.50h-4.50z"/>
<path fill="#6e9976" d="M525.77 331.16h4.50v1.86h-4.50z"/>
<path fill="#702136" d="M525.77 252.94h4.50v2.99h-4.50z"/>
<path fill="#8d81da" d="M531.09 361.83h4.50v2.17h-4.50z"/>
<path fill="#5252d6" d="M531.09 345.33h4.50v2.17h-4.50z"/>
<path fill="#cd42cf" d="M531.09 342.85h4.50v2.48h-4.50z"/>
<path fill="#6a6c62" d="M531.09 340.83h4.50v2.03h-4.50zM536.41 340.63h4.50v2.02h-4.50zM541.74 340.75h4.50v1.99h-4.50zM547.06 340.87h4.50v1.97h-4.50zM552.38 340.48h4.50v2.03h-4.50zM557.71 340.22h4.50v2.08h-4.50zM563.03 339.83h4.50v2.13h-4.50zM568.35 339.94h4.50v2.16h-4.50zM573.68 339.99h4.50v2.18h-4.50zM579.00 340.02h4.50v2.21h-4.50zM584.32 340.12h4.50v2.23h-4.50zM589.65 340.04h4.50v2.27h-4.50zM594.97 339.94h4.50v2.30h-4.50zM600.29 339.57h4.50v2.36h-4.50zM605.62 339.27h4.50v2.41h-4.50zM610.94 339.23h4.50v2.44h-4.50z"/>
<path fill="#6e7066" d="M531.09 336.10h4.50v2.03h-4.50zM536.41 335.92h4.50v2.02h-4.50zM541.74 336.10h4.50v1.99h-4.50zM547.06 336.28h4.50v1.97h-4.50zM552.38 335.75h4.50v2.03h-4.50zM557.71 335.38h4.50v2.08h-4.50zM563.03 334.85h4.50v2.13h-4.50zM568.35 334.90h4.50v2.16h-4.50zM573.68 334.90h4.50v2.18h-4.50zM579.00 334.87h4.50v2.21h-4.50zM584.32 334.91h4.50v2.23h-4.50zM589.65 334.75h4.50v2.27h-4.50zM594.97 334.56h4.50v2.30h-4.50zM600.29 334.07h4.50v2.36h-4.50zM605.62 333.65h4.50v2.41h-4.50zM610.94 333.54h4.50v2.44h-4.50z"/>
<path fill="#c3a8c2" d="M531.09 333.23h4.50v2.87h-4.50z"/>
<path fill="#6d9976" d="M531.09 331.38h4.50v1.86h-4.50z"/>
<path fill="#6a80c6" d="M531.09 288.08h4.50v6.22h-4.50z"/>
<path fill="#702135" d="M531.09 252.92h4.50v2.99h-4.50z"/>
<path fill="#8e80dc" d="M536.41 361.78h4.50v2.18h-4.50z"/>
<path fill="#5151d6" d="M536.41 345.14h4.50v2.18h-4.50z"/>
<path fill="#ce41cf" d="M536.41 342.66h4.50v2.49h-4.50z"/>
<path fill="#c3a8c3" d="M536.41 333.03h4.50v2.88h-4.50z"/>
<path fill="#6c9977" d="M536.41 331.16h4.50v1.87h-4.50z"/>
<path fill="#6a80c7" d="M536.41 286.94h4.50v6.25h-4.50zM541.74 286.75h4.50v6.21h-4.50z"/>
<path fill="#702133" d="M536.41 251.55h4.50v3.03h-4.50z"/>
<path fill="#8f80de" d="M541.74 361.81h4.50v2.17h-4.50z"/>
<path fill="#5151d7" d="M541.74 345.22h4.50v2.17h-4.50z"/>
<path fill="#cf41d0" d="M541.74 342.75h4.50v2.47h-4.50z"/>
<path fill="#c4a8c3" d="M541.74 333.24h4.50v2.86h-4.50z"/>
<path fill="#6b9a77" d="M541.74 331.38h4.50v1.87h-4.50z"/>
<path fill="#702032" d="M541.74 251.53h4.50v3.03h-4.50z"/>
<path fill="#9080e0" d="M547.06 361.83h4.50v2.15h-4.50zM552.38 361.73h4.50v2.19h-4.50zM557.71 361.65h4.50v2.22h-4.50zM563.03 361.54h4.50v2.26h-4.50zM568.35 361.55h4.50v2.26h-4.50zM573.68 361.54h4.50v2.27h-4.50zM579.00 361.53h4.50v2.28h-4.50zM584.32 361.54h4.50v2.28h-4.50zM589.65 361.50h4.50v2.29h-4.50zM594.97 361.46h4.50v2.31h-4.50zM600.29 361.32h4.50v2.34h-4.50zM605.62 361.20h4.50v2.37h-4.50zM610.94 361.13h4.50v2.38h-4.50zM616.27 361.09h4.50v2.38h-4.50zM621.59 361.05h4.50v2.38h-4.50zM626.91 361.19h4.50v2.32h-4.50zM632.24 361.00h4.50v2.37h-4.50zM637.56 360.95h4.50v2.37h-4.50zM642.88 360.77h4.50v2.42h-4.50zM648.21 360.65h4.50v2.45h-4.50zM653.53 360.62h4.50v2.43h-4.50zM658.85 360.59h4.50v2.41h-4.50zM664.18 360.40h4.50v2.44h-4.50zM669.50 360.30h4.50v2.44h-4.50zM674.82 360.35h4.50v2.39h-4.50zM680.15 360.30h4.50v2.37h-4.50zM685.47 360.11h4.50v2.40h-4.50zM690.79 360.07h4.50v2.38h-4.50zM696.12 360.03h4.50v2.37h-4.50zM701.44 360.10h4.50v2.31h-4.50zM706.76 360.05h4.50v2.30h-4.50zM712.09 360.01h4.50v2.28h-4.50zM717.41 359.98h4.50v2.26h-4.50zM722.74 359.81h4.50v2.28h-4.50z"/>
<path fill="#5050d8" d="M547.06 345.29h4.50v2.15h-4.50z"/>
<path fill="#d040d0" d="M547.06 342.84h4.50v2.45h-4.50z"/>
<path fill="#c4a8c4" d="M547.06 333.44h4.50v2.84h-4.50zM802.59 328.17h4.50v2.14h-4.50zM807.91 328.37h4.50v2.13h-4.50z"/>
<path fill="#6a9a78" d="M547.06 331.59h4.50v1.86h-4.50zM674.82 328.42h4.50v1.96h-4.50zM680.15 328.43h4.50v1.96h-4.50zM685.47 327.71h4.50v1.99h-4.50zM690.79 327.73h4.50v1.99h-4.50zM696.12 327.77h4.50v1.99h-4.50zM701.44 328.41h4.50v1.95h-4.50zM706.76 328.39h4.50v1.95h-4.50zM712.09 328.44h4.50v1.95h-4.50zM717.41 328.49h4.50v1.94h-4.50zM722.74 327.92h4.50v1.97h-4.50zM728.06 328.00h4.50v2.00h-4.50zM733.38 328.08h4.50v2.03h-4.50zM738.71 329.32h4.50v2.00h-4.50zM744.03 328.63h4.50v2.08h-4.50zM749.35 328.20h4.50v2.13h-4.50zM754.68 327.92h4.50v2.18h-4.50zM760.00 327.48h4.50v2.24h-4.50zM765.32 327.57h4.50v2.27h-4.50zM770.65 327.67h4.50v2.30h-4.50zM775.97 326.53h4.50v2.40h-4.50zM781.29 325.95h4.50v2.46h-4.50zM786.62 325.64h4.50v2.51h-4.50zM791.94 325.55h4.50v2.55h-4.50zM797.26 325.37h4.50v2.60h-4.50zM802.59 325.55h4.50v2.62h-4.50zM807.91 325.72h4.50v2.64h-4.50z"/>
<path fill="#6a80c8" d="M547.06 286.56h4.50v6.17h-4.50zM552.38 285.61h4.50v5.87h-4.50zM557.71 285.07h4.50v5.55h-4.50zM563.03 284.14h4.50v5.24h-4.50zM568.35 284.67h4.50v4.84h-4.50zM573.68 285.06h4.50v4.45h-4.50zM579.00 285.39h4.50v4.07h-4.50zM584.32 285.90h4.50v3.68h-4.50zM589.65 285.89h4.50v3.32h-4.50zM594.97 285.82h4.50v2.96h-4.50zM600.29 285.00h4.50v2.68h-4.50zM605.62 284.38h4.50v2.40h-4.50zM610.94 284.52h4.50v2.09h-4.50zM616.27 284.96h4.50v1.78h-4.50zM621.59 285.40h4.50v1.47h-4.50zM626.91 287.81h4.50v1.14h-4.50zM632.24 286.47h4.50v0.87h-4.50zM637.56 286.80h4.50v0.58h-4.50zM642.88 285.47h4.50v0.29h-4.50z"/>
<path fill="#702030" d="M547.06 251.51h4.50v3.03h-4.50z"/>
<path fill="#6055d7" d="M552.38 344.99h4.50v2.20h-4.50z"/>
<path fill="#b94bc2" d="M552.38 342.51h4.50v2.48h-4.50z"/>
<path fill="#c5a9c3" d="M552.38 332.93h4.50v2.82h-4.50zM786.62 328.16h4.50v2.13h-4.50zM791.94 328.10h4.50v2.14h-4.50z"/>
<path fill="#6a987d" d="M552.38 331.04h4.50v1.89h-4.50zM669.50 327.88h4.50v1.99h-4.50z"/>
<path fill="#2aa64a" d="M552.38 285.28h4.50v0.33h-4.50zM557.71 284.40h4.50v0.66h-4.50zM563.03 283.13h4.50v1.01h-4.50zM568.35 283.34h4.50v1.33h-4.50zM573.68 283.40h4.50v1.66h-4.50zM579.00 283.40h4.50v1.98h-4.50zM584.32 283.60h4.50v2.30h-4.50zM589.65 283.26h4.50v2.63h-4.50zM594.97 282.86h4.50v2.96h-4.50zM600.29 281.71h4.50v3.29h-4.50zM605.62 280.76h4.50v3.62h-4.50zM610.94 280.60h4.50v3.92h-4.50zM616.27 280.77h4.50v4.20h-4.50zM621.59 280.93h4.50v4.47h-4.50zM626.91 283.18h4.50v4.63h-4.50zM632.24 281.47h4.50v5.00h-4.50zM637.56 281.53h4.50v5.27h-4.50zM642.88 279.82h4.50v5.65h-4.50zM648.21 279.03h4.50v5.98h-4.50zM653.53 279.19h4.50v5.99h-4.50zM658.85 279.36h4.50v5.99h-4.50zM664.18 277.74h4.50v6.12h-4.50zM669.50 277.03h4.50v6.19h-4.50zM674.82 278.21h4.50v6.13h-4.50zM680.15 278.21h4.50v6.15h-4.50zM685.47 276.53h4.50v6.28h-4.50zM690.79 276.54h4.50v6.30h-4.50zM696.12 276.60h4.50v6.32h-4.50zM701.44 278.02h4.50v6.24h-4.50zM706.76 277.95h4.50v6.26h-4.50zM712.09 277.99h4.50v6.28h-4.50zM717.41 278.04h4.50v6.29h-4.50zM722.74 276.66h4.50v6.40h-4.50zM728.06 277.11h4.50v6.55h-4.50zM733.38 277.56h4.50v6.70h-4.50zM738.71 274.51h4.50v6.64h-4.50zM744.03 272.84h4.50v6.67h-4.50zM749.35 271.83h4.50v6.65h-4.50zM754.68 271.15h4.50v6.60h-4.50zM760.00 270.09h4.50v6.58h-4.50zM765.32 270.43h4.50v6.46h-4.50zM770.65 270.76h4.50v6.34h-4.50zM775.97 268.10h4.50v6.41h-4.50zM781.29 263.26h4.50v6.39h-4.50zM786.62 262.24h4.50v6.33h-4.50zM791.94 261.73h4.50v6.24h-4.50zM797.26 261.03h4.50v6.16h-4.50zM802.59 261.21h4.50v6.03h-4.50zM807.91 261.40h4.50v5.89h-4.50z"/>
<path fill="#712130" d="M552.38 249.54h4.50v3.20h-4.50z"/>
<path fill="#d9badf" d="M552.38 249.51h4.50v0.03h-4.50zM685.47 232.34h4.50v0.95h-4.50z"/>
<path fill="#7059d6" d="M557.71 344.80h4.50v2.23h-4.50z"/>
<path fill="#a257b5" d="M557.71 342.30h4.50v2.50h-4.50z"/>
<path fill="#c6a9c2" d="M557.71 332.59h4.50v2.80h-4.50zM775.97 328.92h4.50v2.08h-4.50zM781.29 328.41h4.50v2.11h-4.50z"/>
<path fill="#6b9781" d="M557.71 330.68h4.50v1.90h-4.50zM664.18 328.18h4.50v1.98h-4.50z"/>
<path fill="#73212f" d="M557.71 248.15h4.50v3.35h-4.50z"/>
<path fill="#d9bbdf" d="M557.71 248.08h4.50v0.06h-4.50z"/>
<path fill="#805ed5" d="M563.03 344.50h4.50v2.28h-4.50z"/>
<path fill="#8b62a7" d="M563.03 341.97h4.50v2.53h-4.50z"/>
<path fill="#c7aac1" d="M563.03 332.08h4.50v2.78h-4.50zM754.68 330.10h4.50v2.00h-4.50zM760.00 329.72h4.50v2.03h-4.50zM765.32 329.85h4.50v2.02h-4.50z"/>
<path fill="#6c9686" d="M563.03 330.15h4.50v1.93h-4.50zM658.85 328.88h4.50v1.95h-4.50z"/>
<path fill="#74222f" d="M563.03 246.18h4.50v3.52h-4.50z"/>
<path fill="#d9bce0" d="M563.03 246.08h4.50v0.10h-4.50z"/>
<path fill="#9062d3" d="M568.35 344.61h4.50v2.29h-4.50z"/>
<path fill="#756e99" d="M568.35 342.09h4.50v2.52h-4.50z"/>
<path fill="#c8abc0" d="M568.35 332.19h4.50v2.71h-4.50zM738.71 331.33h4.50v1.92h-4.50zM744.03 330.70h4.50v1.96h-4.50z"/>
<path fill="#6c948b" d="M568.35 330.27h4.50v1.92h-4.50zM653.53 328.79h4.50v1.95h-4.50z"/>
<path fill="#75222f" d="M568.35 246.33h4.50v3.63h-4.50z"/>
<path fill="#dabde0" d="M568.35 246.20h4.50v0.13h-4.50zM680.15 235.09h4.50v0.88h-4.50z"/>
<path fill="#a067d2" d="M573.68 344.69h4.50v2.30h-4.50z"/>
<path fill="#5e798b" d="M573.68 342.17h4.50v2.52h-4.50z"/>
<path fill="#6a7865" d="M573.68 338.54h4.50v1.45h-4.50zM579.00 338.55h4.50v1.47h-4.50zM584.32 338.63h4.50v1.49h-4.50zM589.65 338.53h4.50v1.51h-4.50zM594.97 338.40h4.50v1.54h-4.50zM600.29 338.00h4.50v1.57h-4.50zM605.62 337.67h4.50v1.61h-4.50zM610.94 337.61h4.50v1.63h-4.50z"/>
<path fill="#c9abbf" d="M573.68 332.25h4.50v2.65h-4.50zM722.74 329.89h4.50v1.97h-4.50zM728.06 330.00h4.50v1.97h-4.50zM733.38 330.11h4.50v1.97h-4.50z"/>
<path fill="#6c928f" d="M573.68 330.33h4.50v1.92h-4.50zM648.21 328.71h4.50v1.96h-4.50z"/>
<path fill="#77232e" d="M573.68 246.29h4.50v3.74h-4.50z"/>
<path fill="#dabfe1" d="M573.68 246.13h4.50v0.16h-4.50z"/>
<path fill="#b06bd1" d="M579.00 344.74h4.50v2.31h-4.50z"/>
<path fill="#47857e" d="M579.00 342.23h4.50v2.51h-4.50z"/>
<path fill="#caacbe" d="M579.00 332.27h4.50v2.59h-4.50zM701.44 330.36h4.50v1.95h-4.50zM706.76 330.34h4.50v1.95h-4.50zM712.09 330.39h4.50v1.95h-4.50zM717.41 330.44h4.50v1.94h-4.50z"/>
<path fill="#6d9194" d="M579.00 330.36h4.50v1.92h-4.50zM642.88 329.04h4.50v1.95h-4.50z"/>
<path fill="#78232e" d="M579.00 246.15h4.50v3.86h-4.50z"/>
<path fill="#dbc0e1" d="M579.00 245.96h4.50v0.19h-4.50zM674.82 235.35h4.50v0.83h-4.50z"/>
<path fill="#c070d0" d="M584.32 344.85h4.50v2.31h-4.50zM589.65 344.81h4.50v2.33h-4.50zM594.97 344.75h4.50v2.36h-4.50zM600.29 344.47h4.50v2.40h-4.50zM605.62 344.24h4.50v2.43h-4.50zM610.94 344.22h4.50v2.44h-4.50zM616.27 344.30h4.50v2.45h-4.50zM621.59 344.37h4.50v2.45h-4.50zM626.91 345.01h4.50v2.40h-4.50zM632.24 344.57h4.50v2.45h-4.50zM637.56 344.61h4.50v2.46h-4.50z"/>
<path fill="#309070" d="M584.32 342.35h4.50v2.50h-4.50zM589.65 342.31h4.50v2.50h-4.50zM594.97 342.24h4.50v2.51h-4.50zM600.29 341.93h4.50v2.54h-4.50zM605.62 341.68h4.50v2.56h-4.50zM610.94 341.67h4.50v2.55h-4.50zM616.27 341.76h4.50v2.54h-4.50zM621.59 341.84h4.50v2.53h-4.50zM626.91 342.55h4.50v2.46h-4.50zM632.24 342.07h4.50v2.50h-4.50zM637.56 342.12h4.50v2.49h-4.50z"/>
<path fill="#736a80" d="M584.32 337.14h4.50v1.49h-4.50zM589.65 337.02h4.50v1.51h-4.50zM594.97 336.87h4.50v1.54h-4.50zM600.29 336.43h4.50v1.57h-4.50zM605.62 336.06h4.50v1.61h-4.50zM610.94 335.98h4.50v1.63h-4.50z"/>
<path fill="#cbadbd" d="M584.32 332.38h4.50v2.53h-4.50zM685.47 329.70h4.50v1.99h-4.50zM690.79 329.72h4.50v1.99h-4.50zM696.12 329.76h4.50v1.99h-4.50z"/>
<path fill="#6e9099" d="M584.32 330.47h4.50v1.91h-4.50zM637.56 329.77h4.50v1.91h-4.50z"/>
<path fill="#7a242e" d="M584.32 246.29h4.50v3.96h-4.50z"/>
<path fill="#dbc1e2" d="M584.32 246.07h4.50v0.22h-4.50z"/>
<path fill="#ccadbc" d="M589.65 332.27h4.50v2.48h-4.50zM674.82 330.38h4.50v1.96h-4.50zM680.15 330.40h4.50v1.96h-4.50z"/>
<path fill="#6e8e9d" d="M589.65 330.35h4.50v1.91h-4.50zM632.24 329.73h4.50v1.92h-4.50z"/>
<path fill="#7b242d" d="M589.65 245.67h4.50v4.09h-4.50z"/>
<path fill="#dbc2e2" d="M589.65 245.42h4.50v0.25h-4.50z"/>
<path fill="#cdaebb" d="M594.97 332.13h4.50v2.44h-4.50zM653.53 330.75h4.50v1.95h-4.50zM658.85 330.83h4.50v1.95h-4.50zM664.18 330.16h4.50v1.98h-4.50z"/>
<path fill="#6e8ca2" d="M594.97 330.21h4.50v1.92h-4.50zM626.91 330.47h4.50v1.89h-4.50z"/>
<path fill="#7c252d" d="M594.97 244.95h4.50v4.22h-4.50z"/>
<path fill="#dcc4e3" d="M594.97 244.67h4.50v0.28h-4.50z"/>
<path fill="#3572b5" d="M600.29 363.67h4.50v0.05h-4.50zM605.62 363.57h4.50v0.10h-4.50zM610.94 363.51h4.50v0.15h-4.50zM616.27 363.47h4.50v0.20h-4.50zM621.59 363.43h4.50v0.25h-4.50zM626.91 363.51h4.50v0.29h-4.50zM632.24 363.37h4.50v0.34h-4.50zM637.56 363.33h4.50v0.38h-4.50zM642.88 363.19h4.50v0.44h-4.50zM648.21 363.10h4.50v0.49h-4.50zM653.53 363.05h4.50v0.56h-4.50zM658.85 362.99h4.50v0.63h-4.50zM664.18 362.84h4.50v0.71h-4.50zM669.50 362.73h4.50v0.78h-4.50zM674.82 362.74h4.50v0.84h-4.50zM680.15 362.68h4.50v0.91h-4.50zM685.47 362.51h4.50v1.00h-4.50zM690.79 362.45h4.50v1.07h-4.50zM696.12 362.39h4.50v1.14h-4.50zM701.44 362.42h4.50v1.19h-4.50zM706.76 362.35h4.50v1.26h-4.50zM712.09 362.29h4.50v1.32h-4.50zM717.41 362.24h4.50v1.39h-4.50zM722.74 362.09h4.50v1.48h-4.50zM728.06 362.18h4.50v1.54h-4.50zM733.38 362.27h4.50v1.61h-4.50zM738.71 362.53h4.50v1.63h-4.50zM744.03 362.51h4.50v1.72h-4.50zM749.35 362.53h4.50v1.81h-4.50zM754.68 362.57h4.50v1.89h-4.50zM760.00 362.59h4.50v1.98h-4.50zM765.32 362.63h4.50v2.11h-4.50zM770.65 362.67h4.50v2.23h-4.50zM775.97 362.55h4.50v2.42h-4.50zM781.29 362.50h4.50v2.59h-4.50zM786.62 362.49h4.50v2.74h-4.50zM791.94 362.51h4.50v2.87h-4.50zM797.26 362.51h4.50v3.02h-4.50zM802.59 362.56h4.50v3.14h-4.50zM807.91 362.61h4.50v3.25h-4.50z"/>
<path fill="#ceafba" d="M600.29 331.66h4.50v2.41h-4.50zM637.56 331.69h4.50v2.01h-4.50zM642.88 330.98h4.50v2.00h-4.50z"/>
<path fill="#6f8ba7" d="M600.29 329.71h4.50v1.94h-4.50zM621.59 329.45h4.50v1.94h-4.50z"/>
<path fill="#7e252d" d="M600.29 243.19h4.50v4.39h-4.50z"/>
<path fill="#dcc5e3" d="M600.29 242.88h4.50v0.31h-4.50z"/>
<path fill="#cfafb9" d="M605.62 331.27h4.50v2.38h-4.50zM626.91 332.35h4.50v2.09h-4.50zM632.24 331.65h4.50v2.07h-4.50z"/>
<path fill="#708aab" d="M605.62 329.31h4.50v1.96h-4.50zM616.27 329.36h4.50v1.95h-4.50z"/>
<path fill="#7f262d" d="M605.62 241.72h4.50v4.55h-4.50z"/>
<path fill="#ddc6e4" d="M605.62 241.37h4.50v0.35h-4.50zM664.18 235.19h4.50v0.74h-4.50z"/>
<path fill="#d0b0b8" d="M610.94 331.22h4.50v2.32h-4.50zM616.27 331.31h4.50v2.26h-4.50z"/>
<path fill="#7088b0" d="M610.94 329.26h4.50v1.96h-4.50z"/>
<path fill="#80262c" d="M610.94 241.39h4.50v4.66h-4.50z"/>
<path fill="#ddc7e4" d="M610.94 241.02h4.50v0.38h-4.50z"/>
<path fill="#6a6c61" d="M616.27 339.30h4.50v2.46h-4.50zM621.59 339.37h4.50v2.48h-4.50zM626.91 340.12h4.50v2.43h-4.50zM632.24 339.57h4.50v2.51h-4.50zM637.56 339.60h4.50v2.53h-4.50zM642.88 339.05h4.50v2.60h-4.50zM648.21 338.80h4.50v2.65h-4.50zM653.53 338.87h4.50v2.64h-4.50zM658.85 338.94h4.50v2.64h-4.50zM664.18 338.42h4.50v2.69h-4.50zM669.50 338.21h4.50v2.72h-4.50zM674.82 338.61h4.50v2.68h-4.50zM680.15 338.62h4.50v2.69h-4.50zM685.47 338.09h4.50v2.74h-4.50zM690.79 338.10h4.50v2.74h-4.50zM696.12 338.14h4.50v2.74h-4.50zM701.44 338.62h4.50v2.70h-4.50zM706.76 338.61h4.50v2.71h-4.50zM712.09 338.65h4.50v2.71h-4.50zM717.41 338.69h4.50v2.71h-4.50zM722.74 338.27h4.50v2.75h-4.50zM728.06 338.40h4.50v2.75h-4.50zM733.38 338.52h4.50v2.76h-4.50zM738.71 339.51h4.50v2.69h-4.50z"/>
<path fill="#697864" d="M616.27 337.66h4.50v1.64h-4.50zM621.59 337.71h4.50v1.65h-4.50zM626.91 338.50h4.50v1.62h-4.50zM632.24 337.90h4.50v1.67h-4.50zM637.56 337.91h4.50v1.68h-4.50zM642.88 337.31h4.50v1.73h-4.50zM648.21 337.04h4.50v1.76h-4.50zM653.53 337.11h4.50v1.76h-4.50z"/>
<path fill="#736980" d="M616.27 336.02h4.50v1.64h-4.50zM621.59 336.06h4.50v1.65h-4.50zM626.91 336.87h4.50v1.62h-4.50zM632.24 336.23h4.50v1.67h-4.50zM637.56 336.23h4.50v1.68h-4.50zM642.88 335.58h4.50v1.73h-4.50z"/>
<path fill="#6e7065" d="M616.27 333.57h4.50v2.46h-4.50zM621.59 333.59h4.50v2.48h-4.50zM626.91 334.44h4.50v2.43h-4.50zM632.24 333.72h4.50v2.51h-4.50zM637.56 333.70h4.50v2.53h-4.50zM642.88 332.98h4.50v2.60h-4.50zM648.21 332.63h4.50v2.65h-4.50zM653.53 332.70h4.50v2.64h-4.50zM658.85 332.78h4.50v2.64h-4.50zM664.18 332.14h4.50v2.69h-4.50zM669.50 331.87h4.50v2.72h-4.50zM674.82 332.35h4.50v2.68h-4.50zM680.15 332.36h4.50v2.69h-4.50zM685.47 331.70h4.50v2.74h-4.50zM690.79 331.71h4.50v2.74h-4.50zM696.12 331.74h4.50v2.74h-4.50zM701.44 332.32h4.50v2.70h-4.50zM706.76 332.30h4.50v2.71h-4.50zM712.09 332.34h4.50v2.71h-4.50zM717.41 332.38h4.50v2.71h-4.50zM722.74 331.86h4.50v2.75h-4.50zM728.06 331.97h4.50v2.75h-4.50zM733.38 332.08h4.50v2.76h-4.50zM738.71 333.24h4.50v2.69h-4.50z"/>
<path fill="#82272c" d="M616.27 241.54h4.50v4.76h-4.50z"/>
<path fill="#dec9e5" d="M616.27 241.13h4.50v0.41h-4.50z"/>
<path fill="#cfb0b9" d="M621.59 331.39h4.50v2.20h-4.50z"/>
<path fill="#83272c" d="M621.59 241.69h4.50v4.86h-4.50z"/>
<path fill="#decae5" d="M621.59 241.25h4.50v0.43h-4.50zM658.85 237.83h4.50v0.68h-4.50z"/>
<path fill="#85282b" d="M626.91 244.86h4.50v4.83h-4.50z"/>
<path fill="#decbe6" d="M626.91 244.41h4.50v0.45h-4.50z"/>
<path fill="#86282b" d="M632.24 242.29h4.50v5.03h-4.50z"/>
<path fill="#dfcce6" d="M632.24 241.80h4.50v0.49h-4.50z"/>
<path fill="#87292b" d="M637.56 242.28h4.50v5.13h-4.50z"/>
<path fill="#dfcee7" d="M637.56 241.76h4.50v0.52h-4.50z"/>
<path fill="#b76ed1" d="M642.88 344.18h4.50v2.52h-4.50z"/>
<path fill="#42877e" d="M642.88 341.65h4.50v2.53h-4.50z"/>
<path fill="#89292a" d="M642.88 239.70h4.50v5.34h-4.50z"/>
<path fill="#e0cfe7" d="M642.88 239.15h4.50v0.55h-4.50z"/>
<path fill="#ae6bd2" d="M648.21 343.99h4.50v2.55h-4.50z"/>
<path fill="#557e8b" d="M648.21 341.44h4.50v2.55h-4.50z"/>
<path fill="#726980" d="M648.21 335.27h4.50v1.76h-4.50zM653.53 335.34h4.50v1.76h-4.50zM658.85 335.42h4.50v1.76h-4.50zM664.18 334.83h4.50v1.79h-4.50zM669.50 334.59h4.50v1.81h-4.50zM674.82 335.03h4.50v1.79h-4.50zM680.15 335.04h4.50v1.79h-4.50zM685.47 334.44h4.50v1.83h-4.50zM690.79 334.45h4.50v1.83h-4.50zM696.12 334.48h4.50v1.83h-4.50zM701.44 335.02h4.50v1.80h-4.50zM706.76 335.00h4.50v1.80h-4.50z"/>
<path fill="#ceaeba" d="M648.21 330.67h4.50v1.96h-4.50z"/>
<path fill="#8a2a2a" d="M648.21 238.46h4.50v5.49h-4.50zM653.53 238.48h4.50v5.58h-4.50zM658.85 238.51h4.50v5.67h-4.50z"/>
<path fill="#e0d0e8" d="M648.21 237.87h4.50v0.59h-4.50z"/>
<path fill="#a569d3" d="M653.53 344.06h4.50v2.54h-4.50z"/>
<path fill="#677599" d="M653.53 341.51h4.50v2.55h-4.50z"/>
<path fill="#dfcde7" d="M653.53 237.85h4.50v0.63h-4.50z"/>
<path fill="#9b67d5" d="M658.85 344.12h4.50v2.53h-4.50z"/>
<path fill="#796ba7" d="M658.85 341.58h4.50v2.55h-4.50z"/>
<path fill="#697863" d="M658.85 337.18h4.50v1.76h-4.50zM664.18 336.63h4.50v1.79h-4.50zM669.50 336.40h4.50v1.81h-4.50zM674.82 336.82h4.50v1.79h-4.50zM680.15 336.83h4.50v1.79h-4.50zM685.47 336.26h4.50v1.83h-4.50zM690.79 336.28h4.50v1.83h-4.50zM696.12 336.31h4.50v1.83h-4.50z"/>
<path fill="#9265d6" d="M664.18 343.71h4.50v2.57h-4.50z"/>
<path fill="#8b62b5" d="M664.18 341.11h4.50v2.59h-4.50z"/>
<path fill="#8a2a29" d="M664.18 235.93h4.50v5.88h-4.50zM669.50 234.67h4.50v6.03h-4.50zM674.82 236.18h4.50v6.06h-4.50zM680.15 235.98h4.50v6.16h-4.50zM685.47 233.28h4.50v6.38h-4.50z"/>
<path fill="#8962d7" d="M669.50 343.54h4.50v2.59h-4.50z"/>
<path fill="#9e59c2" d="M669.50 340.92h4.50v2.62h-4.50z"/>
<path fill="#ccaebc" d="M669.50 329.88h4.50v1.99h-4.50z"/>
<path fill="#dcc3e3" d="M669.50 233.88h4.50v0.80h-4.50z"/>
<path fill="#8060d8" d="M674.82 343.88h4.50v2.55h-4.50z"/>
<path fill="#b050d0" d="M674.82 341.29h4.50v2.59h-4.50z"/>
<path fill="#805fd8" d="M680.15 343.90h4.50v2.55h-4.50z"/>
<path fill="#b24fd1" d="M680.15 341.31h4.50v2.59h-4.50z"/>
<path fill="#805fd9" d="M685.47 343.47h4.50v2.59h-4.50z"/>
<path fill="#b44fd1" d="M685.47 340.83h4.50v2.64h-4.50z"/>
<path fill="#7f5ed9" d="M690.79 343.49h4.50v2.59h-4.50z"/>
<path fill="#b64ed2" d="M690.79 340.84h4.50v2.65h-4.50z"/>
<path fill="#8b2a28" d="M690.79 233.08h4.50v6.49h-4.50zM696.12 232.95h4.50v6.59h-4.50zM701.44 234.83h4.50v6.59h-4.50zM706.76 234.52h4.50v6.70h-4.50zM712.09 234.39h4.50v6.79h-4.50z"/>
<path fill="#d7b6dd" d="M690.79 232.08h4.50v1.00h-4.50z"/>
<path fill="#7f5dd9" d="M696.12 343.53h4.50v2.58h-4.50z"/>
<path fill="#b84dd3" d="M696.12 340.88h4.50v2.65h-4.50z"/>
<path fill="#d6b3dc" d="M696.12 231.90h4.50v1.04h-4.50z"/>
<path fill="#7f5dda" d="M701.44 343.93h4.50v2.54h-4.50z"/>
<path fill="#ba4dd3" d="M701.44 341.32h4.50v2.61h-4.50z"/>
<path fill="#697862" d="M701.44 336.82h4.50v1.80h-4.50zM706.76 336.81h4.50v1.80h-4.50zM712.09 336.85h4.50v1.80h-4.50zM717.41 336.89h4.50v1.80h-4.50zM722.74 336.44h4.50v1.83h-4.50zM728.06 336.56h4.50v1.84h-4.50zM733.38 336.68h4.50v1.84h-4.50zM738.71 337.72h4.50v1.79h-4.50z"/>
<path fill="#d5b0db" d="M701.44 233.76h4.50v1.07h-4.50z"/>
<path fill="#7f5cda" d="M706.76 343.93h4.50v2.54h-4.50z"/>
<path fill="#bc4cd4" d="M706.76 341.32h4.50v2.62h-4.50z"/>
<path fill="#d4add9" d="M706.76 233.39h4.50v1.12h-4.50z"/>
<path fill="#7e5cda" d="M712.09 343.97h4.50v2.53h-4.50z"/>
<path fill="#bd4cd4" d="M712.09 341.36h4.50v2.62h-4.50z"/>
<path fill="#716980" d="M712.09 335.04h4.50v1.80h-4.50zM717.41 335.09h4.50v1.80h-4.50zM722.74 334.61h4.50v1.83h-4.50zM728.06 334.73h4.50v1.84h-4.50zM733.38 334.84h4.50v1.84h-4.50zM738.71 335.93h4.50v1.79h-4.50z"/>
<path fill="#7050e0" d="M712.09 291.90h4.50v0.04h-4.50zM717.41 292.02h4.50v0.07h-4.50zM722.74 290.95h4.50v0.11h-4.50zM728.06 291.55h4.50v0.15h-4.50zM733.38 292.15h4.50v0.19h-4.50zM738.71 288.82h4.50v0.22h-4.50zM744.03 287.33h4.50v0.26h-4.50zM749.35 286.41h4.50v0.30h-4.50zM754.68 285.76h4.50v0.34h-4.50zM760.00 284.78h4.50v0.38h-4.50zM765.32 284.99h4.50v0.42h-4.50zM770.65 285.19h4.50v0.45h-4.50zM775.97 282.84h4.50v0.50h-4.50zM781.29 278.10h4.50v0.78h-4.50zM786.62 277.09h4.50v1.06h-4.50zM791.94 276.51h4.50v1.33h-4.50zM797.26 275.78h4.50v1.61h-4.50zM802.59 275.80h4.50v1.87h-4.50zM807.91 275.83h4.50v2.13h-4.50z"/>
<path fill="#d3aad8" d="M712.09 233.22h4.50v1.17h-4.50z"/>
<path fill="#7e5bdb" d="M717.41 344.02h4.50v2.53h-4.50z"/>
<path fill="#bf4bd5" d="M717.41 341.40h4.50v2.62h-4.50z"/>
<path fill="#8b2a27" d="M717.41 234.27h4.50v6.89h-4.50zM722.74 232.02h4.50v7.09h-4.50zM728.06 232.26h4.50v7.09h-4.50zM733.38 232.50h4.50v7.08h-4.50zM738.71 230.56h4.50v6.87h-4.50z"/>
<path fill="#d2a6d7" d="M717.41 233.05h4.50v1.22h-4.50z"/>
<path fill="#7e5adb" d="M722.74 343.68h4.50v2.56h-4.50zM728.06 343.93h4.50v2.55h-4.50z"/>
<path fill="#c14ad6" d="M722.74 341.02h4.50v2.66h-4.50z"/>
<path fill="#d1a3d5" d="M722.74 230.74h4.50v1.28h-4.50z"/>
<path fill="#947ddb" d="M728.06 359.92h4.50v2.26h-4.50z"/>
<path fill="#c34ad6" d="M728.06 341.28h4.50v2.65h-4.50z"/>
<path fill="#7a60d8" d="M728.06 341.15h4.50v0.13h-4.50zM733.38 341.28h4.50v0.26h-4.50zM738.71 342.19h4.50v0.37h-4.50zM744.03 341.81h4.50v0.51h-4.50zM749.35 341.60h4.50v0.64h-4.50zM754.68 341.49h4.50v0.77h-4.50zM760.00 341.28h4.50v0.91h-4.50zM765.32 341.40h4.50v1.04h-4.50zM770.65 341.52h4.50v1.16h-4.50zM775.97 340.83h4.50v1.32h-4.50zM781.29 340.51h4.50v1.47h-4.50zM786.62 340.37h4.50v1.62h-4.50zM791.94 340.37h4.50v1.75h-4.50zM797.26 340.32h4.50v1.89h-4.50zM802.59 340.49h4.50v2.01h-4.50zM807.91 340.66h4.50v2.13h-4.50z"/>
<path fill="#402270" d="M728.06 308.27h4.50v0.05h-4.50zM733.38 308.33h4.50v0.10h-4.50zM738.71 310.13h4.50v0.14h-4.50zM744.03 309.03h4.50v0.19h-4.50zM749.35 308.34h4.50v0.24h-4.50zM754.68 307.85h4.50v0.29h-4.50zM760.00 307.12h4.50v0.35h-4.50zM765.32 307.24h4.50v0.40h-4.50zM770.65 307.35h4.50v0.44h-4.50zM775.97 305.60h4.50v0.50h-4.50zM781.29 302.63h4.50v1.53h-4.50zM786.62 302.34h4.50v1.66h-4.50zM791.94 302.36h4.50v1.79h-4.50zM797.26 302.27h4.50v1.91h-4.50zM802.59 302.72h4.50v2.02h-4.50zM807.91 303.16h4.50v2.13h-4.50z"/>
<path fill="#5a60d0" d="M728.06 277.06h4.50v0.05h-4.50zM733.38 277.46h4.50v0.10h-4.50zM738.71 274.37h4.50v0.14h-4.50zM744.03 272.65h4.50v0.19h-4.50zM749.35 271.59h4.50v0.24h-4.50zM754.68 270.86h4.50v0.29h-4.50zM760.00 269.75h4.50v0.35h-4.50zM765.32 270.04h4.50v0.40h-4.50zM770.65 270.32h4.50v0.44h-4.50zM775.97 267.60h4.50v0.50h-4.50zM781.29 261.21h4.50v2.04h-4.50zM786.62 260.16h4.50v2.07h-4.50zM791.94 259.63h4.50v2.09h-4.50zM797.26 258.91h4.50v2.12h-4.50zM802.59 259.09h4.50v2.13h-4.50zM807.91 259.26h4.50v2.13h-4.50z"/>
<path fill="#d0a0d4" d="M728.06 230.93h4.50v1.33h-4.50z"/>
<path fill="#977ad5" d="M733.38 360.03h4.50v2.24h-4.50z"/>
<path fill="#7d59dc" d="M733.38 344.19h4.50v2.55h-4.50z"/>
<path fill="#c549d7" d="M733.38 341.54h4.50v2.65h-4.50z"/>
<path fill="#cf9dd3" d="M733.38 231.12h4.50v1.37h-4.50z"/>
<path fill="#9a77d0" d="M738.71 360.37h4.50v2.16h-4.50z"/>
<path fill="#7d58dc" d="M738.71 345.13h4.50v2.47h-4.50zM744.03 344.92h4.50v2.51h-4.50z"/>
<path fill="#c748d8" d="M738.71 342.57h4.50v2.56h-4.50z"/>
<path fill="#ce9ad1" d="M738.71 229.18h4.50v1.38h-4.50z"/>
<path fill="#9e74ca" d="M744.03 360.33h4.50v2.18h-4.50z"/>
<path fill="#c948d8" d="M744.03 342.31h4.50v2.61h-4.50z"/>
<path fill="#6a6c60" d="M744.03 339.06h4.50v2.74h-4.50zM749.35 338.82h4.50v2.79h-4.50zM754.68 338.68h4.50v2.82h-4.50zM760.00 338.42h4.50v2.86h-4.50zM765.32 338.54h4.50v2.86h-4.50zM770.65 338.66h4.50v2.86h-4.50zM775.97 337.88h4.50v2.95h-4.50zM781.29 337.52h4.50v3.00h-4.50zM786.62 337.35h4.50v3.03h-4.50zM791.94 337.33h4.50v3.04h-4.50zM797.26 337.26h4.50v3.06h-4.50zM802.59 337.44h4.50v3.05h-4.50zM807.91 337.61h4.50v3.05h-4.50z"/>
<path fill="#687861" d="M744.03 337.23h4.50v1.83h-4.50zM749.35 336.96h4.50v1.86h-4.50zM754.68 336.80h4.50v1.88h-4.50zM760.00 336.51h4.50v1.91h-4.50zM765.32 336.64h4.50v1.91h-4.50zM770.65 336.76h4.50v1.91h-4.50zM775.97 335.92h4.50v1.97h-4.50zM781.29 335.52h4.50v2.00h-4.50z"/>
<path fill="#6e7064" d="M744.03 332.66h4.50v2.74h-4.50zM749.35 332.32h4.50v2.79h-4.50zM754.68 332.10h4.50v2.82h-4.50zM760.00 331.75h4.50v2.86h-4.50zM765.32 331.87h4.50v2.86h-4.50zM770.65 331.99h4.50v2.86h-4.50zM775.97 331.00h4.50v2.95h-4.50zM781.29 330.52h4.50v3.00h-4.50zM786.62 330.29h4.50v3.03h-4.50zM791.94 330.24h4.50v3.04h-4.50zM797.26 330.12h4.50v3.06h-4.50zM802.59 330.31h4.50v3.05h-4.50zM807.91 330.50h4.50v3.05h-4.50z"/>
<path fill="#8b2a26" d="M744.03 227.81h4.50v7.00h-4.50zM749.35 226.02h4.50v7.08h-4.50zM754.68 224.71h4.50v7.14h-4.50zM760.00 222.84h4.50v7.23h-4.50zM765.32 223.06h4.50v7.21h-4.50z"/>
<path fill="#cd96d0" d="M744.03 226.36h4.50v1.45h-4.50z"/>
<path fill="#a271c5" d="M749.35 360.34h4.50v2.19h-4.50z"/>
<path fill="#7d57dc" d="M749.35 344.88h4.50v2.54h-4.50z"/>
<path fill="#cb47d9" d="M749.35 342.24h4.50v2.63h-4.50z"/>
<path fill="#c8aac0" d="M749.35 330.34h4.50v1.98h-4.50z"/>
<path fill="#cc93cf" d="M749.35 224.51h4.50v1.51h-4.50z"/>
<path fill="#a56ec0" d="M754.68 360.38h4.50v2.19h-4.50z"/>
<path fill="#7c56dd" d="M754.68 344.92h4.50v2.55h-4.50zM760.00 344.87h4.50v2.58h-4.50z"/>
<path fill="#cd46da" d="M754.68 342.27h4.50v2.65h-4.50z"/>
<path fill="#cb90cd" d="M754.68 223.14h4.50v1.57h-4.50z"/>
<path fill="#a86bba" d="M760.00 360.39h4.50v2.20h-4.50z"/>
<path fill="#cf46da" d="M760.00 342.19h4.50v2.68h-4.50z"/>
<path fill="#ca8dcc" d="M760.00 221.20h4.50v1.64h-4.50z"/>
<path fill="#ac68b5" d="M765.32 360.45h4.50v2.18h-4.50z"/>
<path fill="#7c55dd" d="M765.32 345.11h4.50v2.57h-4.50z"/>
<path fill="#d145db" d="M765.32 342.44h4.50v2.67h-4.50z"/>
<path fill="#c98acb" d="M765.32 221.38h4.50v1.68h-4.50z"/>
<path fill="#b065b0" d="M770.65 360.52h4.50v2.16h-4.50z"/>
<path fill="#7c54de" d="M770.65 345.34h4.50v2.56h-4.50z"/>
<path fill="#d344dc" d="M770.65 342.69h4.50v2.66h-4.50z"/>
<path fill="#c6aac2" d="M770.65 329.97h4.50v2.02h-4.50z"/>
<path fill="#8c2a25" d="M770.65 223.28h4.50v7.19h-4.50zM775.97 219.04h4.50v7.39h-4.50zM781.29 211.79h4.50v7.49h-4.50zM786.62 210.20h4.50v7.54h-4.50zM791.94 209.36h4.50v7.56h-4.50z"/>
<path fill="#c786c9" d="M770.65 221.56h4.50v1.72h-4.50z"/>
<path fill="#b362aa" d="M775.97 360.35h4.50v2.20h-4.50z"/>
<path fill="#7b54de" d="M775.97 344.88h4.50v2.62h-4.50z"/>
<path fill="#d444dc" d="M775.97 342.16h4.50v2.72h-4.50z"/>
<path fill="#c683c8" d="M775.97 217.22h4.50v1.82h-4.50z"/>
<path fill="#b65fa5" d="M781.29 360.29h4.50v2.21h-4.50z"/>
<path fill="#7b53de" d="M781.29 344.74h4.50v2.66h-4.50z"/>
<path fill="#d643dd" d="M781.29 341.99h4.50v2.76h-4.50z"/>
<path fill="#c580c7" d="M781.29 209.90h4.50v1.89h-4.50z"/>
<path fill="#ba5ca0" d="M786.62 360.28h4.50v2.21h-4.50z"/>
<path fill="#7b53df" d="M786.62 344.76h4.50v2.67h-4.50z"/>
<path fill="#d843dd" d="M786.62 341.99h4.50v2.77h-4.50z"/>
<path fill="#687860" d="M786.62 335.33h4.50v2.02h-4.50zM791.94 335.30h4.50v2.03h-4.50zM797.26 335.22h4.50v2.04h-4.50zM802.59 335.40h4.50v2.04h-4.50zM807.91 335.58h4.50v2.03h-4.50z"/>
<path fill="#c47dc5" d="M786.62 208.25h4.50v1.95h-4.50z"/>
<path fill="#be599a" d="M791.94 360.31h4.50v2.20h-4.50z"/>
<path fill="#7b52df" d="M791.94 344.89h4.50v2.67h-4.50z"/>
<path fill="#da42de" d="M791.94 342.12h4.50v2.77h-4.50z"/>
<path fill="#c37ac4" d="M791.94 207.36h4.50v2.00h-4.50z"/>
<path fill="#c15695" d="M797.26 360.32h4.50v2.19h-4.50z"/>
<path fill="#7a51df" d="M797.26 344.98h4.50v2.68h-4.50z"/>
<path fill="#dc41df" d="M797.26 342.21h4.50v2.78h-4.50z"/>
<path fill="#c5a8c3" d="M797.26 327.97h4.50v2.15h-4.50z"/>
<path fill="#8c2a24" d="M797.26 208.24h4.50v7.59h-4.50zM802.59 208.45h4.50v7.55h-4.50zM807.91 208.65h4.50v7.52h-4.50z"/>
<path fill="#c276c3" d="M797.26 206.19h4.50v2.06h-4.50z"/>
<path fill="#c4538f" d="M802.59 360.40h4.50v2.16h-4.50z"/>
<path fill="#7a51e0" d="M802.59 345.26h4.50v2.66h-4.50z"/>
<path fill="#de41df" d="M802.59 342.50h4.50v2.76h-4.50z"/>
<path fill="#c173c1" d="M802.59 206.35h4.50v2.10h-4.50z"/>
<path fill="#c8508a" d="M807.91 360.48h4.50v2.13h-4.50z"/>
<path fill="#7a50e0" d="M807.91 345.54h4.50v2.64h-4.50z"/>
<path fill="#e040e0" d="M807.91 342.80h4.50v2.74h-4.50z"/>
</g>
<line x1="72" y1="368.3" x2="812.8" y2="368.3" stroke="#8a8a8a" stroke-width="1"/>
<g class="s" font-size="12.5">
<text x="81.5" y="389.8" text-anchor="middle" letter-spacing="0.3">Sep 2nd</text>
<text x="149.7" y="389.8" text-anchor="middle" letter-spacing="0.3">Sep 15th</text>
<text x="220.0" y="389.8" text-anchor="middle" letter-spacing="0.3">Sep 28th</text>
<text x="287.8" y="389.8" text-anchor="middle" letter-spacing="0.3">Oct 11th</text>
<text x="355.0" y="389.8" text-anchor="middle" letter-spacing="0.3">Oct 24th</text>
<text x="422.0" y="389.8" text-anchor="middle" letter-spacing="0.3">Nov 6th</text>
<text x="489.0" y="389.8" text-anchor="middle" letter-spacing="0.3">Nov 19th</text>
<text x="557.0" y="389.8" text-anchor="middle" letter-spacing="0.3">Dec 2nd</text>
<text x="624.8" y="389.8" text-anchor="middle" letter-spacing="0.3">Dec 15th</text>
<text x="695.3" y="389.8" text-anchor="middle" letter-spacing="0.3">Dec 28th</text>
<text x="764.6" y="389.8" text-anchor="middle" letter-spacing="0.3">Jan 10th</text>
</g>
<g class="s" font-size="12.5">
<text x="965.5" y="111.3" text-anchor="end">All</text>
<rect x="973.2" y="99.3" width="14.7" height="14.7" rx="2.5" fill="#646464"/>
<text x="965.5" y="131.6" text-anchor="end">PEPon</text>
<rect x="973.2" y="119.6" width="14.7" height="14.7" rx="2.5" fill="#8a9560"/>
<text x="965.5" y="151.9" text-anchor="end">OPENon</text>
<rect x="973.2" y="139.9" width="14.7" height="14.7" rx="2.5" fill="#1b3576"/>
<text x="965.5" y="172.2" text-anchor="end">CLOIon</text>
<rect x="973.2" y="160.2" width="14.7" height="14.7" rx="2.5" fill="#2b3a9c"/>
<text x="965.5" y="192.5" text-anchor="end">NVDAon</text>
<rect x="973.2" y="180.5" width="14.7" height="14.7" rx="2.5" fill="#5a4fd6"/>
<text x="965.5" y="212.8" text-anchor="end">VTVon</text>
<rect x="973.2" y="200.8" width="14.7" height="14.7" rx="2.5" fill="#7a5ee0"/>
<text x="965.5" y="233.1" text-anchor="end">CSCOon</text>
<rect x="973.2" y="221.1" width="14.7" height="14.7" rx="2.5" fill="#9866f0"/>
<text x="965.5" y="253.4" text-anchor="end">AVGOon</text>
<rect x="973.2" y="241.4" width="14.7" height="14.7" rx="2.5" fill="#e079ee"/>
<text x="965.5" y="273.7" text-anchor="end">TSMon</text>
<rect x="973.2" y="261.7" width="14.7" height="14.7" rx="2.5" fill="#fbbff8"/>
<text x="965.5" y="294.0" text-anchor="end">PDDon</text>
<rect x="973.2" y="282.0" width="14.7" height="14.7" rx="2.5" fill="#1f6a80"/>
<text x="965.5" y="314.3" text-anchor="end">CLOAin</text>
<rect x="973.2" y="302.3" width="14.7" height="14.7" rx="2.5" fill="#2a66c4"/>
<text x="965.5" y="334.6" text-anchor="end">BLSHon</text>
<rect x="973.2" y="322.6" width="14.7" height="14.7" rx="2.5" fill="#2a55e8"/>
<text x="965.5" y="354.9" text-anchor="end">TLNon</text>
<rect x="973.2" y="342.9" width="14.7" height="14.7" rx="2.5" fill="#4a42e0"/>
<text x="965.5" y="375.2" text-anchor="end">PALLon</text>
<rect x="973.2" y="363.2" width="14.7" height="14.7" rx="2.5" fill="#8a4ff0"/>
<text x="965.5" y="395.5" text-anchor="end">BABAon</text>
<rect x="973.2" y="383.5" width="14.7" height="14.7" rx="2.5" fill="#cc5cf0"/>
<text x="965.5" y="415.8" text-anchor="end">PDBCon</text>
<rect x="973.2" y="403.8" width="14.7" height="14.7" rx="2.5" fill="#fa88f8"/>
<text x="965.5" y="436.1" text-anchor="end">ISRGon</text>
<rect x="973.2" y="424.1" width="14.7" height="14.7" rx="2.5" fill="#838383"/>
<text x="987.8" y="456.4" text-anchor="end">Others</text>
</g>
<text class="s" x="416.5" y="565.3" font-size="14" fill="#333" textLength="201" lengthAdjust="spacingAndGlyphs">Source: @ondo_team, Dune.com</text>
</svg>
</body></html>
